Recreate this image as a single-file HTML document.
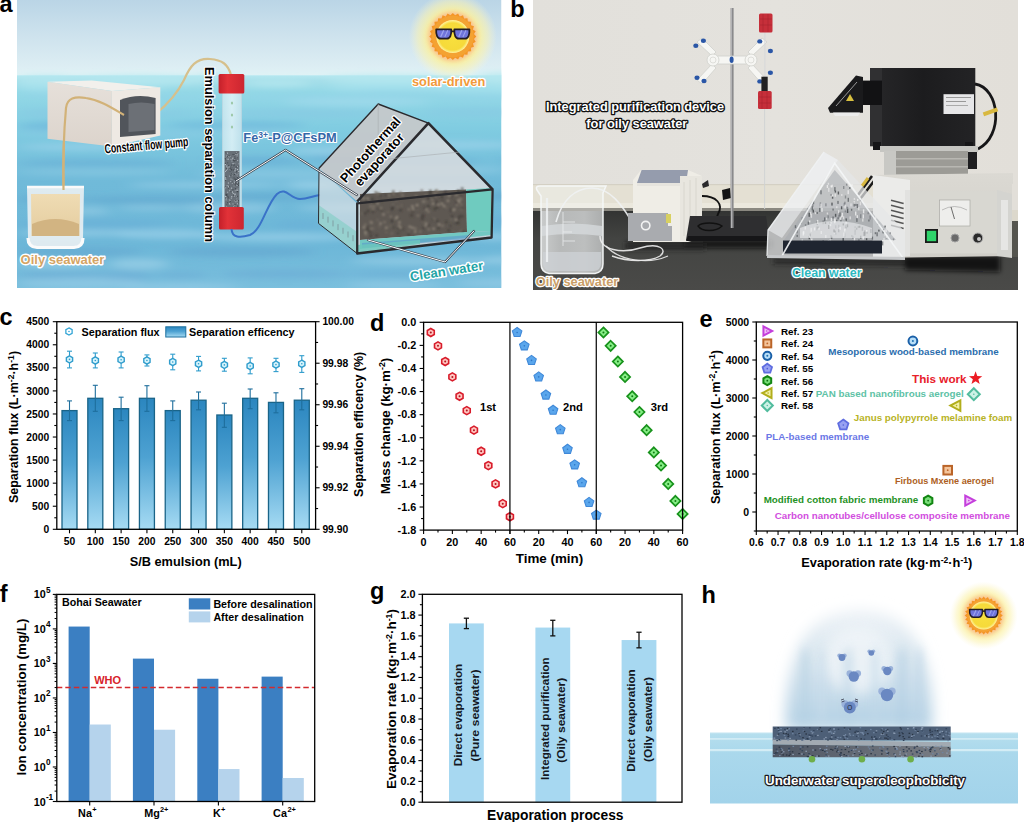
<!DOCTYPE html><html><head><meta charset="utf-8"><title>Figure</title><style>html,body{margin:0;padding:0;background:#fff;}body{width:1024px;height:822px;overflow:hidden;position:relative;}svg{display:block;font-family:'Liberation Sans', Arial, Helvetica, sans-serif;}</style></head><body>
<svg width="1024" height="822" viewBox="0 0 1024 822">
<defs><clipPath id="clipA"><rect x="17" y="0" width="484.5" height="288"/></clipPath><linearGradient id="skyA" x1="0" y1="0" x2="0" y2="1"><stop offset="0" stop-color="#bad5e6"/><stop offset="0.45" stop-color="#cde2ed"/><stop offset="0.85" stop-color="#dcedf3"/><stop offset="1" stop-color="#e0f3f6"/></linearGradient><linearGradient id="seaA" x1="0" y1="0" x2="0" y2="1"><stop offset="0" stop-color="#b6e8f0"/><stop offset="0.025" stop-color="#a4dee9"/><stop offset="0.08" stop-color="#93d8e6"/><stop offset="0.25" stop-color="#80cce1"/><stop offset="0.5" stop-color="#70bad9"/><stop offset="0.8" stop-color="#6db7d8"/><stop offset="1" stop-color="#7abfdd"/></linearGradient><filter id="blurA" x="-20%" y="-100%" width="140%" height="300%"><feGaussianBlur stdDeviation="7 3.2"/></filter><filter id="blurS" x="-20%" y="-50%" width="140%" height="200%"><feGaussianBlur stdDeviation="0.9"/></filter><filter id="blurG" x="-50%" y="-50%" width="200%" height="200%"><feGaussianBlur stdDeviation="1.5"/></filter><linearGradient id="capR" x1="0" y1="0" x2="1" y2="0"><stop offset="0" stop-color="#c4202a"/><stop offset="0.35" stop-color="#e23238"/><stop offset="1" stop-color="#cc2630"/></linearGradient><linearGradient id="boxSide" x1="0" y1="0" x2="0" y2="1"><stop offset="0" stop-color="#e6e0da"/><stop offset="1" stop-color="#dcd4cc"/></linearGradient><linearGradient id="beakerL" x1="0" y1="0" x2="0" y2="1"><stop offset="0" stop-color="#efdcb4"/><stop offset="1" stop-color="#e4cc9e"/></linearGradient><linearGradient id="tubeA" x1="0" y1="0" x2="1" y2="0"><stop offset="0" stop-color="#cfe9f0"/><stop offset="0.5" stop-color="#e8f6f9"/><stop offset="1" stop-color="#cde6ee"/></linearGradient></defs>
<g clip-path="url(#clipA)">
<rect x="17.00" y="0.00" width="484.50" height="76.30" fill="url(#skyA)" stroke="none" stroke-width="1" />
<rect x="17.00" y="75.30" width="484.50" height="212.70" fill="url(#seaA)" stroke="none" stroke-width="1" />
<g filter="url(#blurA)">
<ellipse cx="47" cy="80" rx="30" ry="4.6" fill="#b6e8f0" opacity="0.9"/>
<ellipse cx="139" cy="80" rx="68" ry="4.9" fill="#b6e8f0" opacity="0.9"/>
<ellipse cx="216" cy="77" rx="20" ry="3.6" fill="#b6e8f0" opacity="0.9"/>
<ellipse cx="278" cy="83" rx="34" ry="3.2" fill="#b6e8f0" opacity="0.9"/>
<ellipse cx="396" cy="79" rx="73" ry="4.3" fill="#b6e8f0" opacity="0.9"/>
<ellipse cx="502" cy="78" rx="27" ry="5.4" fill="#b6e8f0" opacity="0.9"/>
<ellipse cx="44" cy="86" rx="27" ry="5.3" fill="#a8e2ee" opacity="0.7"/>
<ellipse cx="119" cy="88" rx="49" ry="3.1" fill="#a8e2ee" opacity="0.7"/>
<ellipse cx="392" cy="87" rx="65" ry="4.8" fill="#a8e2ee" opacity="0.7"/>
<ellipse cx="488" cy="89" rx="49" ry="5.0" fill="#a8e2ee" opacity="0.7"/>
<ellipse cx="62" cy="95" rx="45" ry="3.6" fill="#92d4e8" opacity="0.6"/>
<ellipse cx="176" cy="97" rx="43" ry="2.6" fill="#92d4e8" opacity="0.6"/>
<ellipse cx="294" cy="97" rx="50" ry="4.0" fill="#92d4e8" opacity="0.6"/>
<ellipse cx="392" cy="94" rx="57" ry="4.2" fill="#92d4e8" opacity="0.6"/>
<ellipse cx="476" cy="97" rx="41" ry="5.3" fill="#92d4e8" opacity="0.6"/>
<ellipse cx="122" cy="106" rx="42" ry="4.6" fill="#a6dcee" opacity="0.6"/>
<ellipse cx="358" cy="102" rx="73" ry="4.0" fill="#a6dcee" opacity="0.6"/>
<ellipse cx="66" cy="113" rx="49" ry="5.0" fill="#88c8e4" opacity="0.5"/>
<ellipse cx="155" cy="113" rx="45" ry="3.0" fill="#88c8e4" opacity="0.5"/>
<ellipse cx="301" cy="113" rx="79" ry="4.7" fill="#88c8e4" opacity="0.5"/>
<ellipse cx="476" cy="112" rx="52" ry="4.7" fill="#88c8e4" opacity="0.5"/>
<ellipse cx="85" cy="126" rx="68" ry="5.1" fill="#66aed8" opacity="0.55"/>
<ellipse cx="236" cy="125" rx="71" ry="3.4" fill="#66aed8" opacity="0.55"/>
<ellipse cx="45" cy="133" rx="28" ry="2.8" fill="#8ccae6" opacity="0.5"/>
<ellipse cx="103" cy="134" rx="28" ry="5.1" fill="#8ccae6" opacity="0.5"/>
<ellipse cx="175" cy="134" rx="39" ry="4.0" fill="#8ccae6" opacity="0.5"/>
<ellipse cx="248" cy="133" rx="43" ry="4.6" fill="#8ccae6" opacity="0.5"/>
<ellipse cx="80" cy="147" rx="63" ry="3.3" fill="#a4d6ec" opacity="0.6"/>
<ellipse cx="343" cy="151" rx="56" ry="4.0" fill="#a4d6ec" opacity="0.6"/>
<ellipse cx="456" cy="145" rx="62" ry="4.1" fill="#a4d6ec" opacity="0.6"/>
<ellipse cx="96" cy="163" rx="79" ry="3.6" fill="#62a8d4" opacity="0.5"/>
<ellipse cx="256" cy="161" rx="47" ry="4.4" fill="#62a8d4" opacity="0.5"/>
<ellipse cx="356" cy="158" rx="51" ry="3.7" fill="#62a8d4" opacity="0.5"/>
<ellipse cx="435" cy="162" rx="46" ry="3.2" fill="#62a8d4" opacity="0.5"/>
<ellipse cx="543" cy="160" rx="47" ry="3.2" fill="#62a8d4" opacity="0.5"/>
<ellipse cx="95" cy="172" rx="78" ry="2.8" fill="#94cce6" opacity="0.55"/>
<ellipse cx="271" cy="174" rx="73" ry="4.8" fill="#94cce6" opacity="0.55"/>
<ellipse cx="435" cy="170" rx="72" ry="4.6" fill="#94cce6" opacity="0.55"/>
<ellipse cx="207" cy="185" rx="79" ry="2.5" fill="#a8d8ee" opacity="0.6"/>
<ellipse cx="314" cy="185" rx="29" ry="4.2" fill="#a8d8ee" opacity="0.6"/>
<ellipse cx="423" cy="189" rx="65" ry="3.9" fill="#a8d8ee" opacity="0.6"/>
<ellipse cx="49" cy="199" rx="32" ry="3.5" fill="#5e9fcc" opacity="0.5"/>
<ellipse cx="154" cy="200" rx="77" ry="3.5" fill="#5e9fcc" opacity="0.5"/>
<ellipse cx="273" cy="197" rx="61" ry="3.1" fill="#5e9fcc" opacity="0.5"/>
<ellipse cx="409" cy="199" rx="76" ry="3.9" fill="#5e9fcc" opacity="0.5"/>
<ellipse cx="507" cy="196" rx="30" ry="3.7" fill="#5e9fcc" opacity="0.5"/>
<ellipse cx="89" cy="211" rx="21" ry="4.0" fill="#9ccfe8" opacity="0.55"/>
<ellipse cx="151" cy="208" rx="34" ry="2.5" fill="#9ccfe8" opacity="0.55"/>
<ellipse cx="229" cy="208" rx="47" ry="5.2" fill="#9ccfe8" opacity="0.55"/>
<ellipse cx="365" cy="208" rx="69" ry="4.1" fill="#9ccfe8" opacity="0.55"/>
<ellipse cx="93" cy="224" rx="76" ry="5.2" fill="#6aaed8" opacity="0.5"/>
<ellipse cx="300" cy="225" rx="24" ry="4.9" fill="#6aaed8" opacity="0.5"/>
<ellipse cx="393" cy="223" rx="68" ry="3.5" fill="#6aaed8" opacity="0.5"/>
<ellipse cx="512" cy="221" rx="58" ry="5.2" fill="#6aaed8" opacity="0.5"/>
<ellipse cx="78" cy="233" rx="61" ry="3.1" fill="#a4d6ec" opacity="0.6"/>
<ellipse cx="166" cy="234" rx="50" ry="4.5" fill="#a4d6ec" opacity="0.6"/>
<ellipse cx="277" cy="237" rx="76" ry="4.1" fill="#a4d6ec" opacity="0.6"/>
<ellipse cx="493" cy="237" rx="22" ry="3.6" fill="#a4d6ec" opacity="0.6"/>
<ellipse cx="80" cy="252" rx="63" ry="4.0" fill="#5f9ecc" opacity="0.45"/>
<ellipse cx="242" cy="252" rx="74" ry="4.5" fill="#5f9ecc" opacity="0.45"/>
<ellipse cx="58" cy="264" rx="41" ry="4.3" fill="#a2d4ea" opacity="0.6"/>
<ellipse cx="139" cy="264" rx="30" ry="5.3" fill="#a2d4ea" opacity="0.6"/>
<ellipse cx="423" cy="261" rx="73" ry="3.6" fill="#a2d4ea" opacity="0.6"/>
<ellipse cx="532" cy="260" rx="52" ry="4.9" fill="#a2d4ea" opacity="0.6"/>
<ellipse cx="62" cy="275" rx="45" ry="4.2" fill="#6aa8d4" opacity="0.5"/>
<ellipse cx="126" cy="276" rx="26" ry="5.3" fill="#6aa8d4" opacity="0.5"/>
<ellipse cx="182" cy="275" rx="27" ry="3.2" fill="#6aa8d4" opacity="0.5"/>
<ellipse cx="285" cy="274" rx="65" ry="4.5" fill="#6aa8d4" opacity="0.5"/>
<ellipse cx="398" cy="274" rx="49" ry="3.3" fill="#6aa8d4" opacity="0.5"/>
<ellipse cx="81" cy="283" rx="64" ry="5.5" fill="#9ed0ea" opacity="0.5"/>
<ellipse cx="179" cy="287" rx="60" ry="4.2" fill="#9ed0ea" opacity="0.5"/>
<ellipse cx="394" cy="285" rx="48" ry="3.7" fill="#9ed0ea" opacity="0.5"/>
<ellipse cx="527" cy="283" rx="72" ry="4.8" fill="#9ed0ea" opacity="0.5"/>
</g>
<defs><radialGradient id="sunAg" cx="0.5" cy="0.5" r="0.5"><stop offset="0" stop-color="#fff38a" stop-opacity="1"/><stop offset="0.55" stop-color="#fbf196" stop-opacity="0.95"/><stop offset="0.8" stop-color="#fbf3b4" stop-opacity="0.55"/><stop offset="1" stop-color="#fbf6d0" stop-opacity="0"/></radialGradient><radialGradient id="sunAd" cx="0.5" cy="0.5" r="0.5"><stop offset="0" stop-color="#f8e03e"/><stop offset="0.82" stop-color="#f6da3a"/><stop offset="1" stop-color="#fff4a0"/></radialGradient><filter id="sunAf" x="-50%" y="-50%" width="200%" height="200%"><feGaussianBlur stdDeviation="0.7"/></filter><filter id="sunAp" x="-50%" y="-50%" width="200%" height="200%"><feGaussianBlur stdDeviation="2.2"/></filter></defs>
<circle cx="452.8" cy="36.5" r="44" fill="url(#sunAg)"/>
<circle cx="452.8" cy="36.5" r="24.5" fill="#f7a890" opacity="0.7" filter="url(#sunAp)"/>
<g filter="url(#sunAf)"><polygon points="476.30,36.50 473.97,38.88 475.71,41.73 472.90,43.53 473.97,46.70 470.84,47.83 471.17,51.15 467.86,51.56 467.45,54.87 464.13,54.54 463.00,57.67 459.83,56.60 458.03,59.41 455.18,57.67 452.80,60.00 450.42,57.67 447.57,59.41 445.77,56.60 442.60,57.67 441.47,54.54 438.15,54.87 437.74,51.56 434.43,51.15 434.76,47.83 431.63,46.70 432.70,43.53 429.89,41.73 431.63,38.88 429.30,36.50 431.63,34.12 429.89,31.27 432.70,29.47 431.63,26.30 434.76,25.17 434.43,21.85 437.74,21.44 438.15,18.13 441.47,18.46 442.60,15.33 445.77,16.40 447.57,13.59 450.42,15.33 452.80,13.00 455.18,15.33 458.03,13.59 459.83,16.40 463.00,15.33 464.13,18.46 467.45,18.13 467.86,21.44 471.17,21.85 470.84,25.17 473.97,26.30 472.90,29.47 475.71,31.27 473.97,34.12" fill="#f49628"/><circle cx="452.8" cy="36.5" r="20.90" fill="#f4a232"/></g>
<circle cx="452.8" cy="36.5" r="16.5" fill="url(#sunAd)"/>
<path d="M436.20,29.28 L451.25,29.28 C451.56,34.95 450.12,38.67 446.82,38.67 L440.63,38.67 C437.33,38.67 435.89,34.95 436.20,29.28 Z" fill="#6f74dc" stroke="#231c26" stroke-width="1.75" stroke-linejoin="round"/>
<line x1="440.63" y1="37.02" x2="443.73" y2="30.31" stroke="#9ea4ee" stroke-width="1.34"/>
<line x1="444.76" y1="37.02" x2="447.85" y2="30.31" stroke="#9ea4ee" stroke-width="1.03"/>
<path d="M454.35,29.28 L469.40,29.28 C469.71,34.95 468.27,38.67 464.97,38.67 L458.78,38.67 C455.48,38.67 454.04,34.95 454.35,29.28 Z" fill="#6f74dc" stroke="#231c26" stroke-width="1.75" stroke-linejoin="round"/>
<line x1="458.78" y1="37.02" x2="461.88" y2="30.31" stroke="#9ea4ee" stroke-width="1.34"/>
<line x1="462.91" y1="37.02" x2="466.00" y2="30.31" stroke="#9ea4ee" stroke-width="1.03"/>
<line x1="451.15" y1="31.34" x2="454.45" y2="31.34" stroke="#231c26" stroke-width="1.86"/>
<text x="448.60" y="86.00" font-size="12.8" font-weight="bold" text-anchor="middle" fill="#f29a3a" stroke="#fff" stroke-width="2.4" stroke-linejoin="round" paint-order="stroke" >solar-driven</text>
<path d="M63.5,190 C63,160 64,130 66,108 C67,98 75,96 86,98 C100,100 112,108 124,115" fill="none" stroke="#d2b278" stroke-width="2.2"/>
<path d="M155.6,114 C168,104 178,92 184,80 C190,66 196,58 210,59 C222,60 228,64 231,75" fill="none" stroke="#d6c08c" stroke-width="2.2"/>
<path d="M27,187 L84,187 L83,238 Q83,245 76,246 L35,246 Q28,245 28,238 Z" fill="#f2f3f4" opacity="0.85"/>
<path d="M31,194 L80,194 L79.5,236 L31.5,236 Z" fill="url(#beakerL)"/>
<path d="M32,224 Q55,214 79,224 L79,236 L32,236 Z" fill="#d2b482"/>
<path d="M27,187 L84,187" stroke="#fafafa" stroke-width="2.5"/>
<path d="M28,238 Q28,247 37,247.5 L74,247.5 Q83,247 83,238" fill="none" stroke="#fbfbfb" stroke-width="3.2"/>
<text x="62.50" y="263.80" font-size="13.0" font-weight="bold" text-anchor="middle" fill="#d4a464" stroke="#fff" stroke-width="2.8" stroke-linejoin="round" paint-order="stroke" >Oily seawater</text>
<polygon points="47.50,81.70 91.60,80.60 160.30,87.20 111.90,91.10" fill="#f2f0ec" stroke="none" stroke-width="1" />
<polygon points="47.50,81.70 111.90,91.10 111.90,146.60 47.50,138.80" fill="url(#boxSide)" stroke="none" stroke-width="1" />
<polygon points="111.90,91.10 160.30,87.20 160.30,135.60 111.90,146.60" fill="#eee9e3" stroke="none" stroke-width="1" />
<path d="M120,100 Q137,93 155.6,98 L155.6,134 L120,137 Z" fill="#51555b"/>
<path d="M128.5,104 Q141,101 154.5,104 L154.5,130 L128.5,132 Z" fill="#6c7076"/>
<path d="M63.5,190 C63,160 64,130 66,108 C67,98 75,96 86,98 C100,100 112,108 124,115" fill="none" stroke="#d2b278" stroke-width="2.2"/>
<text x="0.00" y="0.00" font-size="13.4" font-weight="bold" text-anchor="start" fill="#000" stroke="#fff" stroke-width="2.8" stroke-linejoin="round" paint-order="stroke" transform="translate(105,153.4) rotate(-5)" textLength="84" lengthAdjust="spacingAndGlyphs">Constant flow pump</text>
<rect x="222.5" y="90" width="19" height="122" fill="url(#tubeA)" opacity="0.8"/>
<rect x="222.5" y="90" width="19" height="122" fill="none" stroke="#bcd8e2" stroke-width="0.8"/>
<rect x="224.5" y="151" width="15" height="58" fill="#687078"/>
<rect x="227.8" y="182.5" width="1.1" height="1.1" fill="#b8c0c8"/><rect x="237.3" y="178.5" width="1.1" height="1.1" fill="#8a9298"/><rect x="225.4" y="152.3" width="1.1" height="1.1" fill="#4a5056"/><rect x="228.1" y="164.9" width="1.1" height="1.1" fill="#4a5056"/><rect x="232.1" y="182.8" width="1.1" height="1.1" fill="#4a5056"/><rect x="233.4" y="160.1" width="1.1" height="1.1" fill="#3e444a"/><rect x="236.7" y="181.3" width="1.1" height="1.1" fill="#a4acb4"/><rect x="233.9" y="155.1" width="1.1" height="1.1" fill="#8a9298"/><rect x="225.1" y="196.0" width="1.1" height="1.1" fill="#b8c0c8"/><rect x="231.1" y="192.5" width="1.1" height="1.1" fill="#4a5056"/><rect x="234.5" y="204.0" width="1.1" height="1.1" fill="#4a5056"/><rect x="234.7" y="184.4" width="1.1" height="1.1" fill="#3e444a"/><rect x="236.8" y="157.1" width="1.1" height="1.1" fill="#3e444a"/><rect x="231.4" y="166.2" width="1.1" height="1.1" fill="#4a5056"/><rect x="235.4" y="200.2" width="1.1" height="1.1" fill="#4a5056"/><rect x="231.6" y="173.5" width="1.1" height="1.1" fill="#b8c0c8"/><rect x="232.0" y="174.7" width="1.1" height="1.1" fill="#3e444a"/><rect x="237.2" y="190.4" width="1.1" height="1.1" fill="#a4acb4"/><rect x="236.5" y="208.0" width="1.1" height="1.1" fill="#3e444a"/><rect x="234.3" y="170.1" width="1.1" height="1.1" fill="#8a9298"/><rect x="237.2" y="183.9" width="1.1" height="1.1" fill="#3e444a"/><rect x="233.4" y="207.8" width="1.1" height="1.1" fill="#b8c0c8"/><rect x="228.5" y="155.1" width="1.1" height="1.1" fill="#4a5056"/><rect x="225.7" y="197.1" width="1.1" height="1.1" fill="#4a5056"/><rect x="237.1" y="152.6" width="1.1" height="1.1" fill="#4a5056"/><rect x="235.3" y="201.2" width="1.1" height="1.1" fill="#a4acb4"/><rect x="233.0" y="194.9" width="1.1" height="1.1" fill="#4a5056"/><rect x="234.6" y="170.4" width="1.1" height="1.1" fill="#b8c0c8"/><rect x="231.6" y="208.4" width="1.1" height="1.1" fill="#b8c0c8"/><rect x="224.6" y="157.7" width="1.1" height="1.1" fill="#8a9298"/><rect x="224.9" y="162.8" width="1.1" height="1.1" fill="#4a5056"/><rect x="228.6" y="166.5" width="1.1" height="1.1" fill="#a4acb4"/><rect x="238.2" y="170.9" width="1.1" height="1.1" fill="#b8c0c8"/><rect x="237.9" y="202.6" width="1.1" height="1.1" fill="#4a5056"/><rect x="229.8" y="201.1" width="1.1" height="1.1" fill="#4a5056"/><rect x="233.5" y="185.5" width="1.1" height="1.1" fill="#8a9298"/><rect x="225.9" y="207.0" width="1.1" height="1.1" fill="#8a9298"/><rect x="228.3" y="187.7" width="1.1" height="1.1" fill="#3e444a"/><rect x="237.6" y="176.4" width="1.1" height="1.1" fill="#b8c0c8"/><rect x="231.8" y="182.8" width="1.1" height="1.1" fill="#a4acb4"/><rect x="235.5" y="207.8" width="1.1" height="1.1" fill="#b8c0c8"/><rect x="224.8" y="186.6" width="1.1" height="1.1" fill="#3e444a"/><rect x="225.3" y="187.3" width="1.1" height="1.1" fill="#4a5056"/><rect x="229.4" y="203.8" width="1.1" height="1.1" fill="#8a9298"/><rect x="234.4" y="193.6" width="1.1" height="1.1" fill="#a4acb4"/><rect x="232.8" y="205.9" width="1.1" height="1.1" fill="#a4acb4"/><rect x="238.0" y="165.8" width="1.1" height="1.1" fill="#4a5056"/><rect x="228.7" y="185.8" width="1.1" height="1.1" fill="#3e444a"/><rect x="229.6" y="169.3" width="1.1" height="1.1" fill="#b8c0c8"/><rect x="236.3" y="166.6" width="1.1" height="1.1" fill="#4a5056"/><rect x="226.0" y="197.8" width="1.1" height="1.1" fill="#8a9298"/><rect x="234.1" y="159.0" width="1.1" height="1.1" fill="#8a9298"/><rect x="227.6" y="197.3" width="1.1" height="1.1" fill="#3e444a"/><rect x="229.1" y="190.1" width="1.1" height="1.1" fill="#a4acb4"/><rect x="225.9" y="169.9" width="1.1" height="1.1" fill="#b8c0c8"/><rect x="233.9" y="164.3" width="1.1" height="1.1" fill="#3e444a"/><rect x="225.6" y="193.8" width="1.1" height="1.1" fill="#3e444a"/><rect x="236.9" y="177.2" width="1.1" height="1.1" fill="#3e444a"/><rect x="235.5" y="153.4" width="1.1" height="1.1" fill="#3e444a"/><rect x="228.9" y="199.2" width="1.1" height="1.1" fill="#8a9298"/><rect x="227.1" y="167.4" width="1.1" height="1.1" fill="#a4acb4"/><rect x="235.8" y="171.2" width="1.1" height="1.1" fill="#3e444a"/><rect x="230.4" y="181.0" width="1.1" height="1.1" fill="#b8c0c8"/><rect x="231.0" y="187.6" width="1.1" height="1.1" fill="#b8c0c8"/><rect x="230.4" y="174.8" width="1.1" height="1.1" fill="#4a5056"/><rect x="226.7" y="151.8" width="1.1" height="1.1" fill="#8a9298"/><rect x="238.3" y="176.3" width="1.1" height="1.1" fill="#3e444a"/><rect x="225.0" y="177.5" width="1.1" height="1.1" fill="#8a9298"/><rect x="238.0" y="182.5" width="1.1" height="1.1" fill="#3e444a"/><rect x="236.6" y="200.4" width="1.1" height="1.1" fill="#b8c0c8"/><rect x="226.2" y="165.4" width="1.1" height="1.1" fill="#a4acb4"/><rect x="237.2" y="191.0" width="1.1" height="1.1" fill="#3e444a"/><rect x="237.1" y="202.8" width="1.1" height="1.1" fill="#8a9298"/><rect x="225.2" y="178.9" width="1.1" height="1.1" fill="#a4acb4"/><rect x="226.9" y="168.6" width="1.1" height="1.1" fill="#a4acb4"/><rect x="231.8" y="175.1" width="1.1" height="1.1" fill="#8a9298"/><rect x="226.1" y="158.6" width="1.1" height="1.1" fill="#8a9298"/><rect x="231.2" y="196.1" width="1.1" height="1.1" fill="#b8c0c8"/><rect x="227.6" y="158.5" width="1.1" height="1.1" fill="#a4acb4"/><rect x="226.9" y="196.6" width="1.1" height="1.1" fill="#3e444a"/><rect x="236.0" y="151.9" width="1.1" height="1.1" fill="#8a9298"/><rect x="236.6" y="154.3" width="1.1" height="1.1" fill="#b8c0c8"/><rect x="228.0" y="186.7" width="1.1" height="1.1" fill="#8a9298"/><rect x="230.4" y="178.5" width="1.1" height="1.1" fill="#a4acb4"/><rect x="236.5" y="195.7" width="1.1" height="1.1" fill="#a4acb4"/><rect x="226.2" y="155.4" width="1.1" height="1.1" fill="#a4acb4"/><rect x="236.5" y="156.4" width="1.1" height="1.1" fill="#8a9298"/><rect x="231.4" y="160.5" width="1.1" height="1.1" fill="#a4acb4"/><rect x="229.4" y="188.4" width="1.1" height="1.1" fill="#8a9298"/><rect x="228.8" y="166.6" width="1.1" height="1.1" fill="#b8c0c8"/><rect x="230.5" y="158.8" width="1.1" height="1.1" fill="#a4acb4"/><rect x="234.5" y="173.2" width="1.1" height="1.1" fill="#a4acb4"/><rect x="232.4" y="153.9" width="1.1" height="1.1" fill="#4a5056"/><rect x="233.0" y="196.1" width="1.1" height="1.1" fill="#4a5056"/><rect x="233.4" y="154.0" width="1.1" height="1.1" fill="#4a5056"/><rect x="225.2" y="187.3" width="1.1" height="1.1" fill="#b8c0c8"/><rect x="230.4" y="191.1" width="1.1" height="1.1" fill="#4a5056"/><rect x="224.8" y="164.0" width="1.1" height="1.1" fill="#b8c0c8"/><rect x="234.2" y="155.6" width="1.1" height="1.1" fill="#4a5056"/><rect x="227.6" y="158.9" width="1.1" height="1.1" fill="#a4acb4"/><rect x="237.6" y="172.8" width="1.1" height="1.1" fill="#8a9298"/><rect x="235.6" y="166.4" width="1.1" height="1.1" fill="#4a5056"/><rect x="234.2" y="205.0" width="1.1" height="1.1" fill="#8a9298"/><rect x="235.6" y="189.6" width="1.1" height="1.1" fill="#b8c0c8"/><rect x="232.4" y="157.4" width="1.1" height="1.1" fill="#8a9298"/><rect x="234.5" y="178.5" width="1.1" height="1.1" fill="#3e444a"/><rect x="235.3" y="154.0" width="1.1" height="1.1" fill="#a4acb4"/><rect x="232.4" y="189.1" width="1.1" height="1.1" fill="#4a5056"/><rect x="227.0" y="152.8" width="1.1" height="1.1" fill="#a4acb4"/><rect x="224.9" y="158.1" width="1.1" height="1.1" fill="#4a5056"/><rect x="236.2" y="205.8" width="1.1" height="1.1" fill="#8a9298"/><rect x="228.7" y="156.6" width="1.1" height="1.1" fill="#8a9298"/><rect x="231.7" y="192.3" width="1.1" height="1.1" fill="#a4acb4"/><rect x="232.3" y="157.2" width="1.1" height="1.1" fill="#8a9298"/><rect x="225.4" y="170.0" width="1.1" height="1.1" fill="#8a9298"/><rect x="227.0" y="155.9" width="1.1" height="1.1" fill="#3e444a"/><rect x="233.5" y="177.4" width="1.1" height="1.1" fill="#4a5056"/><rect x="228.0" y="185.7" width="1.1" height="1.1" fill="#b8c0c8"/><rect x="232.3" y="206.6" width="1.1" height="1.1" fill="#4a5056"/><rect x="231.5" y="207.0" width="1.1" height="1.1" fill="#4a5056"/><rect x="236.3" y="206.6" width="1.1" height="1.1" fill="#4a5056"/><rect x="234.2" y="194.6" width="1.1" height="1.1" fill="#8a9298"/><rect x="234.1" y="160.4" width="1.1" height="1.1" fill="#4a5056"/><rect x="237.1" y="160.0" width="1.1" height="1.1" fill="#a4acb4"/><rect x="231.5" y="179.1" width="1.1" height="1.1" fill="#8a9298"/><rect x="237.8" y="184.9" width="1.1" height="1.1" fill="#3e444a"/><rect x="226.4" y="194.4" width="1.1" height="1.1" fill="#3e444a"/><rect x="232.7" y="169.4" width="1.1" height="1.1" fill="#3e444a"/><rect x="236.4" y="182.2" width="1.1" height="1.1" fill="#b8c0c8"/><rect x="233.9" y="200.3" width="1.1" height="1.1" fill="#8a9298"/><rect x="236.5" y="184.8" width="1.1" height="1.1" fill="#b8c0c8"/><rect x="237.0" y="169.0" width="1.1" height="1.1" fill="#b8c0c8"/><rect x="231.2" y="173.3" width="1.1" height="1.1" fill="#3e444a"/><rect x="232.5" y="165.1" width="1.1" height="1.1" fill="#4a5056"/><rect x="235.3" y="159.7" width="1.1" height="1.1" fill="#4a5056"/><rect x="234.3" y="163.2" width="1.1" height="1.1" fill="#8a9298"/><rect x="236.2" y="198.3" width="1.1" height="1.1" fill="#8a9298"/><rect x="224.9" y="208.1" width="1.1" height="1.1" fill="#a4acb4"/><rect x="236.5" y="174.3" width="1.1" height="1.1" fill="#a4acb4"/><rect x="231.0" y="164.6" width="1.1" height="1.1" fill="#3e444a"/><rect x="233.6" y="195.8" width="1.1" height="1.1" fill="#a4acb4"/><rect x="237.9" y="200.2" width="1.1" height="1.1" fill="#3e444a"/><rect x="237.0" y="195.7" width="1.1" height="1.1" fill="#3e444a"/><rect x="227.1" y="191.7" width="1.1" height="1.1" fill="#a4acb4"/><rect x="237.1" y="166.0" width="1.1" height="1.1" fill="#a4acb4"/><rect x="228.9" y="175.6" width="1.1" height="1.1" fill="#a4acb4"/><rect x="226.2" y="166.6" width="1.1" height="1.1" fill="#b8c0c8"/><rect x="225.0" y="177.3" width="1.1" height="1.1" fill="#b8c0c8"/><rect x="224.6" y="170.6" width="1.1" height="1.1" fill="#4a5056"/><rect x="229.8" y="155.9" width="1.1" height="1.1" fill="#8a9298"/><rect x="234.9" y="179.4" width="1.1" height="1.1" fill="#3e444a"/><rect x="232.1" y="158.3" width="1.1" height="1.1" fill="#b8c0c8"/><rect x="225.6" y="176.2" width="1.1" height="1.1" fill="#4a5056"/><rect x="236.9" y="203.3" width="1.1" height="1.1" fill="#a4acb4"/><rect x="231.9" y="191.4" width="1.1" height="1.1" fill="#b8c0c8"/><rect x="235.1" y="168.3" width="1.1" height="1.1" fill="#b8c0c8"/><rect x="226.0" y="205.3" width="1.1" height="1.1" fill="#b8c0c8"/><rect x="233.9" y="182.1" width="1.1" height="1.1" fill="#a4acb4"/><rect x="233.8" y="180.5" width="1.1" height="1.1" fill="#a4acb4"/><rect x="234.6" y="190.2" width="1.1" height="1.1" fill="#8a9298"/><rect x="234.9" y="188.3" width="1.1" height="1.1" fill="#3e444a"/><rect x="227.0" y="202.2" width="1.1" height="1.1" fill="#4a5056"/><rect x="226.2" y="204.6" width="1.1" height="1.1" fill="#3e444a"/><rect x="237.4" y="188.3" width="1.1" height="1.1" fill="#8a9298"/><rect x="230.4" y="168.6" width="1.1" height="1.1" fill="#3e444a"/><rect x="230.9" y="169.3" width="1.1" height="1.1" fill="#3e444a"/><rect x="234.4" y="157.6" width="1.1" height="1.1" fill="#3e444a"/><rect x="235.1" y="182.5" width="1.1" height="1.1" fill="#4a5056"/><rect x="229.5" y="166.7" width="1.1" height="1.1" fill="#4a5056"/><rect x="225.2" y="159.3" width="1.1" height="1.1" fill="#4a5056"/><rect x="231.6" y="165.6" width="1.1" height="1.1" fill="#8a9298"/><rect x="229.5" y="170.5" width="1.1" height="1.1" fill="#4a5056"/><rect x="230.8" y="197.6" width="1.1" height="1.1" fill="#a4acb4"/><rect x="229.4" y="199.8" width="1.1" height="1.1" fill="#a4acb4"/><rect x="226.6" y="185.1" width="1.1" height="1.1" fill="#a4acb4"/><rect x="232.4" y="203.4" width="1.1" height="1.1" fill="#a4acb4"/><rect x="227.1" y="162.3" width="1.1" height="1.1" fill="#4a5056"/><rect x="233.9" y="173.8" width="1.1" height="1.1" fill="#3e444a"/><rect x="232.8" y="159.8" width="1.1" height="1.1" fill="#4a5056"/><rect x="235.7" y="182.5" width="1.1" height="1.1" fill="#3e444a"/><rect x="232.5" y="163.0" width="1.1" height="1.1" fill="#b8c0c8"/><rect x="229.7" y="168.2" width="1.1" height="1.1" fill="#4a5056"/><rect x="237.0" y="205.6" width="1.1" height="1.1" fill="#4a5056"/><rect x="228.9" y="203.2" width="1.1" height="1.1" fill="#b8c0c8"/><rect x="233.4" y="207.2" width="1.1" height="1.1" fill="#b8c0c8"/><rect x="237.0" y="189.6" width="1.1" height="1.1" fill="#a4acb4"/><rect x="232.9" y="192.9" width="1.1" height="1.1" fill="#a4acb4"/><rect x="226.0" y="194.6" width="1.1" height="1.1" fill="#3e444a"/><rect x="231.4" y="181.3" width="1.1" height="1.1" fill="#4a5056"/><rect x="227.3" y="196.1" width="1.1" height="1.1" fill="#3e444a"/><rect x="225.0" y="180.0" width="1.1" height="1.1" fill="#4a5056"/><rect x="226.1" y="167.6" width="1.1" height="1.1" fill="#3e444a"/><rect x="226.4" y="196.7" width="1.1" height="1.1" fill="#8a9298"/><rect x="237.4" y="153.0" width="1.1" height="1.1" fill="#8a9298"/><rect x="227.8" y="155.9" width="1.1" height="1.1" fill="#8a9298"/><rect x="224.8" y="170.9" width="1.1" height="1.1" fill="#b8c0c8"/><rect x="236.7" y="191.1" width="1.1" height="1.1" fill="#3e444a"/><rect x="225.6" y="199.3" width="1.1" height="1.1" fill="#a4acb4"/><rect x="234.5" y="193.7" width="1.1" height="1.1" fill="#b8c0c8"/><rect x="238.5" y="163.2" width="1.1" height="1.1" fill="#a4acb4"/>
<ellipse cx="232" cy="103" rx="1.1" ry="1.6" fill="#9cc8a8"/>
<ellipse cx="232" cy="115" rx="1.1" ry="1.6" fill="#9cc8a8"/>
<ellipse cx="232" cy="127" rx="1.1" ry="1.6" fill="#9cc8a8"/>
<rect x="218.6" y="74" width="25.7" height="19.6" rx="1.5" fill="url(#capR)"/>
<rect x="219" y="207" width="24.8" height="22.4" rx="1.5" fill="url(#capR)"/>
<path d="M231.5,229 C232,238 240,238 250,235 C262,230 266,205 277,194 C286,186 290,199 300,199 C308,199 312,196 320,195" fill="none" stroke="#3a72c8" stroke-width="2"/>
<text x="0.00" y="0.00" font-size="12.8" font-weight="bold" text-anchor="middle" fill="#000" stroke="#fff" stroke-width="2.2" stroke-linejoin="round" paint-order="stroke" transform="translate(204.6,154.5) rotate(90)" textLength="175" lengthAdjust="spacingAndGlyphs">Emulsion separation column</text>
<polygon points="319.00,168.20 378.20,104.00 428.40,123.10 357.20,201.50" fill="#c6c8ca" stroke="none" stroke-width="1" opacity="0.93"/>
<polygon points="428.40,123.10 492.60,189.30 357.20,203.40" fill="#dadcde" stroke="none" stroke-width="1" opacity="0.85"/>
<polygon points="319.00,168.20 357.20,203.40 357.20,253.50 318.50,223.40" fill="#d8e0e4" stroke="none" stroke-width="1" opacity="0.7"/>
<polygon points="357.20,203.40 492.60,189.30 491.60,237.50 357.20,253.50" fill="#d4d8da" stroke="none" stroke-width="1" opacity="0.8"/>
<polygon points="318.50,205.00 357.20,232.00 357.20,253.50 318.50,223.40" fill="#88cec8" stroke="none" stroke-width="1" opacity="0.7"/>
<line x1="323" y1="213.0" x2="323" y2="219.0" stroke="#7a8a90" stroke-width="0.7"/>
<line x1="328" y1="216.7" x2="328" y2="222.7" stroke="#7a8a90" stroke-width="0.7"/>
<line x1="333" y1="220.4" x2="333" y2="226.4" stroke="#7a8a90" stroke-width="0.7"/>
<line x1="338" y1="224.1" x2="338" y2="230.1" stroke="#7a8a90" stroke-width="0.7"/>
<line x1="343" y1="227.8" x2="343" y2="233.8" stroke="#7a8a90" stroke-width="0.7"/>
<line x1="348" y1="231.5" x2="348" y2="237.5" stroke="#7a8a90" stroke-width="0.7"/>
<line x1="353" y1="235.2" x2="353" y2="241.2" stroke="#7a8a90" stroke-width="0.7"/>
<polygon points="360.00,194.00 466.00,189.50 467.00,232.00 360.00,240.00" fill="#5e5852" stroke="none" stroke-width="1" />
<g filter="url(#blurS)">
<circle cx="426.2" cy="222.7" r="1.2" fill="#6e675e"/>
<circle cx="365.0" cy="213.3" r="1.2" fill="#3e3a36"/>
<circle cx="428.8" cy="229.5" r="1.2" fill="#82796e"/>
<circle cx="400.3" cy="229.4" r="1.2" fill="#4a4540"/>
<circle cx="418.0" cy="215.6" r="1.2" fill="#82796e"/>
<circle cx="437.3" cy="207.5" r="1.2" fill="#3e3a36"/>
<circle cx="456.4" cy="222.4" r="1.2" fill="#3e3a36"/>
<circle cx="440.5" cy="192.5" r="1.2" fill="#6e675e"/>
<circle cx="425.6" cy="195.6" r="1.2" fill="#82796e"/>
<circle cx="462.2" cy="188.6" r="1.2" fill="#3e3a36"/>
<circle cx="460.9" cy="195.8" r="1.2" fill="#3e3a36"/>
<circle cx="391.8" cy="233.9" r="1.2" fill="#6e675e"/>
<circle cx="452.2" cy="216.4" r="1.2" fill="#3e3a36"/>
<circle cx="458.9" cy="218.9" r="1.2" fill="#4a4540"/>
<circle cx="392.8" cy="207.4" r="1.2" fill="#3e3a36"/>
<circle cx="458.4" cy="200.2" r="1.2" fill="#948b7e"/>
<circle cx="393.0" cy="218.1" r="1.2" fill="#82796e"/>
<circle cx="423.4" cy="221.3" r="1.2" fill="#82796e"/>
<circle cx="393.9" cy="227.5" r="1.2" fill="#4a4540"/>
<circle cx="433.7" cy="197.8" r="1.2" fill="#4a4540"/>
<circle cx="434.6" cy="192.2" r="1.2" fill="#82796e"/>
<circle cx="459.8" cy="204.2" r="1.2" fill="#4a4540"/>
<circle cx="363.9" cy="227.5" r="1.2" fill="#948b7e"/>
<circle cx="400.8" cy="228.2" r="1.2" fill="#4a4540"/>
<circle cx="366.8" cy="200.7" r="1.2" fill="#3e3a36"/>
<circle cx="374.3" cy="203.2" r="1.2" fill="#4a4540"/>
<circle cx="397.5" cy="206.9" r="1.2" fill="#6e675e"/>
<circle cx="387.8" cy="212.1" r="1.2" fill="#6e675e"/>
<circle cx="439.1" cy="224.5" r="1.2" fill="#948b7e"/>
<circle cx="365.8" cy="234.4" r="1.2" fill="#82796e"/>
<circle cx="383.5" cy="214.5" r="1.2" fill="#948b7e"/>
<circle cx="456.6" cy="203.6" r="1.2" fill="#6e675e"/>
<circle cx="371.5" cy="222.7" r="1.2" fill="#948b7e"/>
<circle cx="380.3" cy="195.5" r="1.2" fill="#3e3a36"/>
<circle cx="436.3" cy="203.2" r="1.2" fill="#4a4540"/>
<circle cx="378.6" cy="194.3" r="1.2" fill="#6e675e"/>
<circle cx="417.0" cy="208.3" r="1.2" fill="#3e3a36"/>
<circle cx="438.3" cy="204.6" r="1.2" fill="#948b7e"/>
<circle cx="408.9" cy="209.4" r="1.2" fill="#82796e"/>
<circle cx="462.8" cy="216.5" r="1.2" fill="#4a4540"/>
<circle cx="396.4" cy="200.5" r="1.2" fill="#6e675e"/>
<circle cx="459.8" cy="216.2" r="1.2" fill="#4a4540"/>
<circle cx="373.0" cy="211.5" r="1.2" fill="#3e3a36"/>
<circle cx="368.1" cy="211.1" r="1.2" fill="#3e3a36"/>
<circle cx="408.7" cy="234.8" r="1.2" fill="#3e3a36"/>
<circle cx="462.5" cy="208.3" r="1.2" fill="#4a4540"/>
<circle cx="433.0" cy="203.7" r="1.2" fill="#948b7e"/>
<circle cx="392.0" cy="209.3" r="1.2" fill="#3e3a36"/>
<circle cx="373.6" cy="228.6" r="1.2" fill="#6e675e"/>
<circle cx="460.9" cy="216.0" r="1.2" fill="#4a4540"/>
<circle cx="451.4" cy="196.8" r="1.2" fill="#4a4540"/>
<circle cx="390.0" cy="226.1" r="1.2" fill="#6e675e"/>
<circle cx="399.2" cy="225.8" r="1.2" fill="#948b7e"/>
<circle cx="433.5" cy="218.9" r="1.2" fill="#948b7e"/>
<circle cx="399.4" cy="222.2" r="1.2" fill="#948b7e"/>
<circle cx="448.0" cy="200.7" r="1.2" fill="#948b7e"/>
<circle cx="460.6" cy="203.4" r="1.2" fill="#3e3a36"/>
<circle cx="421.8" cy="190.7" r="1.2" fill="#6e675e"/>
<circle cx="441.7" cy="203.7" r="1.2" fill="#948b7e"/>
<circle cx="409.7" cy="226.7" r="1.2" fill="#948b7e"/>
<circle cx="397.8" cy="219.6" r="1.2" fill="#4a4540"/>
<circle cx="398.1" cy="228.4" r="1.2" fill="#4a4540"/>
<circle cx="462.5" cy="230.5" r="1.2" fill="#6e675e"/>
<circle cx="376.6" cy="235.4" r="1.2" fill="#3e3a36"/>
<circle cx="448.2" cy="230.3" r="1.2" fill="#4a4540"/>
<circle cx="391.1" cy="195.1" r="1.2" fill="#4a4540"/>
<circle cx="379.7" cy="226.4" r="1.2" fill="#6e675e"/>
<circle cx="415.2" cy="231.7" r="1.2" fill="#948b7e"/>
<circle cx="426.2" cy="224.1" r="1.2" fill="#948b7e"/>
<circle cx="436.2" cy="190.8" r="1.2" fill="#3e3a36"/>
<circle cx="422.4" cy="217.7" r="1.2" fill="#3e3a36"/>
<circle cx="384.6" cy="222.1" r="1.2" fill="#82796e"/>
<circle cx="463.6" cy="231.4" r="1.2" fill="#3e3a36"/>
<circle cx="367.6" cy="198.5" r="1.2" fill="#948b7e"/>
<circle cx="461.7" cy="209.7" r="1.2" fill="#6e675e"/>
<circle cx="365.7" cy="213.2" r="1.2" fill="#4a4540"/>
<circle cx="430.2" cy="193.0" r="1.2" fill="#3e3a36"/>
<circle cx="386.5" cy="231.5" r="1.2" fill="#82796e"/>
<circle cx="398.1" cy="233.2" r="1.2" fill="#4a4540"/>
<circle cx="451.2" cy="219.2" r="1.2" fill="#6e675e"/>
<circle cx="400.5" cy="192.8" r="1.2" fill="#6e675e"/>
<circle cx="393.0" cy="204.5" r="1.2" fill="#6e675e"/>
<circle cx="397.0" cy="216.9" r="1.2" fill="#948b7e"/>
<circle cx="446.3" cy="207.6" r="1.2" fill="#6e675e"/>
<circle cx="428.2" cy="206.2" r="1.2" fill="#3e3a36"/>
<circle cx="378.1" cy="209.0" r="1.2" fill="#4a4540"/>
<circle cx="460.6" cy="231.1" r="1.2" fill="#6e675e"/>
<circle cx="371.4" cy="228.6" r="1.2" fill="#82796e"/>
<circle cx="401.3" cy="205.5" r="1.2" fill="#6e675e"/>
<circle cx="417.6" cy="204.7" r="1.2" fill="#6e675e"/>
<circle cx="400.7" cy="210.2" r="1.2" fill="#3e3a36"/>
<circle cx="412.8" cy="211.7" r="1.2" fill="#4a4540"/>
<circle cx="401.5" cy="228.7" r="1.2" fill="#3e3a36"/>
<circle cx="423.4" cy="201.6" r="1.2" fill="#948b7e"/>
<circle cx="413.1" cy="208.9" r="1.2" fill="#948b7e"/>
<circle cx="459.4" cy="202.1" r="1.2" fill="#948b7e"/>
<circle cx="376.8" cy="193.3" r="1.2" fill="#6e675e"/>
<circle cx="461.0" cy="199.3" r="1.2" fill="#82796e"/>
<circle cx="442.5" cy="225.7" r="1.2" fill="#82796e"/>
<circle cx="411.5" cy="215.3" r="1.2" fill="#3e3a36"/>
<circle cx="458.3" cy="223.0" r="1.2" fill="#3e3a36"/>
<circle cx="412.5" cy="227.8" r="1.2" fill="#948b7e"/>
<circle cx="392.2" cy="218.3" r="1.2" fill="#4a4540"/>
<circle cx="415.4" cy="228.5" r="1.2" fill="#82796e"/>
<circle cx="363.7" cy="198.4" r="1.2" fill="#948b7e"/>
<circle cx="417.0" cy="205.2" r="1.2" fill="#948b7e"/>
<circle cx="437.3" cy="190.7" r="1.2" fill="#948b7e"/>
<circle cx="399.2" cy="224.0" r="1.2" fill="#6e675e"/>
<circle cx="375.6" cy="192.4" r="1.2" fill="#6e675e"/>
<circle cx="408.9" cy="231.1" r="1.2" fill="#6e675e"/>
<circle cx="381.7" cy="210.9" r="1.2" fill="#4a4540"/>
<circle cx="423.3" cy="220.5" r="1.2" fill="#4a4540"/>
<circle cx="450.4" cy="225.9" r="1.2" fill="#4a4540"/>
<circle cx="402.4" cy="228.6" r="1.2" fill="#3e3a36"/>
<circle cx="454.6" cy="209.2" r="1.2" fill="#82796e"/>
<circle cx="393.3" cy="191.6" r="1.2" fill="#4a4540"/>
<circle cx="422.0" cy="218.7" r="1.2" fill="#4a4540"/>
<circle cx="455.8" cy="195.0" r="1.2" fill="#4a4540"/>
<circle cx="433.6" cy="228.8" r="1.2" fill="#948b7e"/>
<circle cx="417.4" cy="209.1" r="1.2" fill="#6e675e"/>
<circle cx="445.6" cy="192.2" r="1.2" fill="#3e3a36"/>
<circle cx="389.5" cy="195.4" r="1.2" fill="#82796e"/>
<circle cx="430.4" cy="191.0" r="1.2" fill="#4a4540"/>
<circle cx="462.8" cy="232.3" r="1.2" fill="#4a4540"/>
<circle cx="367.0" cy="229.7" r="1.2" fill="#3e3a36"/>
<circle cx="425.3" cy="226.3" r="1.2" fill="#82796e"/>
<circle cx="435.4" cy="195.5" r="1.2" fill="#948b7e"/>
<circle cx="434.7" cy="208.9" r="1.2" fill="#3e3a36"/>
<circle cx="424.9" cy="208.3" r="1.2" fill="#3e3a36"/>
<circle cx="368.9" cy="202.0" r="1.2" fill="#6e675e"/>
<circle cx="373.1" cy="209.1" r="1.2" fill="#82796e"/>
<circle cx="390.8" cy="216.7" r="1.2" fill="#82796e"/>
<circle cx="438.5" cy="228.1" r="1.2" fill="#3e3a36"/>
<circle cx="363.0" cy="196.9" r="1.2" fill="#6e675e"/>
<circle cx="412.4" cy="206.2" r="1.2" fill="#948b7e"/>
<circle cx="456.2" cy="194.8" r="1.2" fill="#948b7e"/>
<circle cx="377.6" cy="220.0" r="1.2" fill="#6e675e"/>
<circle cx="391.9" cy="233.0" r="1.2" fill="#6e675e"/>
<circle cx="426.0" cy="201.6" r="1.2" fill="#6e675e"/>
<circle cx="386.3" cy="228.5" r="1.2" fill="#948b7e"/>
<circle cx="415.3" cy="196.4" r="1.2" fill="#3e3a36"/>
<circle cx="450.9" cy="208.9" r="1.2" fill="#4a4540"/>
<circle cx="380.5" cy="223.5" r="1.2" fill="#948b7e"/>
<circle cx="370.8" cy="221.9" r="1.2" fill="#82796e"/>
<circle cx="450.9" cy="211.2" r="1.2" fill="#4a4540"/>
<circle cx="386.6" cy="230.4" r="1.2" fill="#4a4540"/>
<circle cx="461.2" cy="193.2" r="1.2" fill="#6e675e"/>
<circle cx="365.0" cy="224.7" r="1.2" fill="#82796e"/>
<circle cx="449.4" cy="230.5" r="1.2" fill="#4a4540"/>
<circle cx="432.2" cy="199.6" r="1.2" fill="#82796e"/>
<circle cx="370.6" cy="232.6" r="1.2" fill="#4a4540"/>
<circle cx="446.5" cy="195.3" r="1.2" fill="#6e675e"/>
<circle cx="400.7" cy="227.9" r="1.2" fill="#948b7e"/>
<circle cx="396.3" cy="218.4" r="1.2" fill="#948b7e"/>
<circle cx="444.0" cy="205.9" r="1.2" fill="#948b7e"/>
<circle cx="428.7" cy="225.3" r="1.2" fill="#4a4540"/>
<circle cx="461.0" cy="204.4" r="1.2" fill="#82796e"/>
<circle cx="423.0" cy="215.4" r="1.2" fill="#3e3a36"/>
<circle cx="402.7" cy="195.3" r="1.2" fill="#82796e"/>
<circle cx="381.2" cy="200.7" r="1.2" fill="#4a4540"/>
<circle cx="453.6" cy="210.0" r="1.2" fill="#948b7e"/>
<circle cx="362.0" cy="213.6" r="1.2" fill="#6e675e"/>
<circle cx="456.9" cy="202.9" r="1.2" fill="#4a4540"/>
<circle cx="372.3" cy="199.3" r="1.2" fill="#3e3a36"/>
<circle cx="369.3" cy="230.8" r="1.2" fill="#4a4540"/>
<circle cx="377.7" cy="203.4" r="1.2" fill="#948b7e"/>
<circle cx="446.3" cy="222.1" r="1.2" fill="#3e3a36"/>
<circle cx="365.4" cy="232.2" r="1.2" fill="#948b7e"/>
<circle cx="457.2" cy="204.9" r="1.2" fill="#82796e"/>
<circle cx="432.8" cy="219.4" r="1.2" fill="#4a4540"/>
<circle cx="449.4" cy="195.8" r="1.2" fill="#948b7e"/>
<circle cx="392.0" cy="221.2" r="1.2" fill="#3e3a36"/>
<circle cx="365.5" cy="224.2" r="1.2" fill="#6e675e"/>
<circle cx="385.7" cy="195.3" r="1.2" fill="#4a4540"/>
<circle cx="455.9" cy="219.8" r="1.2" fill="#948b7e"/>
<circle cx="381.0" cy="208.0" r="1.2" fill="#82796e"/>
<circle cx="437.4" cy="221.1" r="1.2" fill="#3e3a36"/>
<circle cx="441.9" cy="197.0" r="1.2" fill="#3e3a36"/>
<circle cx="458.9" cy="217.0" r="1.2" fill="#4a4540"/>
<circle cx="436.8" cy="201.5" r="1.2" fill="#4a4540"/>
<circle cx="368.3" cy="226.9" r="1.2" fill="#4a4540"/>
<circle cx="379.5" cy="193.6" r="1.2" fill="#6e675e"/>
<circle cx="420.2" cy="231.6" r="1.2" fill="#82796e"/>
<circle cx="386.4" cy="227.2" r="1.2" fill="#82796e"/>
<circle cx="458.4" cy="190.9" r="1.2" fill="#3e3a36"/>
<circle cx="428.4" cy="211.8" r="1.2" fill="#82796e"/>
<circle cx="366.9" cy="229.4" r="1.2" fill="#4a4540"/>
<circle cx="393.5" cy="193.8" r="1.2" fill="#82796e"/>
<circle cx="459.9" cy="197.1" r="1.2" fill="#6e675e"/>
<circle cx="428.0" cy="198.2" r="1.2" fill="#3e3a36"/>
<circle cx="370.7" cy="206.3" r="1.2" fill="#82796e"/>
<circle cx="370.9" cy="235.9" r="1.2" fill="#3e3a36"/>
<circle cx="423.6" cy="227.8" r="1.2" fill="#3e3a36"/>
<circle cx="426.4" cy="209.4" r="1.2" fill="#948b7e"/>
<circle cx="412.1" cy="215.8" r="1.2" fill="#4a4540"/>
<circle cx="415.8" cy="196.3" r="1.2" fill="#82796e"/>
<circle cx="456.0" cy="202.2" r="1.2" fill="#4a4540"/>
<circle cx="453.8" cy="232.8" r="1.2" fill="#6e675e"/>
<circle cx="373.9" cy="206.1" r="1.2" fill="#82796e"/>
<circle cx="442.3" cy="200.9" r="1.2" fill="#4a4540"/>
</g>
<polygon points="466.00,189.50 491.00,188.00 491.00,231.00 467.00,232.00" fill="#66cabb" stroke="none" stroke-width="1" opacity="0.9"/>
<polygon points="360.00,240.00 467.00,232.00 491.00,231.00 491.00,235.00 360.00,249.00" fill="#72c8c2" stroke="none" stroke-width="1" />
<polygon points="362.00,243.00 470.00,235.00 470.00,239.00 362.00,248.00" fill="#5a98cc" stroke="none" stroke-width="1" opacity="0.6"/>
<polygon points="357.20,245.00 420.00,240.00 420.00,244.00 357.20,253.50" fill="#6cc8bc" stroke="none" stroke-width="1" opacity="0.8"/>
<g fill="none" stroke="#2a2a2e" stroke-linejoin="round">
<path d="M357.2,201.5 L428.4,123.1 L492.6,189.3" stroke-width="2.6"/>
<path d="M319,168.2 L378.2,104 L428.4,123.1" stroke-width="1.4"/>
<path d="M357.2,203.4 L492.6,189.3 L491.6,237.5 L357.2,253.5 Z" stroke-width="2.3"/>
<path d="M319,168.2 L318.5,223.4 L357.2,253.5" stroke-width="1.0"/>
</g>
<path d="M378.2,104 L378.2,160 M378.2,160 L460,152" stroke="#a8acb0" stroke-width="0.6" fill="none"/>
<text x="0.00" y="0.00" font-size="12.9" font-weight="bold" text-anchor="middle" fill="#000" stroke="#fff" stroke-width="2.4" stroke-linejoin="round" paint-order="stroke" transform="translate(373.6,152.6) rotate(-48)" >Photothermal</text>
<text x="0.00" y="0.00" font-size="12.9" font-weight="bold" text-anchor="middle" fill="#000" stroke="#fff" stroke-width="2.4" stroke-linejoin="round" paint-order="stroke" transform="translate(382.6,162.6) rotate(-48)" >evaporator</text>
<g fill="none" stroke-linecap="round" stroke-linejoin="round">
<path d="M236,181 L285.5,150 L357,195" stroke="#3a4450" stroke-width="2.3"/>
<path d="M368,240 L445,262 L474,231" stroke="#3a4450" stroke-width="2.3"/>
<path d="M236,181 L285.5,150 L357,195" stroke="#fff" stroke-width="1.0"/>
<path d="M368,240 L445,262 L474,231" stroke="#fff" stroke-width="1.0"/>
</g>
<text x="290.00" y="142.30" font-size="12.8" font-weight="bold" text-anchor="middle" fill="#3567a8" stroke="#fff" stroke-width="2.2" stroke-linejoin="round" paint-order="stroke" >Fe<tspan font-size="8.5" dy="-4.5">3+</tspan><tspan dy="4.5">-P@CFsPM</tspan></text>
<text x="446.50" y="275.50" font-size="13.2" font-weight="bold" text-anchor="middle" fill="#1ea4a6" stroke="#fff" stroke-width="2.9" stroke-linejoin="round" paint-order="stroke" transform="rotate(-9 446.5 271)" >Clean water</text>
</g>
<defs><clipPath id="clipB"><rect x="533" y="0" width="485" height="290"/></clipPath><linearGradient id="wallB" x1="0" y1="0" x2="1" y2="0"><stop offset="0" stop-color="#e2e0db"/><stop offset="0.5" stop-color="#e4e2dd"/><stop offset="1" stop-color="#e2dfd9"/></linearGradient><linearGradient id="benchB" x1="0" y1="0" x2="0" y2="1"><stop offset="0" stop-color="#333433"/><stop offset="0.35" stop-color="#434442"/><stop offset="1" stop-color="#4a4a48"/></linearGradient><linearGradient id="psB" x1="0" y1="0" x2="0" y2="1"><stop offset="0" stop-color="#dbd9d3"/><stop offset="1" stop-color="#d0cec8"/></linearGradient><linearGradient id="beakB" x1="0" y1="0" x2="1" y2="0"><stop offset="0" stop-color="#d0d2d2"/><stop offset="0.3" stop-color="#bcbebe"/><stop offset="0.7" stop-color="#c2c4c4"/><stop offset="1" stop-color="#b0b2b2"/></linearGradient><filter id="blurB" x="-20%" y="-100%" width="140%" height="300%"><feGaussianBlur stdDeviation="2.5"/></filter><linearGradient id="lampB" x1="0" y1="0" x2="1" y2="0"><stop offset="0" stop-color="#28282a"/><stop offset="0.5" stop-color="#1c1c1e"/><stop offset="1" stop-color="#232325"/></linearGradient></defs>
<g clip-path="url(#clipB)">
<rect x="533.00" y="0.00" width="485.00" height="190.00" fill="url(#wallB)" stroke="none" stroke-width="1" />
<rect x="533.00" y="184.00" width="485.00" height="27.00" fill="#e4e0d3" stroke="none" stroke-width="1" />
<rect x="533.00" y="184.00" width="485.00" height="1.20" fill="#d4d0c4" stroke="none" stroke-width="1" />
<rect x="533.00" y="203.00" width="485.00" height="5.00" fill="#ebe8dd" stroke="none" stroke-width="1" />
<rect x="533.00" y="208.00" width="485.00" height="3.00" fill="#8a8880" stroke="none" stroke-width="1" />
<rect x="533.00" y="211.00" width="485.00" height="79.00" fill="url(#benchB)" stroke="none" stroke-width="1" />
<g filter="url(#blurB)">
<path d="M684,240 L772,240 L772,248 L684,248 Z" fill="#0c0c0c" opacity="0.9"/>
<path d="M905,256 L1000,256 L1000,272 L905,270 Z" fill="#0c0c0e" opacity="0.9"/>
<path d="M773,258 L905,258 L905,266 L773,264 Z" fill="#1c1c1e" opacity="0.7"/>
<path d="M625,242 L705,242 L705,250 L625,250 Z" fill="#202020" opacity="0.7"/>
</g>
<path d="M537,190 Q535,186 540,186 L606,186 L603,193 L603,264 Q603,272 595,273.5 L549,273.5 Q541,272 541,264 L541,196 Z" fill="#f4f6f7" opacity="0.35"/>
<path d="M541,211 L603,211 L603,264 Q603,272 595,273.5 L549,273.5 Q541,272 541,264 Z" fill="url(#beakB)" opacity="0.92"/>
<path d="M542,226 Q572,221 602,226 L602,236 Q572,232 542,236 Z" fill="#d6dadc" opacity="0.8"/>
<path d="M543,252 L601,252 L601,263 Q601,270 594,271 L550,271 Q543,270 543,263 Z" fill="#cdd1d4" opacity="0.8"/>
<path d="M537,190 Q535,186 540,186 L606,186 L603,193 L603,264 Q603,272 595,273.5 L549,273.5 Q541,272 541,264 L541,196 Z" fill="none" stroke="#f6f8f9" stroke-width="1.5" opacity="0.95"/>
<path d="M547,198 L547,262" stroke="#f0f3f5" stroke-width="2.2" opacity="0.85"/>
<path d="M563,212 L563,246 M563,222 L575,222 M563,232 L572,232 M563,241 L575,241" stroke="#eef0f2" stroke-width="0.9" opacity="0.8"/>
<path d="M556,222 C562,200 575,188 592,188 C610,188 622,205 632,222" fill="none" stroke="#f0f2f3" stroke-width="1.6" opacity="0.9"/>
<path d="M633,180 L641,170 L688,170 L702,176 L702,238 L688,242 L633,242 Z" fill="#efede6"/>
<path d="M641.6,170 L688,170 L686,183 L637,183 Z" fill="#959cad"/>
<path d="M637,183 L686,183 L686,186 L637,186 Z" fill="#e6e4de"/>
<path d="M680,176 L702,176 L702,238 L680,241 Z" fill="#e8e6df"/>
<path d="M684,182 L684,236 M690,180 L690,236 M696,178 L696,236" stroke="#d8d6ce" stroke-width="1"/>
<path d="M628,213 L668,213 L668,226 L672,226 L672,241 L628,241 Z" fill="#a9abaf"/>
<circle cx="645.7" cy="225.6" r="4.2" fill="none" stroke="#f2f2f2" stroke-width="1.6"/>
<rect x="666" y="214" width="5" height="9" fill="#d8d060"/>
<path d="M600,236 C600,250 622,254 640,248 C660,242 668,250 660,256 C650,262 628,262 612,256" fill="none" stroke="#f0f0f0" stroke-width="1.4" opacity="0.9"/>
<path d="M606,246 C620,262 650,264 668,256" fill="none" stroke="#eaeaea" stroke-width="1.2" opacity="0.9"/>
<path d="M702,196 C716,196 724,204 718,214 C714,222 724,226 730,222" fill="none" stroke="#111" stroke-width="1.8"/>
<path d="M722,190 L730,188 L731,198 L723,200 Z" fill="#141414"/>
<path d="M702,184 L708,180 L709,186 L703,188 Z" fill="#2a2a2c"/>
<path d="M690,216 L766,216 L769,236 L686,240 Z" fill="#2e2e30"/>
<path d="M688,236 L769,236 L769,241 L686,241 Z" fill="#161618"/>
<path d="M698,226 C702,232 716,232 722,226 C716,222 702,222 698,226 Z" fill="none" stroke="#111" stroke-width="1.4"/>
<rect x="730.60" y="8.00" width="3.00" height="220.00" fill="#8a8a8c" stroke="none" stroke-width="1" />
<rect x="731.10" y="8.00" width="0.90" height="220.00" fill="#b8b8ba" stroke="none" stroke-width="1" />
<g stroke="#cfd0cc" stroke-width="0.8" fill="#f6f6f3">
<path d="M697,42 L702,38 L716,52 L712,56 Z"/>
<path d="M697,80 L702,84 L716,68 L712,64 Z"/>
<path d="M767,42 L762,38 L748,52 L752,56 Z"/>
<path d="M767,80 L762,84 L748,68 L752,64 Z"/>
<rect x="716" y="56" width="32" height="8" rx="2"/>
<circle cx="713" cy="60" r="6"/><circle cx="751" cy="60" r="6"/>
</g>
<circle cx="713" cy="60" r="3" fill="none" stroke="#d8d8d4" stroke-width="0.8"/><circle cx="751" cy="60" r="3" fill="none" stroke="#d8d8d4" stroke-width="0.8"/>
<ellipse cx="695.8" cy="45.8" rx="2.6" ry="2.2" fill="#2a56a6"/>
<ellipse cx="703.4" cy="40.8" rx="2.6" ry="2.2" fill="#2a56a6"/>
<ellipse cx="697" cy="77.8" rx="2.6" ry="2.2" fill="#2a56a6"/>
<ellipse cx="704" cy="81" rx="2.6" ry="2.2" fill="#2a56a6"/>
<ellipse cx="759.8" cy="41.4" rx="2.6" ry="2.2" fill="#2a56a6"/>
<ellipse cx="770.4" cy="51" rx="2.6" ry="2.2" fill="#2a56a6"/>
<ellipse cx="770.4" cy="72.7" rx="2.6" ry="2.2" fill="#2a56a6"/>
<ellipse cx="759.8" cy="81.4" rx="2.6" ry="2.2" fill="#2a56a6"/>
<ellipse cx="731.6" cy="59.8" rx="2" ry="3.2" fill="#2a56a6"/>
<rect x="764.40" y="32.00" width="1.00" height="60.00" fill="#d6d8da" stroke="none" stroke-width="1" />
<rect x="759.00" y="13.40" width="13.50" height="19.00" fill="#c62f3a" stroke="none" stroke-width="1" rx="1.5"/>
<path d="M760,19 L772,19 M760,25 L772,25 M763,14 L763,32 M768,14 L768,32" stroke="#a82430" stroke-width="0.6"/>
<rect x="761.40" y="76.70" width="6.30" height="14.50" fill="#202022" stroke="none" stroke-width="1" />
<rect x="758.00" y="91.00" width="13.70" height="18.00" fill="#c62f3a" stroke="none" stroke-width="1" rx="1.5"/>
<path d="M759,97 L771,97 M759,103 L771,103 M762,91 L762,109 M767,91 L767,109" stroke="#a82430" stroke-width="0.6"/>
<rect x="764.20" y="109.00" width="0.90" height="100.00" fill="#cfd1d3" stroke="none" stroke-width="1" />
<rect x="870" y="68" width="105.3" height="78.3" fill="url(#lampB)"/>
<path d="M870,68 L882,68 L882,146 L870,146 Z" fill="#303032"/>
<rect x="862" y="80.6" width="20" height="24.4" fill="#121214"/>
<path d="M828,108 L856,75.4 L863,77 L863,112.8 L830,112.8 Z" fill="#1a1a1c"/>
<path d="M836,106 L857,82" stroke="#d0d0d0" stroke-width="0.7"/>
<path d="M846,101 L850,94 L854,101 Z" fill="#d8c040"/>
<path d="M833,112.5 L860,112.5 L858,116 L835,116 Z" fill="#ececec"/>
<rect x="943.5" y="94.2" width="30.5" height="19.8" fill="#e6e6e8"/>
<rect x="946" y="97" width="25" height="1" fill="#999"/><rect x="946" y="101" width="20" height="1" fill="#999"/><rect x="946" y="105" width="22" height="1" fill="#aaa"/>
<path d="M975,84 C1000,88 1004,136 978,149" fill="none" stroke="#161618" stroke-width="2.8"/>
<rect x="983" y="110" width="15" height="4" fill="#d8b840" transform="rotate(-20 990 112)"/>
<rect x="873" y="142" width="8" height="8" fill="#161618"/><rect x="965" y="142" width="8" height="8" fill="#161618"/>
<rect x="880" y="146" width="98" height="6" fill="#c6c6c2"/>
<rect x="896" y="151" width="72" height="30" fill="#9c9b96"/>
<rect x="896" y="158" width="72" height="1.5" fill="#b8b7b2"/><rect x="896" y="166" width="72" height="1.5" fill="#b8b7b2"/><rect x="896" y="174" width="72" height="1.5" fill="#b8b7b2"/>
<rect x="884" y="151" width="12" height="30" fill="#c8c8c4"/>
<rect x="878" y="180" width="102" height="5" fill="#cacac6"/>
<rect x="968" y="152" width="9" height="17" fill="#1e1e20"/>
<path d="M858,195 L872,176 M861,198 L874,181" stroke="#1a1a1a" stroke-width="2.5"/>
<path d="M862,186 L868,178" stroke="#d8b840" stroke-width="3"/>
<path d="M873,175 L1013,173 L1013,256 L873,258 Z" fill="url(#psB)"/>
<path d="M873,175 L910,180 L910,256 L873,258 Z" fill="#ebebe9"/>
<rect x="891" y="201" width="13" height="1.5" fill="#555" transform="rotate(14 897 201)"/>
<rect x="891" y="206" width="13" height="1.5" fill="#555" transform="rotate(14 897 206)"/>
<rect x="891" y="211" width="13" height="1.5" fill="#555" transform="rotate(14 897 211)"/>
<rect x="891" y="216" width="13" height="1.5" fill="#555" transform="rotate(14 897 216)"/>
<rect x="891" y="221" width="13" height="1.5" fill="#555" transform="rotate(14 897 221)"/>
<rect x="891" y="226" width="13" height="1.5" fill="#555" transform="rotate(14 897 226)"/>
<rect x="909.5" y="191.6" width="87.5" height="61.8" fill="#d8d7d1"/>
<rect x="905" y="190" width="5" height="66" fill="#e2e2e0"/>
<rect x="939.5" y="200" width="30.5" height="26" fill="#eeeeec" stroke="#a8a8a4" stroke-width="0.7"/>
<path d="M942,210 Q954.5,203 967,210" fill="none" stroke="#888" stroke-width="0.5"/>
<path d="M954.5,219 L951,207" stroke="#333" stroke-width="0.7"/>
<rect x="925" y="229" width="13" height="14" fill="#1a1a1a"/>
<rect x="926.8" y="230.8" width="9.4" height="10.4" fill="#2ed46a"/>
<circle cx="955" cy="238" r="4" fill="#6a6a6a" stroke="#a0a0a0" stroke-width="1"/>
<circle cx="977.8" cy="238" r="5" fill="#2a2a2a" stroke="#b0b0b0" stroke-width="1"/>
<circle cx="979" cy="239" r="2" fill="#c8c8c8"/>
<path d="M997,190 L1012,194 L1012,258 L997,256 Z" fill="#d4d4d0"/>
<rect x="1001" y="200" width="7" height="50" fill="#e6e6e4"/>
<rect x="1012" y="184" width="6" height="26" fill="#e2dfd9"/>
<rect x="1012" y="210" width="6" height="11" fill="#dcd8cc"/>
<rect x="1012" y="221" width="6" height="36" fill="#55554f"/>
<path d="M767,256 L768,230 L824,152 L838,160 L905,232 L905,258 Z" fill="#e4e6e8" opacity="0.72"/>
<path d="M784,240 L834.7,170 L896,240 Z" fill="#a8acb0" opacity="0.6"/>
<rect x="834.9" y="213.8" width="1.4" height="3" fill="#3a3d40" opacity="0.75"/><rect x="840.8" y="215.6" width="1.4" height="2" fill="#e8e8e8" opacity="0.75"/><rect x="837.4" y="217.3" width="1.4" height="2" fill="#5a5e62" opacity="0.75"/><rect x="834.2" y="187.1" width="1.4" height="4" fill="#5a5e62" opacity="0.75"/><rect x="850.3" y="203.4" width="1.4" height="3" fill="#e8e8e8" opacity="0.75"/><rect x="856.2" y="217.9" width="1.4" height="4" fill="#5a5e62" opacity="0.75"/><rect x="836.1" y="206.2" width="1.4" height="2" fill="#e8e8e8" opacity="0.75"/><rect x="856.7" y="204.0" width="1.4" height="4" fill="#5a5e62" opacity="0.75"/><rect x="862.4" y="198.2" width="1.4" height="2" fill="#e8e8e8" opacity="0.75"/><rect x="889.5" y="232.2" width="1.4" height="2" fill="#7a7e82" opacity="0.75"/><rect x="808.6" y="236.3" width="1.4" height="3" fill="#3a3d40" opacity="0.75"/><rect x="846.4" y="206.6" width="1.4" height="2" fill="#7a7e82" opacity="0.75"/><rect x="831.3" y="202.6" width="1.4" height="3" fill="#3a3d40" opacity="0.75"/><rect x="879.3" y="240.4" width="1.4" height="4" fill="#f4f4f4" opacity="0.75"/><rect x="806.2" y="241.7" width="1.4" height="4" fill="#e8e8e8" opacity="0.75"/><rect x="796.8" y="241.3" width="1.4" height="2" fill="#3a3d40" opacity="0.75"/><rect x="813.9" y="227.5" width="1.4" height="3" fill="#f4f4f4" opacity="0.75"/><rect x="827.7" y="182.8" width="1.4" height="2" fill="#e8e8e8" opacity="0.75"/><rect x="825.8" y="217.8" width="1.4" height="2" fill="#e8e8e8" opacity="0.75"/><rect x="838.2" y="214.8" width="1.4" height="3" fill="#7a7e82" opacity="0.75"/><rect x="853.7" y="197.9" width="1.4" height="2" fill="#e8e8e8" opacity="0.75"/><rect x="865.9" y="238.2" width="1.4" height="2" fill="#3a3d40" opacity="0.75"/><rect x="831.5" y="184.6" width="1.4" height="2" fill="#e8e8e8" opacity="0.75"/><rect x="875.0" y="216.2" width="1.4" height="3" fill="#e8e8e8" opacity="0.75"/><rect x="804.9" y="224.1" width="1.4" height="2" fill="#7a7e82" opacity="0.75"/><rect x="810.7" y="213.8" width="1.4" height="4" fill="#e8e8e8" opacity="0.75"/><rect x="884.8" y="225.9" width="1.4" height="2" fill="#f4f4f4" opacity="0.75"/><rect x="830.4" y="193.9" width="1.4" height="2" fill="#7a7e82" opacity="0.75"/><rect x="816.5" y="212.0" width="1.4" height="2" fill="#5a5e62" opacity="0.75"/><rect x="825.1" y="235.0" width="1.4" height="3" fill="#e8e8e8" opacity="0.75"/><rect x="849.1" y="187.0" width="1.4" height="2" fill="#5a5e62" opacity="0.75"/><rect x="837.3" y="200.9" width="1.4" height="3" fill="#5a5e62" opacity="0.75"/><rect x="838.1" y="224.8" width="1.4" height="3" fill="#7a7e82" opacity="0.75"/><rect x="845.0" y="225.2" width="1.4" height="4" fill="#7a7e82" opacity="0.75"/><rect x="871.7" y="236.6" width="1.4" height="3" fill="#5a5e62" opacity="0.75"/><rect x="860.0" y="235.7" width="1.4" height="3" fill="#5a5e62" opacity="0.75"/><rect x="853.5" y="202.5" width="1.4" height="4" fill="#5a5e62" opacity="0.75"/><rect x="855.1" y="241.6" width="1.4" height="3" fill="#f4f4f4" opacity="0.75"/><rect x="828.0" y="225.0" width="1.4" height="4" fill="#3a3d40" opacity="0.75"/><rect x="833.6" y="231.7" width="1.4" height="2" fill="#e8e8e8" opacity="0.75"/><rect x="850.9" y="208.8" width="1.4" height="2" fill="#5a5e62" opacity="0.75"/><rect x="839.7" y="217.3" width="1.4" height="3" fill="#f4f4f4" opacity="0.75"/><rect x="801.5" y="217.2" width="1.4" height="4" fill="#7a7e82" opacity="0.75"/><rect x="812.1" y="203.9" width="1.4" height="3" fill="#7a7e82" opacity="0.75"/><rect x="854.5" y="229.4" width="1.4" height="2" fill="#7a7e82" opacity="0.75"/><rect x="827.5" y="215.3" width="1.4" height="3" fill="#7a7e82" opacity="0.75"/><rect x="876.4" y="232.3" width="1.4" height="4" fill="#5a5e62" opacity="0.75"/><rect x="830.7" y="218.0" width="1.4" height="3" fill="#f4f4f4" opacity="0.75"/><rect x="863.4" y="231.9" width="1.4" height="4" fill="#3a3d40" opacity="0.75"/><rect x="820.6" y="231.0" width="1.4" height="3" fill="#e8e8e8" opacity="0.75"/><rect x="847.6" y="197.8" width="1.4" height="4" fill="#5a5e62" opacity="0.75"/><rect x="855.2" y="203.9" width="1.4" height="2" fill="#5a5e62" opacity="0.75"/><rect x="870.2" y="229.0" width="1.4" height="4" fill="#5a5e62" opacity="0.75"/><rect x="834.2" y="218.3" width="1.4" height="4" fill="#f4f4f4" opacity="0.75"/><rect x="807.5" y="208.4" width="1.4" height="2" fill="#5a5e62" opacity="0.75"/><rect x="867.5" y="212.2" width="1.4" height="2" fill="#7a7e82" opacity="0.75"/><rect x="810.5" y="227.8" width="1.4" height="4" fill="#e8e8e8" opacity="0.75"/><rect x="840.0" y="241.8" width="1.4" height="2" fill="#3a3d40" opacity="0.75"/><rect x="877.7" y="222.8" width="1.4" height="2" fill="#5a5e62" opacity="0.75"/><rect x="830.3" y="235.1" width="1.4" height="3" fill="#7a7e82" opacity="0.75"/><rect x="834.7" y="190.6" width="1.4" height="2" fill="#3a3d40" opacity="0.75"/><rect x="845.4" y="219.8" width="1.4" height="4" fill="#f4f4f4" opacity="0.75"/><rect x="836.1" y="219.7" width="1.4" height="2" fill="#5a5e62" opacity="0.75"/><rect x="864.0" y="230.4" width="1.4" height="4" fill="#5a5e62" opacity="0.75"/><rect x="809.0" y="235.6" width="1.4" height="2" fill="#f4f4f4" opacity="0.75"/><rect x="844.0" y="228.6" width="1.4" height="3" fill="#f4f4f4" opacity="0.75"/><rect x="884.3" y="232.8" width="1.4" height="3" fill="#e8e8e8" opacity="0.75"/><rect x="845.4" y="227.2" width="1.4" height="3" fill="#5a5e62" opacity="0.75"/><rect x="809.6" y="233.5" width="1.4" height="3" fill="#5a5e62" opacity="0.75"/><rect x="864.1" y="231.8" width="1.4" height="4" fill="#3a3d40" opacity="0.75"/><rect x="809.9" y="211.7" width="1.4" height="3" fill="#e8e8e8" opacity="0.75"/><rect x="855.0" y="211.5" width="1.4" height="4" fill="#f4f4f4" opacity="0.75"/><rect x="819.7" y="202.4" width="1.4" height="4" fill="#7a7e82" opacity="0.75"/><rect x="844.8" y="195.5" width="1.4" height="3" fill="#7a7e82" opacity="0.75"/><rect x="830.4" y="185.3" width="1.4" height="2" fill="#e8e8e8" opacity="0.75"/><rect x="826.7" y="212.5" width="1.4" height="2" fill="#e8e8e8" opacity="0.75"/><rect x="885.4" y="229.2" width="1.4" height="3" fill="#f4f4f4" opacity="0.75"/><rect x="812.6" y="209.6" width="1.4" height="3" fill="#3a3d40" opacity="0.75"/><rect x="883.3" y="237.9" width="1.4" height="3" fill="#e8e8e8" opacity="0.75"/><rect x="820.3" y="190.3" width="1.4" height="4" fill="#5a5e62" opacity="0.75"/><rect x="860.2" y="198.6" width="1.4" height="3" fill="#7a7e82" opacity="0.75"/><rect x="841.1" y="194.0" width="1.4" height="2" fill="#e8e8e8" opacity="0.75"/><rect x="854.4" y="230.8" width="1.4" height="4" fill="#7a7e82" opacity="0.75"/><rect x="844.1" y="233.3" width="1.4" height="4" fill="#7a7e82" opacity="0.75"/><rect x="843.2" y="232.5" width="1.4" height="4" fill="#e8e8e8" opacity="0.75"/><rect x="866.0" y="229.9" width="1.4" height="2" fill="#f4f4f4" opacity="0.75"/><rect x="851.1" y="235.0" width="1.4" height="2" fill="#7a7e82" opacity="0.75"/><rect x="796.5" y="234.9" width="1.4" height="2" fill="#5a5e62" opacity="0.75"/><rect x="829.5" y="221.9" width="1.4" height="2" fill="#5a5e62" opacity="0.75"/><rect x="807.7" y="221.7" width="1.4" height="3" fill="#5a5e62" opacity="0.75"/><rect x="862.1" y="218.6" width="1.4" height="3" fill="#e8e8e8" opacity="0.75"/><rect x="852.2" y="235.9" width="1.4" height="3" fill="#7a7e82" opacity="0.75"/><rect x="816.6" y="221.1" width="1.4" height="4" fill="#5a5e62" opacity="0.75"/><rect x="800.5" y="221.6" width="1.4" height="2" fill="#5a5e62" opacity="0.75"/><rect x="821.3" y="207.9" width="1.4" height="4" fill="#f4f4f4" opacity="0.75"/><rect x="832.4" y="216.5" width="1.4" height="2" fill="#5a5e62" opacity="0.75"/><rect x="835.0" y="225.3" width="1.4" height="3" fill="#7a7e82" opacity="0.75"/><rect x="851.3" y="184.1" width="1.4" height="2" fill="#f4f4f4" opacity="0.75"/><rect x="882.5" y="229.3" width="1.4" height="4" fill="#3a3d40" opacity="0.75"/><rect x="847.5" y="190.2" width="1.4" height="4" fill="#f4f4f4" opacity="0.75"/><rect x="884.4" y="225.6" width="1.4" height="2" fill="#3a3d40" opacity="0.75"/><rect x="844.2" y="201.7" width="1.4" height="3" fill="#7a7e82" opacity="0.75"/><rect x="829.8" y="224.2" width="1.4" height="2" fill="#f4f4f4" opacity="0.75"/><rect x="881.9" y="241.4" width="1.4" height="4" fill="#5a5e62" opacity="0.75"/><rect x="811.1" y="238.5" width="1.4" height="4" fill="#f4f4f4" opacity="0.75"/><rect x="822.5" y="220.2" width="1.4" height="4" fill="#7a7e82" opacity="0.75"/><rect x="843.6" y="202.9" width="1.4" height="3" fill="#7a7e82" opacity="0.75"/><rect x="861.7" y="226.8" width="1.4" height="4" fill="#5a5e62" opacity="0.75"/><rect x="811.6" y="206.4" width="1.4" height="4" fill="#5a5e62" opacity="0.75"/><rect x="868.2" y="219.5" width="1.4" height="2" fill="#5a5e62" opacity="0.75"/><rect x="813.9" y="195.6" width="1.4" height="3" fill="#e8e8e8" opacity="0.75"/><rect x="844.4" y="204.6" width="1.4" height="4" fill="#e8e8e8" opacity="0.75"/><rect x="834.0" y="219.3" width="1.4" height="4" fill="#e8e8e8" opacity="0.75"/><rect x="858.2" y="239.1" width="1.4" height="3" fill="#7a7e82" opacity="0.75"/><rect x="827.7" y="240.1" width="1.4" height="3" fill="#e8e8e8" opacity="0.75"/><rect x="842.9" y="216.3" width="1.4" height="3" fill="#e8e8e8" opacity="0.75"/><rect x="816.9" y="219.9" width="1.4" height="4" fill="#f4f4f4" opacity="0.75"/><rect x="857.7" y="225.9" width="1.4" height="2" fill="#5a5e62" opacity="0.75"/><rect x="869.4" y="215.5" width="1.4" height="4" fill="#7a7e82" opacity="0.75"/><rect x="830.2" y="221.8" width="1.4" height="2" fill="#f4f4f4" opacity="0.75"/><rect x="892.8" y="238.4" width="1.4" height="2" fill="#7a7e82" opacity="0.75"/><rect x="832.4" y="208.6" width="1.4" height="2" fill="#5a5e62" opacity="0.75"/><rect x="842.5" y="238.0" width="1.4" height="4" fill="#3a3d40" opacity="0.75"/><rect x="801.6" y="239.4" width="1.4" height="2" fill="#e8e8e8" opacity="0.75"/><rect x="831.1" y="185.5" width="1.4" height="2" fill="#f4f4f4" opacity="0.75"/><rect x="843.0" y="186.0" width="1.4" height="3" fill="#7a7e82" opacity="0.75"/><rect x="858.1" y="207.2" width="1.4" height="3" fill="#e8e8e8" opacity="0.75"/><rect x="859.7" y="201.3" width="1.4" height="4" fill="#e8e8e8" opacity="0.75"/><rect x="838.0" y="210.2" width="1.4" height="3" fill="#e8e8e8" opacity="0.75"/><rect x="853.5" y="201.0" width="1.4" height="3" fill="#e8e8e8" opacity="0.75"/><rect x="860.0" y="214.2" width="1.4" height="4" fill="#7a7e82" opacity="0.75"/><rect x="854.4" y="226.2" width="1.4" height="2" fill="#7a7e82" opacity="0.75"/><rect x="840.2" y="219.8" width="1.4" height="2" fill="#5a5e62" opacity="0.75"/><rect x="816.1" y="226.4" width="1.4" height="4" fill="#7a7e82" opacity="0.75"/><rect x="845.5" y="218.4" width="1.4" height="3" fill="#3a3d40" opacity="0.75"/><rect x="837.7" y="191.5" width="1.4" height="3" fill="#3a3d40" opacity="0.75"/><rect x="866.4" y="231.7" width="1.4" height="2" fill="#5a5e62" opacity="0.75"/><rect x="834.3" y="230.6" width="1.4" height="2" fill="#3a3d40" opacity="0.75"/><rect x="831.8" y="194.5" width="1.4" height="2" fill="#f4f4f4" opacity="0.75"/><rect x="802.6" y="231.5" width="1.4" height="4" fill="#f4f4f4" opacity="0.75"/><rect x="817.4" y="226.6" width="1.4" height="2" fill="#3a3d40" opacity="0.75"/><rect x="856.6" y="215.2" width="1.4" height="3" fill="#f4f4f4" opacity="0.75"/><rect x="846.9" y="209.0" width="1.4" height="4" fill="#3a3d40" opacity="0.75"/><rect x="818.3" y="227.6" width="1.4" height="2" fill="#f4f4f4" opacity="0.75"/><rect x="809.0" y="220.4" width="1.4" height="2" fill="#f4f4f4" opacity="0.75"/><rect x="839.4" y="226.9" width="1.4" height="3" fill="#f4f4f4" opacity="0.75"/><rect x="857.0" y="198.9" width="1.4" height="2" fill="#f4f4f4" opacity="0.75"/><rect x="862.6" y="214.4" width="1.4" height="4" fill="#f4f4f4" opacity="0.75"/><rect x="833.3" y="229.4" width="1.4" height="3" fill="#3a3d40" opacity="0.75"/><rect x="820.3" y="203.6" width="1.4" height="4" fill="#e8e8e8" opacity="0.75"/><rect x="812.8" y="201.1" width="1.4" height="3" fill="#5a5e62" opacity="0.75"/><rect x="825.2" y="203.3" width="1.4" height="3" fill="#7a7e82" opacity="0.75"/><rect x="828.1" y="187.9" width="1.4" height="4" fill="#e8e8e8" opacity="0.75"/><rect x="835.1" y="232.7" width="1.4" height="2" fill="#7a7e82" opacity="0.75"/><rect x="841.7" y="212.8" width="1.4" height="4" fill="#f4f4f4" opacity="0.75"/><rect x="845.1" y="228.4" width="1.4" height="2" fill="#f4f4f4" opacity="0.75"/><rect x="794.8" y="225.2" width="1.4" height="3" fill="#5a5e62" opacity="0.75"/><rect x="796.5" y="230.2" width="1.4" height="3" fill="#7a7e82" opacity="0.75"/><rect x="862.9" y="209.3" width="1.4" height="4" fill="#f4f4f4" opacity="0.75"/><rect x="822.5" y="240.0" width="1.4" height="4" fill="#7a7e82" opacity="0.75"/><rect x="839.3" y="212.4" width="1.4" height="4" fill="#5a5e62" opacity="0.75"/><rect x="862.5" y="236.6" width="1.4" height="3" fill="#f4f4f4" opacity="0.75"/><rect x="878.2" y="229.6" width="1.4" height="2" fill="#3a3d40" opacity="0.75"/><rect x="842.6" y="223.4" width="1.4" height="2" fill="#3a3d40" opacity="0.75"/><rect x="885.7" y="236.6" width="1.4" height="2" fill="#7a7e82" opacity="0.75"/><rect x="831.9" y="196.7" width="1.4" height="2" fill="#3a3d40" opacity="0.75"/><rect x="856.0" y="227.7" width="1.4" height="2" fill="#5a5e62" opacity="0.75"/><rect x="838.0" y="229.2" width="1.4" height="3" fill="#5a5e62" opacity="0.75"/><rect x="849.5" y="216.4" width="1.4" height="3" fill="#e8e8e8" opacity="0.75"/><rect x="840.9" y="206.3" width="1.4" height="3" fill="#3a3d40" opacity="0.75"/><rect x="804.6" y="226.5" width="1.4" height="3" fill="#e8e8e8" opacity="0.75"/><rect x="829.5" y="239.2" width="1.4" height="4" fill="#e8e8e8" opacity="0.75"/><rect x="872.2" y="240.5" width="1.4" height="4" fill="#f4f4f4" opacity="0.75"/><rect x="885.8" y="235.1" width="1.4" height="3" fill="#f4f4f4" opacity="0.75"/><rect x="834.6" y="193.8" width="1.4" height="3" fill="#e8e8e8" opacity="0.75"/><rect x="884.1" y="229.8" width="1.4" height="2" fill="#e8e8e8" opacity="0.75"/><rect x="814.8" y="212.2" width="1.4" height="2" fill="#e8e8e8" opacity="0.75"/><rect x="874.7" y="232.2" width="1.4" height="2" fill="#5a5e62" opacity="0.75"/><rect x="824.0" y="217.4" width="1.4" height="4" fill="#5a5e62" opacity="0.75"/><rect x="882.1" y="222.4" width="1.4" height="2" fill="#e8e8e8" opacity="0.75"/><rect x="844.7" y="210.4" width="1.4" height="2" fill="#7a7e82" opacity="0.75"/><rect x="831.0" y="236.7" width="1.4" height="2" fill="#3a3d40" opacity="0.75"/><rect x="808.5" y="212.8" width="1.4" height="4" fill="#3a3d40" opacity="0.75"/><rect x="803.0" y="231.2" width="1.4" height="3" fill="#f4f4f4" opacity="0.75"/><rect x="819.0" y="207.9" width="1.4" height="4" fill="#5a5e62" opacity="0.75"/><rect x="824.8" y="222.0" width="1.4" height="2" fill="#3a3d40" opacity="0.75"/><rect x="859.0" y="225.8" width="1.4" height="2" fill="#3a3d40" opacity="0.75"/><rect x="846.9" y="207.3" width="1.4" height="2" fill="#7a7e82" opacity="0.75"/><rect x="853.8" y="238.0" width="1.4" height="4" fill="#f4f4f4" opacity="0.75"/><rect x="846.0" y="183.6" width="1.4" height="2" fill="#7a7e82" opacity="0.75"/><rect x="826.7" y="185.0" width="1.4" height="3" fill="#f4f4f4" opacity="0.75"/><rect x="846.8" y="224.3" width="1.4" height="3" fill="#3a3d40" opacity="0.75"/>
<path d="M800,228 Q834,214 872,228 L872,238 L800,238 Z" fill="#eef0f2" opacity="0.6"/>
<rect x="783.00" y="240.50" width="99.00" height="13.00" fill="#1f2530" stroke="none" stroke-width="1" />
<path d="M768,230 L824,152 L838,160 L782,238 Z" fill="#f2f4f5" opacity="0.55"/>
<path d="M782,256 L834.7,163.2 L903,258" fill="none" stroke="#f4f6f7" stroke-width="1.6" opacity="0.9"/>
<path d="M767,256 L768,230 L824,152" fill="none" stroke="#f0f2f3" stroke-width="1.3" opacity="0.9"/>
<path d="M767,256.5 L905,258.5" stroke="#c6c8ca" stroke-width="3"/>
<text x="635.00" y="110.50" font-size="12.2" font-weight="bold" text-anchor="middle" fill="#fff" stroke="#111" stroke-width="2.6" stroke-linejoin="round" paint-order="stroke" textLength="178" lengthAdjust="spacingAndGlyphs">Integrated purification device</text>
<text x="636.80" y="127.80" font-size="12.2" font-weight="bold" text-anchor="middle" fill="#fff" stroke="#111" stroke-width="2.6" stroke-linejoin="round" paint-order="stroke" textLength="101" lengthAdjust="spacingAndGlyphs">for oily seawater</text>
<text x="577.00" y="286.30" font-size="12.8" font-weight="bold" text-anchor="middle" fill="#c99d66" stroke="#fff" stroke-width="2.4" stroke-linejoin="round" paint-order="stroke" >Oily seawater</text>
<text x="826.70" y="277.00" font-size="12.4" font-weight="bold" text-anchor="middle" fill="#2cb8bf" stroke="#fff" stroke-width="2.4" stroke-linejoin="round" paint-order="stroke" >Clean water</text>
</g>
<defs><linearGradient id="vapH" x1="0" y1="0" x2="0" y2="1"><stop offset="0" stop-color="#eef3f7"/><stop offset="0.45" stop-color="#d6e4ee"/><stop offset="1" stop-color="#b2d0e4"/></linearGradient><filter id="blurH" x="-30%" y="-30%" width="160%" height="160%"><feGaussianBlur stdDeviation="7"/></filter><filter id="blurH2" x="-30%" y="-30%" width="160%" height="160%"><feGaussianBlur stdDeviation="3 6"/></filter><filter id="blurM" x="-30%" y="-30%" width="160%" height="160%"><feGaussianBlur stdDeviation="0.6"/></filter><linearGradient id="waterH" x1="0" y1="0" x2="0" y2="1"><stop offset="0" stop-color="#b6dfee"/><stop offset="0.3" stop-color="#aad8ec"/><stop offset="1" stop-color="#a2d3ea"/></linearGradient><linearGradient id="memLow" x1="0" y1="0" x2="1" y2="0"><stop offset="0" stop-color="#4e5664"/><stop offset="1" stop-color="#7a7e84"/></linearGradient></defs>
<g filter="url(#blurH)">
<path d="M786,730 C784,700 790,660 802,640 C815,618 840,610 860,610 C885,610 905,620 918,642 C930,662 934,700 932,730 Z" fill="url(#vapH)"/>
</g>
<ellipse cx="858" cy="660" rx="34" ry="34" fill="#f2f6f9" opacity="0.75" filter="url(#blurH)"/>
<g filter="url(#blurH2)" opacity="0.4">
<rect x="800" y="650" width="10" height="75" fill="#b4d0e2"/>
<rect x="818" y="650" width="8" height="75" fill="#c8dcea"/>
<rect x="842" y="650" width="12" height="75" fill="#b8d2e4"/>
<rect x="870" y="650" width="10" height="75" fill="#c0d8e8"/>
<rect x="896" y="650" width="12" height="75" fill="#b0cde2"/>
<rect x="915" y="650" width="9" height="75" fill="#bcd4e6"/>
</g>
<defs><radialGradient id="sunHg" cx="0.5" cy="0.5" r="0.5"><stop offset="0" stop-color="#fff38a" stop-opacity="1"/><stop offset="0.55" stop-color="#fbf196" stop-opacity="0.95"/><stop offset="0.8" stop-color="#fbf3b4" stop-opacity="0.55"/><stop offset="1" stop-color="#fbf6d0" stop-opacity="0"/></radialGradient><radialGradient id="sunHd" cx="0.5" cy="0.5" r="0.5"><stop offset="0" stop-color="#f8e03e"/><stop offset="0.82" stop-color="#f6da3a"/><stop offset="1" stop-color="#fff4a0"/></radialGradient><filter id="sunHf" x="-50%" y="-50%" width="200%" height="200%"><feGaussianBlur stdDeviation="0.7"/></filter><filter id="sunHp" x="-50%" y="-50%" width="200%" height="200%"><feGaussianBlur stdDeviation="2.2"/></filter></defs>
<circle cx="983.7" cy="615.5" r="34" fill="url(#sunHg)"/>
<circle cx="983.7" cy="615.5" r="20" fill="#f7a890" opacity="0.7" filter="url(#sunHp)"/>
<g filter="url(#sunHf)"><polygon points="1002.70,615.50 1000.39,617.38 1002.22,619.73 999.56,621.05 1000.82,623.74 997.92,624.44 998.55,627.35 995.58,627.38 995.55,630.35 992.64,629.72 991.94,632.62 989.25,631.36 987.93,634.02 985.58,632.19 983.70,634.50 981.82,632.19 979.47,634.02 978.15,631.36 975.46,632.62 974.76,629.72 971.85,630.35 971.82,627.38 968.85,627.35 969.48,624.44 966.58,623.74 967.84,621.05 965.18,619.73 967.01,617.38 964.70,615.50 967.01,613.62 965.18,611.27 967.84,609.95 966.58,607.26 969.48,606.56 968.85,603.65 971.82,603.62 971.85,600.65 974.76,601.28 975.46,598.38 978.15,599.64 979.47,596.98 981.82,598.81 983.70,596.50 985.58,598.81 987.93,596.98 989.25,599.64 991.94,598.38 992.64,601.28 995.55,600.65 995.58,603.62 998.55,603.65 997.92,606.56 1000.82,607.26 999.56,609.95 1002.22,611.27 1000.39,613.62" fill="#f49628"/><circle cx="983.7" cy="615.5" r="16.40" fill="#f4a232"/></g>
<circle cx="983.7" cy="615.5" r="14" fill="url(#sunHd)"/>
<path d="M969.61,609.38 L982.39,609.38 C982.65,614.19 981.42,617.34 978.62,617.34 L973.38,617.34 C970.58,617.34 969.35,614.19 969.61,609.38 Z" fill="#6f74dc" stroke="#231c26" stroke-width="1.49" stroke-linejoin="round"/>
<line x1="973.38" y1="615.94" x2="976.00" y2="610.25" stroke="#9ea4ee" stroke-width="1.14"/>
<line x1="976.88" y1="615.94" x2="979.50" y2="610.25" stroke="#9ea4ee" stroke-width="0.88"/>
<path d="M985.01,609.38 L997.79,609.38 C998.05,614.19 996.83,617.34 994.03,617.34 L988.78,617.34 C985.98,617.34 984.75,614.19 985.01,609.38 Z" fill="#6f74dc" stroke="#231c26" stroke-width="1.49" stroke-linejoin="round"/>
<line x1="988.78" y1="615.94" x2="991.40" y2="610.25" stroke="#9ea4ee" stroke-width="1.14"/>
<line x1="992.28" y1="615.94" x2="994.90" y2="610.25" stroke="#9ea4ee" stroke-width="0.88"/>
<line x1="982.30" y1="611.12" x2="985.10" y2="611.12" stroke="#231c26" stroke-width="1.57"/>
<rect x="710.00" y="732.00" width="308.00" height="71.50" fill="url(#waterH)" stroke="none" stroke-width="1" />
<rect x="710.00" y="732.00" width="308.00" height="1.20" fill="#e6f4f8" stroke="none" stroke-width="1" opacity="0.9"/>
<rect x="710.00" y="738.00" width="308.00" height="1.80" fill="#d4ecf5" stroke="none" stroke-width="1" opacity="0.9"/>
<rect x="710.00" y="749.00" width="308.00" height="2.20" fill="#dff1f7" stroke="none" stroke-width="1" opacity="0.8"/>
<rect x="772.7" y="726.5" width="178" height="14" fill="#4d5f77"/>
<path d="M772.7,739.5 L950.7,742 L950.7,746.5 L772.7,744.5 Z" fill="#a2aab2"/>
<path d="M772.7,744.5 L950.7,746.5 L950.7,757.2 L772.7,757.2 Z" fill="url(#memLow)"/>
<rect x="830.3" y="731.5" width="1.6" height="1.2" fill="#6f84a0"/><rect x="837.7" y="728.7" width="1.6" height="1.2" fill="#33435a"/><rect x="779.6" y="739.8" width="1.6" height="1.2" fill="#6f84a0"/><rect x="940.7" y="745.6" width="1.6" height="1.2" fill="#6f84a0"/><rect x="875.1" y="738.7" width="1.6" height="1.2" fill="#33435a"/><rect x="781.2" y="752.3" width="1.6" height="1.2" fill="#8a9ab0"/><rect x="893.7" y="730.0" width="1.6" height="1.2" fill="#33435a"/><rect x="784.1" y="728.8" width="1.6" height="1.2" fill="#33435a"/><rect x="936.4" y="737.7" width="1.6" height="1.2" fill="#33435a"/><rect x="913.6" y="747.6" width="1.6" height="1.2" fill="#33435a"/><rect x="787.5" y="735.9" width="1.6" height="1.2" fill="#2a3442"/><rect x="927.9" y="748.5" width="1.6" height="1.2" fill="#8a9ab0"/><rect x="880.8" y="729.2" width="1.6" height="1.2" fill="#2a3442"/><rect x="802.2" y="737.1" width="1.6" height="1.2" fill="#2a3442"/><rect x="847.6" y="755.4" width="1.6" height="1.2" fill="#6f84a0"/><rect x="928.0" y="736.3" width="1.6" height="1.2" fill="#8a9ab0"/><rect x="853.7" y="751.8" width="1.6" height="1.2" fill="#8a9ab0"/><rect x="856.9" y="746.6" width="1.6" height="1.2" fill="#6f84a0"/><rect x="902.4" y="736.1" width="1.6" height="1.2" fill="#2a3442"/><rect x="823.4" y="738.4" width="1.6" height="1.2" fill="#8a9ab0"/><rect x="802.7" y="730.5" width="1.6" height="1.2" fill="#6f84a0"/><rect x="811.6" y="735.5" width="1.6" height="1.2" fill="#33435a"/><rect x="843.4" y="754.0" width="1.6" height="1.2" fill="#2a3442"/><rect x="870.3" y="753.1" width="1.6" height="1.2" fill="#2a3442"/><rect x="925.9" y="735.2" width="1.6" height="1.2" fill="#2a3442"/><rect x="947.6" y="747.1" width="1.6" height="1.2" fill="#2a3442"/><rect x="942.5" y="731.5" width="1.6" height="1.2" fill="#33435a"/><rect x="799.8" y="746.4" width="1.6" height="1.2" fill="#6f84a0"/><rect x="819.5" y="727.1" width="1.6" height="1.2" fill="#2a3442"/><rect x="829.4" y="730.7" width="1.6" height="1.2" fill="#6f84a0"/><rect x="853.8" y="752.7" width="1.6" height="1.2" fill="#2a3442"/><rect x="843.5" y="738.6" width="1.6" height="1.2" fill="#2a3442"/><rect x="885.3" y="728.8" width="1.6" height="1.2" fill="#6f84a0"/><rect x="947.3" y="740.0" width="1.6" height="1.2" fill="#6f84a0"/><rect x="833.2" y="728.6" width="1.6" height="1.2" fill="#6f84a0"/><rect x="785.4" y="733.1" width="1.6" height="1.2" fill="#2a3442"/><rect x="799.3" y="734.4" width="1.6" height="1.2" fill="#8a9ab0"/><rect x="828.2" y="731.3" width="1.6" height="1.2" fill="#8a9ab0"/><rect x="809.3" y="755.1" width="1.6" height="1.2" fill="#8a9ab0"/><rect x="946.2" y="752.5" width="1.6" height="1.2" fill="#8a9ab0"/><rect x="864.8" y="753.8" width="1.6" height="1.2" fill="#8a9ab0"/><rect x="910.9" y="736.7" width="1.6" height="1.2" fill="#33435a"/><rect x="881.5" y="750.3" width="1.6" height="1.2" fill="#33435a"/><rect x="915.7" y="751.1" width="1.6" height="1.2" fill="#33435a"/><rect x="902.4" y="756.2" width="1.6" height="1.2" fill="#8a9ab0"/><rect x="856.6" y="732.7" width="1.6" height="1.2" fill="#8a9ab0"/><rect x="852.2" y="754.6" width="1.6" height="1.2" fill="#8a9ab0"/><rect x="942.0" y="737.8" width="1.6" height="1.2" fill="#33435a"/><rect x="773.3" y="753.8" width="1.6" height="1.2" fill="#8a9ab0"/><rect x="914.5" y="729.5" width="1.6" height="1.2" fill="#6f84a0"/><rect x="934.0" y="750.1" width="1.6" height="1.2" fill="#33435a"/><rect x="857.6" y="732.3" width="1.6" height="1.2" fill="#8a9ab0"/><rect x="788.4" y="754.9" width="1.6" height="1.2" fill="#2a3442"/><rect x="855.0" y="748.9" width="1.6" height="1.2" fill="#6f84a0"/><rect x="901.3" y="732.0" width="1.6" height="1.2" fill="#33435a"/><rect x="855.4" y="746.3" width="1.6" height="1.2" fill="#2a3442"/><rect x="889.3" y="737.3" width="1.6" height="1.2" fill="#33435a"/><rect x="776.8" y="750.6" width="1.6" height="1.2" fill="#6f84a0"/><rect x="866.2" y="754.5" width="1.6" height="1.2" fill="#2a3442"/><rect x="947.6" y="732.7" width="1.6" height="1.2" fill="#33435a"/><rect x="778.0" y="733.3" width="1.6" height="1.2" fill="#33435a"/><rect x="908.2" y="736.6" width="1.6" height="1.2" fill="#2a3442"/><rect x="920.7" y="728.8" width="1.6" height="1.2" fill="#8a9ab0"/><rect x="931.9" y="746.5" width="1.6" height="1.2" fill="#2a3442"/><rect x="919.4" y="752.9" width="1.6" height="1.2" fill="#33435a"/><rect x="776.3" y="740.0" width="1.6" height="1.2" fill="#33435a"/><rect x="880.7" y="749.9" width="1.6" height="1.2" fill="#33435a"/><rect x="871.3" y="750.1" width="1.6" height="1.2" fill="#6f84a0"/><rect x="929.3" y="728.7" width="1.6" height="1.2" fill="#33435a"/><rect x="822.0" y="749.8" width="1.6" height="1.2" fill="#2a3442"/><rect x="872.4" y="749.4" width="1.6" height="1.2" fill="#6f84a0"/><rect x="939.6" y="747.6" width="1.6" height="1.2" fill="#8a9ab0"/><rect x="936.3" y="753.3" width="1.6" height="1.2" fill="#33435a"/><rect x="921.7" y="731.0" width="1.6" height="1.2" fill="#6f84a0"/><rect x="842.4" y="736.3" width="1.6" height="1.2" fill="#33435a"/><rect x="848.8" y="733.3" width="1.6" height="1.2" fill="#8a9ab0"/><rect x="911.8" y="753.5" width="1.6" height="1.2" fill="#33435a"/><rect x="939.3" y="746.0" width="1.6" height="1.2" fill="#8a9ab0"/><rect x="798.3" y="753.0" width="1.6" height="1.2" fill="#2a3442"/><rect x="811.9" y="755.1" width="1.6" height="1.2" fill="#2a3442"/><rect x="929.6" y="731.8" width="1.6" height="1.2" fill="#33435a"/><rect x="801.6" y="739.7" width="1.6" height="1.2" fill="#2a3442"/><rect x="833.0" y="732.8" width="1.6" height="1.2" fill="#8a9ab0"/><rect x="789.3" y="737.8" width="1.6" height="1.2" fill="#8a9ab0"/><rect x="871.1" y="740.0" width="1.6" height="1.2" fill="#6f84a0"/><rect x="825.3" y="755.3" width="1.6" height="1.2" fill="#6f84a0"/><rect x="947.4" y="750.3" width="1.6" height="1.2" fill="#6f84a0"/><rect x="787.9" y="735.0" width="1.6" height="1.2" fill="#33435a"/><rect x="820.9" y="730.8" width="1.6" height="1.2" fill="#2a3442"/><rect x="923.4" y="746.9" width="1.6" height="1.2" fill="#8a9ab0"/><rect x="830.9" y="735.2" width="1.6" height="1.2" fill="#33435a"/><rect x="848.3" y="729.1" width="1.6" height="1.2" fill="#6f84a0"/><rect x="885.3" y="750.6" width="1.6" height="1.2" fill="#6f84a0"/><rect x="880.6" y="733.6" width="1.6" height="1.2" fill="#8a9ab0"/><rect x="937.0" y="734.9" width="1.6" height="1.2" fill="#33435a"/><rect x="780.6" y="747.9" width="1.6" height="1.2" fill="#6f84a0"/><rect x="944.6" y="734.7" width="1.6" height="1.2" fill="#33435a"/><rect x="808.7" y="736.2" width="1.6" height="1.2" fill="#8a9ab0"/><rect x="867.0" y="733.1" width="1.6" height="1.2" fill="#2a3442"/><rect x="861.5" y="732.2" width="1.6" height="1.2" fill="#8a9ab0"/><rect x="915.3" y="756.3" width="1.6" height="1.2" fill="#6f84a0"/><rect x="775.7" y="748.6" width="1.6" height="1.2" fill="#33435a"/><rect x="864.0" y="734.2" width="1.6" height="1.2" fill="#2a3442"/><rect x="791.8" y="751.2" width="1.6" height="1.2" fill="#2a3442"/><rect x="930.3" y="755.6" width="1.6" height="1.2" fill="#8a9ab0"/><rect x="894.7" y="756.0" width="1.6" height="1.2" fill="#8a9ab0"/><rect x="808.2" y="753.0" width="1.6" height="1.2" fill="#33435a"/><rect x="844.6" y="737.3" width="1.6" height="1.2" fill="#6f84a0"/><rect x="921.1" y="727.4" width="1.6" height="1.2" fill="#8a9ab0"/><rect x="849.2" y="728.6" width="1.6" height="1.2" fill="#2a3442"/><rect x="927.1" y="746.8" width="1.6" height="1.2" fill="#8a9ab0"/><rect x="879.0" y="747.4" width="1.6" height="1.2" fill="#6f84a0"/><rect x="854.3" y="731.6" width="1.6" height="1.2" fill="#2a3442"/><rect x="773.6" y="737.7" width="1.6" height="1.2" fill="#8a9ab0"/><rect x="816.3" y="755.5" width="1.6" height="1.2" fill="#8a9ab0"/><rect x="811.6" y="732.4" width="1.6" height="1.2" fill="#8a9ab0"/><rect x="862.0" y="732.9" width="1.6" height="1.2" fill="#6f84a0"/><rect x="789.1" y="751.1" width="1.6" height="1.2" fill="#33435a"/><rect x="843.7" y="728.2" width="1.6" height="1.2" fill="#6f84a0"/><rect x="826.0" y="745.6" width="1.6" height="1.2" fill="#6f84a0"/><rect x="905.8" y="746.4" width="1.6" height="1.2" fill="#2a3442"/><rect x="908.3" y="748.3" width="1.6" height="1.2" fill="#2a3442"/><rect x="799.5" y="748.4" width="1.6" height="1.2" fill="#33435a"/><rect x="780.8" y="751.6" width="1.6" height="1.2" fill="#2a3442"/><rect x="902.9" y="751.0" width="1.6" height="1.2" fill="#33435a"/><rect x="934.1" y="749.2" width="1.6" height="1.2" fill="#6f84a0"/><rect x="931.0" y="747.1" width="1.6" height="1.2" fill="#33435a"/><rect x="788.1" y="728.2" width="1.6" height="1.2" fill="#8a9ab0"/><rect x="942.8" y="738.1" width="1.6" height="1.2" fill="#2a3442"/><rect x="871.9" y="745.5" width="1.6" height="1.2" fill="#33435a"/><rect x="859.6" y="727.1" width="1.6" height="1.2" fill="#6f84a0"/><rect x="867.7" y="746.4" width="1.6" height="1.2" fill="#6f84a0"/><rect x="916.2" y="752.0" width="1.6" height="1.2" fill="#33435a"/><rect x="902.1" y="733.1" width="1.6" height="1.2" fill="#2a3442"/><rect x="860.4" y="738.3" width="1.6" height="1.2" fill="#2a3442"/><rect x="934.2" y="735.5" width="1.6" height="1.2" fill="#6f84a0"/><rect x="882.2" y="746.0" width="1.6" height="1.2" fill="#6f84a0"/><rect x="879.1" y="736.8" width="1.6" height="1.2" fill="#8a9ab0"/><rect x="882.9" y="730.9" width="1.6" height="1.2" fill="#2a3442"/><rect x="783.7" y="734.9" width="1.6" height="1.2" fill="#6f84a0"/><rect x="895.5" y="746.9" width="1.6" height="1.2" fill="#8a9ab0"/><rect x="898.5" y="735.4" width="1.6" height="1.2" fill="#2a3442"/><rect x="855.5" y="730.5" width="1.6" height="1.2" fill="#33435a"/><rect x="828.2" y="729.5" width="1.6" height="1.2" fill="#2a3442"/><rect x="918.1" y="755.6" width="1.6" height="1.2" fill="#2a3442"/><rect x="948.9" y="738.4" width="1.6" height="1.2" fill="#33435a"/><rect x="786.2" y="729.7" width="1.6" height="1.2" fill="#8a9ab0"/><rect x="941.6" y="730.9" width="1.6" height="1.2" fill="#8a9ab0"/><rect x="930.0" y="747.7" width="1.6" height="1.2" fill="#33435a"/><rect x="861.1" y="752.8" width="1.6" height="1.2" fill="#2a3442"/><rect x="777.4" y="727.1" width="1.6" height="1.2" fill="#2a3442"/><rect x="893.6" y="739.0" width="1.6" height="1.2" fill="#33435a"/><rect x="846.7" y="738.1" width="1.6" height="1.2" fill="#6f84a0"/><rect x="921.7" y="727.1" width="1.6" height="1.2" fill="#8a9ab0"/><rect x="921.5" y="730.5" width="1.6" height="1.2" fill="#33435a"/><rect x="899.2" y="753.6" width="1.6" height="1.2" fill="#8a9ab0"/><rect x="817.8" y="728.9" width="1.6" height="1.2" fill="#2a3442"/><rect x="836.8" y="739.6" width="1.6" height="1.2" fill="#8a9ab0"/><rect x="924.2" y="735.3" width="1.6" height="1.2" fill="#6f84a0"/><rect x="920.7" y="735.4" width="1.6" height="1.2" fill="#33435a"/><rect x="817.1" y="734.8" width="1.6" height="1.2" fill="#8a9ab0"/><rect x="806.6" y="738.0" width="1.6" height="1.2" fill="#2a3442"/><rect x="929.5" y="751.0" width="1.6" height="1.2" fill="#2a3442"/><rect x="934.7" y="754.8" width="1.6" height="1.2" fill="#33435a"/><rect x="900.4" y="728.5" width="1.6" height="1.2" fill="#2a3442"/><rect x="852.8" y="749.2" width="1.6" height="1.2" fill="#8a9ab0"/><rect x="858.9" y="753.9" width="1.6" height="1.2" fill="#33435a"/><rect x="803.2" y="739.2" width="1.6" height="1.2" fill="#8a9ab0"/><rect x="825.7" y="748.8" width="1.6" height="1.2" fill="#8a9ab0"/><rect x="844.9" y="734.0" width="1.6" height="1.2" fill="#2a3442"/><rect x="871.6" y="738.6" width="1.6" height="1.2" fill="#33435a"/><rect x="886.8" y="729.2" width="1.6" height="1.2" fill="#2a3442"/><rect x="831.9" y="749.4" width="1.6" height="1.2" fill="#2a3442"/><rect x="797.7" y="732.7" width="1.6" height="1.2" fill="#6f84a0"/><rect x="829.5" y="737.9" width="1.6" height="1.2" fill="#33435a"/><rect x="930.0" y="749.1" width="1.6" height="1.2" fill="#2a3442"/><rect x="840.8" y="749.0" width="1.6" height="1.2" fill="#33435a"/><rect x="839.7" y="737.0" width="1.6" height="1.2" fill="#6f84a0"/><rect x="836.7" y="747.3" width="1.6" height="1.2" fill="#33435a"/><rect x="789.4" y="753.5" width="1.6" height="1.2" fill="#2a3442"/><rect x="941.8" y="752.0" width="1.6" height="1.2" fill="#6f84a0"/><rect x="795.5" y="739.5" width="1.6" height="1.2" fill="#2a3442"/><rect x="785.9" y="754.4" width="1.6" height="1.2" fill="#2a3442"/><rect x="945.1" y="734.3" width="1.6" height="1.2" fill="#6f84a0"/><rect x="812.6" y="731.5" width="1.6" height="1.2" fill="#6f84a0"/><rect x="939.6" y="748.3" width="1.6" height="1.2" fill="#2a3442"/><rect x="788.0" y="749.9" width="1.6" height="1.2" fill="#6f84a0"/><rect x="911.5" y="733.9" width="1.6" height="1.2" fill="#6f84a0"/><rect x="887.3" y="736.0" width="1.6" height="1.2" fill="#33435a"/><rect x="850.4" y="749.5" width="1.6" height="1.2" fill="#6f84a0"/><rect x="876.2" y="738.4" width="1.6" height="1.2" fill="#33435a"/><rect x="912.9" y="727.0" width="1.6" height="1.2" fill="#8a9ab0"/><rect x="949.4" y="735.2" width="1.6" height="1.2" fill="#8a9ab0"/><rect x="887.1" y="753.1" width="1.6" height="1.2" fill="#2a3442"/><rect x="778.2" y="739.1" width="1.6" height="1.2" fill="#8a9ab0"/><rect x="782.8" y="732.7" width="1.6" height="1.2" fill="#2a3442"/><rect x="787.4" y="733.7" width="1.6" height="1.2" fill="#2a3442"/><rect x="936.8" y="733.7" width="1.6" height="1.2" fill="#6f84a0"/><rect x="896.2" y="748.2" width="1.6" height="1.2" fill="#8a9ab0"/><rect x="893.8" y="732.8" width="1.6" height="1.2" fill="#8a9ab0"/><rect x="809.3" y="755.6" width="1.6" height="1.2" fill="#8a9ab0"/><rect x="908.6" y="732.7" width="1.6" height="1.2" fill="#2a3442"/><rect x="812.2" y="749.4" width="1.6" height="1.2" fill="#8a9ab0"/><rect x="881.0" y="753.4" width="1.6" height="1.2" fill="#2a3442"/><rect x="846.8" y="746.6" width="1.6" height="1.2" fill="#33435a"/><rect x="936.2" y="728.6" width="1.6" height="1.2" fill="#6f84a0"/><rect x="945.4" y="731.2" width="1.6" height="1.2" fill="#6f84a0"/><rect x="898.6" y="732.4" width="1.6" height="1.2" fill="#2a3442"/><rect x="932.0" y="753.1" width="1.6" height="1.2" fill="#6f84a0"/><rect x="949.6" y="754.5" width="1.6" height="1.2" fill="#8a9ab0"/><rect x="806.8" y="746.2" width="1.6" height="1.2" fill="#2a3442"/><rect x="778.6" y="746.6" width="1.6" height="1.2" fill="#2a3442"/><rect x="921.5" y="756.1" width="1.6" height="1.2" fill="#2a3442"/><rect x="803.0" y="727.1" width="1.6" height="1.2" fill="#8a9ab0"/><rect x="787.3" y="739.4" width="1.6" height="1.2" fill="#6f84a0"/><rect x="872.3" y="749.4" width="1.6" height="1.2" fill="#2a3442"/><rect x="836.1" y="751.2" width="1.6" height="1.2" fill="#2a3442"/><rect x="788.5" y="747.8" width="1.6" height="1.2" fill="#33435a"/><rect x="839.0" y="754.1" width="1.6" height="1.2" fill="#33435a"/><rect x="830.2" y="748.8" width="1.6" height="1.2" fill="#2a3442"/><rect x="778.4" y="739.1" width="1.6" height="1.2" fill="#2a3442"/><rect x="780.2" y="728.0" width="1.6" height="1.2" fill="#6f84a0"/><rect x="915.2" y="728.8" width="1.6" height="1.2" fill="#33435a"/><rect x="905.3" y="753.5" width="1.6" height="1.2" fill="#8a9ab0"/><rect x="837.2" y="736.9" width="1.6" height="1.2" fill="#6f84a0"/><rect x="819.4" y="748.1" width="1.6" height="1.2" fill="#8a9ab0"/><rect x="936.6" y="735.8" width="1.6" height="1.2" fill="#6f84a0"/><rect x="777.3" y="733.9" width="1.6" height="1.2" fill="#2a3442"/><rect x="910.4" y="750.3" width="1.6" height="1.2" fill="#2a3442"/><rect x="917.2" y="730.9" width="1.6" height="1.2" fill="#2a3442"/><rect x="805.4" y="750.7" width="1.6" height="1.2" fill="#8a9ab0"/><rect x="918.6" y="749.8" width="1.6" height="1.2" fill="#33435a"/><rect x="831.0" y="736.4" width="1.6" height="1.2" fill="#8a9ab0"/><rect x="863.6" y="738.6" width="1.6" height="1.2" fill="#33435a"/><rect x="816.8" y="728.9" width="1.6" height="1.2" fill="#6f84a0"/><rect x="801.4" y="739.6" width="1.6" height="1.2" fill="#6f84a0"/><rect x="947.8" y="734.8" width="1.6" height="1.2" fill="#6f84a0"/><rect x="809.9" y="739.4" width="1.6" height="1.2" fill="#2a3442"/><rect x="803.7" y="730.9" width="1.6" height="1.2" fill="#2a3442"/><rect x="882.8" y="746.9" width="1.6" height="1.2" fill="#6f84a0"/><rect x="911.0" y="735.7" width="1.6" height="1.2" fill="#8a9ab0"/><rect x="873.3" y="738.0" width="1.6" height="1.2" fill="#8a9ab0"/><rect x="808.3" y="734.3" width="1.6" height="1.2" fill="#33435a"/><rect x="814.7" y="735.3" width="1.6" height="1.2" fill="#33435a"/><rect x="830.8" y="738.7" width="1.6" height="1.2" fill="#33435a"/><rect x="862.8" y="733.8" width="1.6" height="1.2" fill="#6f84a0"/><rect x="888.6" y="756.2" width="1.6" height="1.2" fill="#6f84a0"/><rect x="773.8" y="753.0" width="1.6" height="1.2" fill="#33435a"/><rect x="921.8" y="754.0" width="1.6" height="1.2" fill="#6f84a0"/><rect x="928.2" y="733.9" width="1.6" height="1.2" fill="#6f84a0"/><rect x="806.6" y="755.7" width="1.6" height="1.2" fill="#33435a"/><rect x="937.6" y="738.0" width="1.6" height="1.2" fill="#33435a"/><rect x="852.5" y="734.7" width="1.6" height="1.2" fill="#6f84a0"/><rect x="882.7" y="733.4" width="1.6" height="1.2" fill="#8a9ab0"/><rect x="833.2" y="728.3" width="1.6" height="1.2" fill="#8a9ab0"/><rect x="779.8" y="748.6" width="1.6" height="1.2" fill="#33435a"/><rect x="917.2" y="751.2" width="1.6" height="1.2" fill="#2a3442"/><rect x="893.1" y="732.5" width="1.6" height="1.2" fill="#8a9ab0"/><rect x="786.8" y="727.9" width="1.6" height="1.2" fill="#2a3442"/><rect x="870.0" y="728.9" width="1.6" height="1.2" fill="#6f84a0"/><rect x="913.9" y="746.6" width="1.6" height="1.2" fill="#33435a"/><rect x="886.1" y="729.7" width="1.6" height="1.2" fill="#33435a"/><rect x="843.4" y="735.0" width="1.6" height="1.2" fill="#8a9ab0"/><rect x="891.2" y="739.3" width="1.6" height="1.2" fill="#6f84a0"/><rect x="836.2" y="739.3" width="1.6" height="1.2" fill="#8a9ab0"/><rect x="887.1" y="738.5" width="1.6" height="1.2" fill="#2a3442"/><rect x="809.0" y="727.2" width="1.6" height="1.2" fill="#33435a"/><rect x="848.0" y="751.2" width="1.6" height="1.2" fill="#2a3442"/><rect x="875.3" y="737.8" width="1.6" height="1.2" fill="#33435a"/><rect x="796.0" y="728.5" width="1.6" height="1.2" fill="#33435a"/><rect x="886.4" y="753.8" width="1.6" height="1.2" fill="#6f84a0"/><rect x="874.4" y="754.4" width="1.6" height="1.2" fill="#33435a"/><rect x="798.8" y="735.4" width="1.6" height="1.2" fill="#33435a"/><rect x="936.8" y="730.2" width="1.6" height="1.2" fill="#2a3442"/><rect x="906.4" y="750.4" width="1.6" height="1.2" fill="#33435a"/><rect x="826.4" y="751.7" width="1.6" height="1.2" fill="#6f84a0"/><rect x="782.4" y="754.3" width="1.6" height="1.2" fill="#2a3442"/><rect x="788.3" y="748.0" width="1.6" height="1.2" fill="#33435a"/><rect x="886.3" y="752.3" width="1.6" height="1.2" fill="#2a3442"/><rect x="881.8" y="732.8" width="1.6" height="1.2" fill="#2a3442"/><rect x="805.4" y="733.4" width="1.6" height="1.2" fill="#2a3442"/><rect x="939.1" y="731.6" width="1.6" height="1.2" fill="#8a9ab0"/><rect x="794.8" y="734.3" width="1.6" height="1.2" fill="#33435a"/><rect x="907.1" y="728.1" width="1.6" height="1.2" fill="#8a9ab0"/><rect x="827.2" y="739.4" width="1.6" height="1.2" fill="#33435a"/><rect x="848.4" y="746.4" width="1.6" height="1.2" fill="#2a3442"/><rect x="862.1" y="732.3" width="1.6" height="1.2" fill="#6f84a0"/><rect x="814.6" y="749.5" width="1.6" height="1.2" fill="#2a3442"/><rect x="921.1" y="750.9" width="1.6" height="1.2" fill="#2a3442"/><rect x="792.0" y="730.8" width="1.6" height="1.2" fill="#2a3442"/><rect x="837.7" y="750.7" width="1.6" height="1.2" fill="#6f84a0"/><rect x="780.2" y="730.8" width="1.6" height="1.2" fill="#8a9ab0"/><rect x="839.9" y="755.1" width="1.6" height="1.2" fill="#33435a"/><rect x="777.6" y="729.0" width="1.6" height="1.2" fill="#6f84a0"/><rect x="807.3" y="756.0" width="1.6" height="1.2" fill="#2a3442"/><rect x="824.0" y="750.9" width="1.6" height="1.2" fill="#33435a"/><rect x="894.4" y="748.3" width="1.6" height="1.2" fill="#33435a"/><rect x="784.6" y="737.4" width="1.6" height="1.2" fill="#8a9ab0"/><rect x="801.1" y="753.4" width="1.6" height="1.2" fill="#8a9ab0"/><rect x="818.0" y="755.4" width="1.6" height="1.2" fill="#2a3442"/><rect x="809.9" y="734.8" width="1.6" height="1.2" fill="#33435a"/><rect x="829.5" y="728.1" width="1.6" height="1.2" fill="#33435a"/><rect x="844.4" y="745.8" width="1.6" height="1.2" fill="#8a9ab0"/><rect x="893.3" y="753.4" width="1.6" height="1.2" fill="#33435a"/><rect x="913.2" y="734.8" width="1.6" height="1.2" fill="#6f84a0"/><rect x="885.6" y="737.6" width="1.6" height="1.2" fill="#2a3442"/><rect x="929.2" y="730.1" width="1.6" height="1.2" fill="#2a3442"/><rect x="903.6" y="738.0" width="1.6" height="1.2" fill="#2a3442"/><rect x="836.8" y="749.6" width="1.6" height="1.2" fill="#2a3442"/><rect x="942.6" y="735.7" width="1.6" height="1.2" fill="#8a9ab0"/><rect x="827.9" y="755.5" width="1.6" height="1.2" fill="#8a9ab0"/><rect x="902.7" y="749.0" width="1.6" height="1.2" fill="#33435a"/><rect x="931.5" y="730.9" width="1.6" height="1.2" fill="#33435a"/><rect x="881.4" y="728.3" width="1.6" height="1.2" fill="#6f84a0"/><rect x="773.5" y="737.5" width="1.6" height="1.2" fill="#6f84a0"/><rect x="846.1" y="735.9" width="1.6" height="1.2" fill="#33435a"/><rect x="857.1" y="731.0" width="1.6" height="1.2" fill="#33435a"/><rect x="784.3" y="731.3" width="1.6" height="1.2" fill="#8a9ab0"/><rect x="844.1" y="734.8" width="1.6" height="1.2" fill="#6f84a0"/><rect x="782.9" y="751.2" width="1.6" height="1.2" fill="#8a9ab0"/><rect x="860.2" y="731.9" width="1.6" height="1.2" fill="#6f84a0"/><rect x="844.9" y="734.0" width="1.6" height="1.2" fill="#6f84a0"/><rect x="934.4" y="730.1" width="1.6" height="1.2" fill="#33435a"/><rect x="798.2" y="732.9" width="1.6" height="1.2" fill="#2a3442"/><rect x="917.0" y="732.2" width="1.6" height="1.2" fill="#8a9ab0"/><rect x="948.9" y="748.4" width="1.6" height="1.2" fill="#2a3442"/><rect x="899.6" y="727.2" width="1.6" height="1.2" fill="#2a3442"/><rect x="813.0" y="730.1" width="1.6" height="1.2" fill="#33435a"/><rect x="887.0" y="730.6" width="1.6" height="1.2" fill="#8a9ab0"/><rect x="899.0" y="734.8" width="1.6" height="1.2" fill="#2a3442"/><rect x="894.4" y="754.1" width="1.6" height="1.2" fill="#8a9ab0"/><rect x="825.3" y="754.4" width="1.6" height="1.2" fill="#33435a"/><rect x="803.0" y="753.7" width="1.6" height="1.2" fill="#33435a"/><rect x="940.2" y="749.0" width="1.6" height="1.2" fill="#8a9ab0"/><rect x="807.0" y="738.5" width="1.6" height="1.2" fill="#33435a"/><rect x="840.2" y="752.1" width="1.6" height="1.2" fill="#2a3442"/><rect x="774.1" y="727.8" width="1.6" height="1.2" fill="#33435a"/><rect x="874.0" y="736.1" width="1.6" height="1.2" fill="#33435a"/><rect x="873.0" y="732.1" width="1.6" height="1.2" fill="#6f84a0"/><rect x="777.8" y="730.1" width="1.6" height="1.2" fill="#33435a"/><rect x="834.0" y="731.2" width="1.6" height="1.2" fill="#6f84a0"/><rect x="778.5" y="731.1" width="1.6" height="1.2" fill="#6f84a0"/><rect x="896.4" y="748.7" width="1.6" height="1.2" fill="#6f84a0"/><rect x="924.6" y="749.5" width="1.6" height="1.2" fill="#33435a"/><rect x="917.7" y="751.2" width="1.6" height="1.2" fill="#6f84a0"/><rect x="928.7" y="749.3" width="1.6" height="1.2" fill="#2a3442"/><rect x="792.0" y="733.1" width="1.6" height="1.2" fill="#6f84a0"/><rect x="779.0" y="755.0" width="1.6" height="1.2" fill="#6f84a0"/><rect x="919.0" y="745.6" width="1.6" height="1.2" fill="#8a9ab0"/><rect x="857.4" y="730.9" width="1.6" height="1.2" fill="#33435a"/><rect x="825.1" y="736.9" width="1.6" height="1.2" fill="#8a9ab0"/><rect x="776.7" y="734.6" width="1.6" height="1.2" fill="#8a9ab0"/><rect x="781.6" y="749.4" width="1.6" height="1.2" fill="#8a9ab0"/><rect x="857.3" y="735.5" width="1.6" height="1.2" fill="#6f84a0"/><rect x="912.7" y="727.9" width="1.6" height="1.2" fill="#6f84a0"/><rect x="834.4" y="747.8" width="1.6" height="1.2" fill="#33435a"/><rect x="899.4" y="751.4" width="1.6" height="1.2" fill="#8a9ab0"/><rect x="803.2" y="727.0" width="1.6" height="1.2" fill="#33435a"/><rect x="824.0" y="749.1" width="1.6" height="1.2" fill="#6f84a0"/><rect x="860.0" y="750.5" width="1.6" height="1.2" fill="#33435a"/><rect x="875.3" y="731.7" width="1.6" height="1.2" fill="#33435a"/><rect x="939.1" y="733.8" width="1.6" height="1.2" fill="#33435a"/><rect x="792.5" y="745.8" width="1.6" height="1.2" fill="#6f84a0"/><rect x="859.8" y="756.2" width="1.6" height="1.2" fill="#6f84a0"/><rect x="884.1" y="737.5" width="1.6" height="1.2" fill="#2a3442"/><rect x="937.3" y="753.3" width="1.6" height="1.2" fill="#6f84a0"/><rect x="847.7" y="746.1" width="1.6" height="1.2" fill="#8a9ab0"/><rect x="809.5" y="734.8" width="1.6" height="1.2" fill="#33435a"/><rect x="840.1" y="753.1" width="1.6" height="1.2" fill="#33435a"/><rect x="940.1" y="730.7" width="1.6" height="1.2" fill="#6f84a0"/><rect x="834.7" y="736.6" width="1.6" height="1.2" fill="#33435a"/><rect x="871.0" y="736.5" width="1.6" height="1.2" fill="#2a3442"/><rect x="850.7" y="749.8" width="1.6" height="1.2" fill="#33435a"/><rect x="929.7" y="734.0" width="1.6" height="1.2" fill="#33435a"/><rect x="820.3" y="749.3" width="1.6" height="1.2" fill="#33435a"/><rect x="901.0" y="755.8" width="1.6" height="1.2" fill="#8a9ab0"/><rect x="879.7" y="737.3" width="1.6" height="1.2" fill="#33435a"/><rect x="831.1" y="732.6" width="1.6" height="1.2" fill="#6f84a0"/><rect x="802.1" y="746.4" width="1.6" height="1.2" fill="#33435a"/><rect x="841.0" y="756.0" width="1.6" height="1.2" fill="#8a9ab0"/><rect x="902.8" y="739.8" width="1.6" height="1.2" fill="#33435a"/><rect x="792.3" y="753.9" width="1.6" height="1.2" fill="#8a9ab0"/><rect x="809.5" y="738.5" width="1.6" height="1.2" fill="#6f84a0"/><rect x="775.2" y="752.2" width="1.6" height="1.2" fill="#2a3442"/><rect x="844.6" y="748.9" width="1.6" height="1.2" fill="#2a3442"/><rect x="887.6" y="752.0" width="1.6" height="1.2" fill="#33435a"/><rect x="893.3" y="745.9" width="1.6" height="1.2" fill="#2a3442"/><rect x="849.6" y="734.7" width="1.6" height="1.2" fill="#6f84a0"/><rect x="931.4" y="734.2" width="1.6" height="1.2" fill="#2a3442"/><rect x="899.2" y="745.6" width="1.6" height="1.2" fill="#8a9ab0"/><rect x="776.5" y="752.3" width="1.6" height="1.2" fill="#33435a"/><rect x="931.3" y="736.7" width="1.6" height="1.2" fill="#6f84a0"/><rect x="945.5" y="728.1" width="1.6" height="1.2" fill="#33435a"/><rect x="801.5" y="750.1" width="1.6" height="1.2" fill="#33435a"/><rect x="864.9" y="730.0" width="1.6" height="1.2" fill="#2a3442"/><rect x="868.8" y="748.2" width="1.6" height="1.2" fill="#6f84a0"/><rect x="886.1" y="751.5" width="1.6" height="1.2" fill="#8a9ab0"/><rect x="845.6" y="755.0" width="1.6" height="1.2" fill="#33435a"/><rect x="948.3" y="732.4" width="1.6" height="1.2" fill="#6f84a0"/><rect x="885.8" y="734.4" width="1.6" height="1.2" fill="#2a3442"/><rect x="843.7" y="727.4" width="1.6" height="1.2" fill="#2a3442"/><rect x="935.0" y="745.5" width="1.6" height="1.2" fill="#8a9ab0"/><rect x="875.7" y="730.2" width="1.6" height="1.2" fill="#8a9ab0"/><rect x="904.2" y="754.7" width="1.6" height="1.2" fill="#33435a"/><rect x="949.0" y="755.3" width="1.6" height="1.2" fill="#2a3442"/><rect x="810.5" y="730.8" width="1.6" height="1.2" fill="#6f84a0"/><rect x="916.3" y="745.7" width="1.6" height="1.2" fill="#2a3442"/><rect x="886.7" y="748.3" width="1.6" height="1.2" fill="#33435a"/><rect x="835.5" y="745.8" width="1.6" height="1.2" fill="#2a3442"/><rect x="855.9" y="735.7" width="1.6" height="1.2" fill="#33435a"/><rect x="911.7" y="733.8" width="1.6" height="1.2" fill="#2a3442"/><rect x="894.7" y="756.0" width="1.6" height="1.2" fill="#33435a"/><rect x="858.2" y="750.8" width="1.6" height="1.2" fill="#8a9ab0"/><rect x="836.4" y="746.3" width="1.6" height="1.2" fill="#8a9ab0"/><rect x="857.9" y="739.6" width="1.6" height="1.2" fill="#6f84a0"/>
<circle cx="812" cy="759.3" r="3.3" fill="#6fae4a"/>
<circle cx="861.9" cy="759.3" r="3.3" fill="#6fae4a"/>
<circle cx="910.6" cy="759.3" r="3.3" fill="#6fae4a"/>
<g filter="url(#blurM)">
<circle cx="839.3" cy="655.5" r="2.0" fill="#9ab2da"/>
<circle cx="844.7" cy="655.5" r="2.0" fill="#9ab2da"/>
<circle cx="842" cy="657.5" r="3.4" fill="#6a88c2"/>
<circle cx="869.1" cy="651.3" r="1.7" fill="#9ab2da"/>
<circle cx="873.5" cy="651.3" r="1.7" fill="#9ab2da"/>
<circle cx="871.3" cy="653" r="2.8" fill="#6a88c2"/>
<circle cx="849.6" cy="673.4" r="3.1" fill="#9ab2da"/>
<circle cx="858.0" cy="673.4" r="3.1" fill="#9ab2da"/>
<circle cx="853.8" cy="676.5" r="5.2" fill="#6a88c2"/>
<circle cx="883.9" cy="668.5" r="2.5" fill="#9ab2da"/>
<circle cx="890.7" cy="668.5" r="2.5" fill="#9ab2da"/>
<circle cx="887.3" cy="671" r="4.2" fill="#6a88c2"/>
<circle cx="882.0" cy="691.3" r="3.7" fill="#9ab2da"/>
<circle cx="892.0" cy="691.3" r="3.7" fill="#9ab2da"/>
<circle cx="887" cy="695" r="6.2" fill="#6a88c2"/>
<circle cx="845.0" cy="703.9" r="3.6" fill="#9ab2da"/>
<circle cx="854.6" cy="703.9" r="3.6" fill="#9ab2da"/>
<circle cx="849.8" cy="707.5" r="6.0" fill="#6a88c2"/>
</g>
<text x="849.8" y="709.6" font-size="6.5" font-weight="normal" text-anchor="middle" fill="#1c2430">O</text>
<path d="M841,700 L844,699 M841.5,702 L844.5,701 M855,699 L858,700 M855,701 L858,702" stroke="#223" stroke-width="0.7"/>
<text x="865.00" y="785.00" font-size="13.6" font-weight="bold" text-anchor="middle" fill="#fff" stroke="#1a1a22" stroke-width="2.6" stroke-linejoin="round" paint-order="stroke" textLength="200" lengthAdjust="spacingAndGlyphs">Underwater superoleophobicity</text>
<defs><linearGradient id="cbar" x1="0" y1="0" x2="0" y2="1"><stop offset="0" stop-color="#2b86bf"/><stop offset="0.45" stop-color="#4ea2d2"/><stop offset="1" stop-color="#a6dbf3"/></linearGradient><linearGradient id="cbarh" x1="0" y1="0" x2="1" y2="0"><stop offset="0" stop-color="#000" stop-opacity="0.10"/><stop offset="0.5" stop-color="#fff" stop-opacity="0.05"/><stop offset="1" stop-color="#000" stop-opacity="0.10"/></linearGradient></defs>
<rect x="62.00" y="410.60" width="15.00" height="118.70" fill="url(#cbar)" stroke="#1a6488" stroke-width="1.3" />
<line x1="69.50" y1="400.90" x2="69.50" y2="420.60" stroke="#1e6e9c" stroke-width="1.1" />
<line x1="67.00" y1="400.90" x2="72.00" y2="400.90" stroke="#1e6e9c" stroke-width="1.1" />
<line x1="67.00" y1="420.60" x2="72.00" y2="420.60" stroke="#1e6e9c" stroke-width="1.1" />
<line x1="69.50" y1="351.20" x2="69.50" y2="367.90" stroke="#2f9ccc" stroke-width="1.1" />
<line x1="67.00" y1="351.20" x2="72.00" y2="351.20" stroke="#2f9ccc" stroke-width="1.1" />
<line x1="67.00" y1="367.90" x2="72.00" y2="367.90" stroke="#2f9ccc" stroke-width="1.1" />
<polygon points="69.50,355.80 72.62,357.60 72.62,361.20 69.50,363.00 66.38,361.20 66.38,357.60" fill="#d6f4fc" stroke="#2f9ccc" stroke-width="1.4" />
<circle cx="69.50" cy="359.40" r="0.8" fill="#2f9ccc"/>
<line x1="69.50" y1="529.30" x2="69.50" y2="533.30" stroke="#000" stroke-width="1.1" />
<text x="69.50" y="544.80" font-size="10.3" text-anchor="middle" font-weight="bold" fill="#000" >50</text>
<rect x="87.81" y="398.30" width="15.00" height="131.00" fill="url(#cbar)" stroke="#1a6488" stroke-width="1.3" />
<line x1="95.31" y1="385.30" x2="95.31" y2="411.30" stroke="#1e6e9c" stroke-width="1.1" />
<line x1="92.81" y1="385.30" x2="97.81" y2="385.30" stroke="#1e6e9c" stroke-width="1.1" />
<line x1="92.81" y1="411.30" x2="97.81" y2="411.30" stroke="#1e6e9c" stroke-width="1.1" />
<line x1="95.31" y1="353.00" x2="95.31" y2="367.90" stroke="#2f9ccc" stroke-width="1.1" />
<line x1="92.81" y1="353.00" x2="97.81" y2="353.00" stroke="#2f9ccc" stroke-width="1.1" />
<line x1="92.81" y1="367.90" x2="97.81" y2="367.90" stroke="#2f9ccc" stroke-width="1.1" />
<polygon points="95.31,356.90 98.43,358.70 98.43,362.30 95.31,364.10 92.19,362.30 92.19,358.70" fill="#d6f4fc" stroke="#2f9ccc" stroke-width="1.4" />
<circle cx="95.31" cy="360.50" r="0.8" fill="#2f9ccc"/>
<line x1="95.31" y1="529.30" x2="95.31" y2="533.30" stroke="#000" stroke-width="1.1" />
<text x="95.31" y="544.80" font-size="10.3" text-anchor="middle" font-weight="bold" fill="#000" >100</text>
<rect x="113.62" y="408.70" width="15.00" height="120.60" fill="url(#cbar)" stroke="#1a6488" stroke-width="1.3" />
<line x1="121.12" y1="397.20" x2="121.12" y2="420.60" stroke="#1e6e9c" stroke-width="1.1" />
<line x1="118.62" y1="397.20" x2="123.62" y2="397.20" stroke="#1e6e9c" stroke-width="1.1" />
<line x1="118.62" y1="420.60" x2="123.62" y2="420.60" stroke="#1e6e9c" stroke-width="1.1" />
<line x1="121.12" y1="352.00" x2="121.12" y2="367.90" stroke="#2f9ccc" stroke-width="1.1" />
<line x1="118.62" y1="352.00" x2="123.62" y2="352.00" stroke="#2f9ccc" stroke-width="1.1" />
<line x1="118.62" y1="367.90" x2="123.62" y2="367.90" stroke="#2f9ccc" stroke-width="1.1" />
<polygon points="121.12,356.10 124.24,357.90 124.24,361.50 121.12,363.30 118.00,361.50 118.00,357.90" fill="#d6f4fc" stroke="#2f9ccc" stroke-width="1.4" />
<circle cx="121.12" cy="359.70" r="0.8" fill="#2f9ccc"/>
<line x1="121.12" y1="529.30" x2="121.12" y2="533.30" stroke="#000" stroke-width="1.1" />
<text x="121.12" y="544.80" font-size="10.3" text-anchor="middle" font-weight="bold" fill="#000" >150</text>
<rect x="139.43" y="398.30" width="15.00" height="131.00" fill="url(#cbar)" stroke="#1a6488" stroke-width="1.3" />
<line x1="146.93" y1="385.70" x2="146.93" y2="411.30" stroke="#1e6e9c" stroke-width="1.1" />
<line x1="144.43" y1="385.70" x2="149.43" y2="385.70" stroke="#1e6e9c" stroke-width="1.1" />
<line x1="144.43" y1="411.30" x2="149.43" y2="411.30" stroke="#1e6e9c" stroke-width="1.1" />
<line x1="146.93" y1="354.90" x2="146.93" y2="366.00" stroke="#2f9ccc" stroke-width="1.1" />
<line x1="144.43" y1="354.90" x2="149.43" y2="354.90" stroke="#2f9ccc" stroke-width="1.1" />
<line x1="144.43" y1="366.00" x2="149.43" y2="366.00" stroke="#2f9ccc" stroke-width="1.1" />
<polygon points="146.93,356.90 150.05,358.70 150.05,362.30 146.93,364.10 143.81,362.30 143.81,358.70" fill="#d6f4fc" stroke="#2f9ccc" stroke-width="1.4" />
<circle cx="146.93" cy="360.50" r="0.8" fill="#2f9ccc"/>
<line x1="146.93" y1="529.30" x2="146.93" y2="533.30" stroke="#000" stroke-width="1.1" />
<text x="146.93" y="544.80" font-size="10.3" text-anchor="middle" font-weight="bold" fill="#000" >200</text>
<rect x="165.24" y="410.60" width="15.00" height="118.70" fill="url(#cbar)" stroke="#1a6488" stroke-width="1.3" />
<line x1="172.74" y1="400.90" x2="172.74" y2="420.60" stroke="#1e6e9c" stroke-width="1.1" />
<line x1="170.24" y1="400.90" x2="175.24" y2="400.90" stroke="#1e6e9c" stroke-width="1.1" />
<line x1="170.24" y1="420.60" x2="175.24" y2="420.60" stroke="#1e6e9c" stroke-width="1.1" />
<line x1="172.74" y1="354.20" x2="172.74" y2="369.80" stroke="#2f9ccc" stroke-width="1.1" />
<line x1="170.24" y1="354.20" x2="175.24" y2="354.20" stroke="#2f9ccc" stroke-width="1.1" />
<line x1="170.24" y1="369.80" x2="175.24" y2="369.80" stroke="#2f9ccc" stroke-width="1.1" />
<polygon points="172.74,358.40 175.86,360.20 175.86,363.80 172.74,365.60 169.62,363.80 169.62,360.20" fill="#d6f4fc" stroke="#2f9ccc" stroke-width="1.4" />
<circle cx="172.74" cy="362.00" r="0.8" fill="#2f9ccc"/>
<line x1="172.74" y1="529.30" x2="172.74" y2="533.30" stroke="#000" stroke-width="1.1" />
<text x="172.74" y="544.80" font-size="10.3" text-anchor="middle" font-weight="bold" fill="#000" >250</text>
<rect x="191.05" y="400.20" width="15.00" height="129.10" fill="url(#cbar)" stroke="#1a6488" stroke-width="1.3" />
<line x1="198.55" y1="392.00" x2="198.55" y2="409.80" stroke="#1e6e9c" stroke-width="1.1" />
<line x1="196.05" y1="392.00" x2="201.05" y2="392.00" stroke="#1e6e9c" stroke-width="1.1" />
<line x1="196.05" y1="409.80" x2="201.05" y2="409.80" stroke="#1e6e9c" stroke-width="1.1" />
<line x1="198.55" y1="356.40" x2="198.55" y2="370.90" stroke="#2f9ccc" stroke-width="1.1" />
<line x1="196.05" y1="356.40" x2="201.05" y2="356.40" stroke="#2f9ccc" stroke-width="1.1" />
<line x1="196.05" y1="370.90" x2="201.05" y2="370.90" stroke="#2f9ccc" stroke-width="1.1" />
<polygon points="198.55,360.20 201.67,362.00 201.67,365.60 198.55,367.40 195.43,365.60 195.43,362.00" fill="#d6f4fc" stroke="#2f9ccc" stroke-width="1.4" />
<circle cx="198.55" cy="363.80" r="0.8" fill="#2f9ccc"/>
<line x1="198.55" y1="529.30" x2="198.55" y2="533.30" stroke="#000" stroke-width="1.1" />
<text x="198.55" y="544.80" font-size="10.3" text-anchor="middle" font-weight="bold" fill="#000" >300</text>
<rect x="216.86" y="415.00" width="15.00" height="114.30" fill="url(#cbar)" stroke="#1a6488" stroke-width="1.3" />
<line x1="224.36" y1="403.20" x2="224.36" y2="427.30" stroke="#1e6e9c" stroke-width="1.1" />
<line x1="221.86" y1="403.20" x2="226.86" y2="403.20" stroke="#1e6e9c" stroke-width="1.1" />
<line x1="221.86" y1="427.30" x2="226.86" y2="427.30" stroke="#1e6e9c" stroke-width="1.1" />
<line x1="224.36" y1="358.30" x2="224.36" y2="371.20" stroke="#2f9ccc" stroke-width="1.1" />
<line x1="221.86" y1="358.30" x2="226.86" y2="358.30" stroke="#2f9ccc" stroke-width="1.1" />
<line x1="221.86" y1="371.20" x2="226.86" y2="371.20" stroke="#2f9ccc" stroke-width="1.1" />
<polygon points="224.36,361.30 227.48,363.10 227.48,366.70 224.36,368.50 221.24,366.70 221.24,363.10" fill="#d6f4fc" stroke="#2f9ccc" stroke-width="1.4" />
<circle cx="224.36" cy="364.90" r="0.8" fill="#2f9ccc"/>
<line x1="224.36" y1="529.30" x2="224.36" y2="533.30" stroke="#000" stroke-width="1.1" />
<text x="224.36" y="544.80" font-size="10.3" text-anchor="middle" font-weight="bold" fill="#000" >350</text>
<rect x="242.67" y="398.30" width="15.00" height="131.00" fill="url(#cbar)" stroke="#1a6488" stroke-width="1.3" />
<line x1="250.17" y1="389.00" x2="250.17" y2="408.70" stroke="#1e6e9c" stroke-width="1.1" />
<line x1="247.67" y1="389.00" x2="252.67" y2="389.00" stroke="#1e6e9c" stroke-width="1.1" />
<line x1="247.67" y1="408.70" x2="252.67" y2="408.70" stroke="#1e6e9c" stroke-width="1.1" />
<line x1="250.17" y1="357.90" x2="250.17" y2="373.80" stroke="#2f9ccc" stroke-width="1.1" />
<line x1="247.67" y1="357.90" x2="252.67" y2="357.90" stroke="#2f9ccc" stroke-width="1.1" />
<line x1="247.67" y1="373.80" x2="252.67" y2="373.80" stroke="#2f9ccc" stroke-width="1.1" />
<polygon points="250.17,362.40 253.29,364.20 253.29,367.80 250.17,369.60 247.05,367.80 247.05,364.20" fill="#d6f4fc" stroke="#2f9ccc" stroke-width="1.4" />
<circle cx="250.17" cy="366.00" r="0.8" fill="#2f9ccc"/>
<line x1="250.17" y1="529.30" x2="250.17" y2="533.30" stroke="#000" stroke-width="1.1" />
<text x="250.17" y="544.80" font-size="10.3" text-anchor="middle" font-weight="bold" fill="#000" >400</text>
<rect x="268.48" y="402.40" width="15.00" height="126.90" fill="url(#cbar)" stroke="#1a6488" stroke-width="1.3" />
<line x1="275.98" y1="392.80" x2="275.98" y2="412.80" stroke="#1e6e9c" stroke-width="1.1" />
<line x1="273.48" y1="392.80" x2="278.48" y2="392.80" stroke="#1e6e9c" stroke-width="1.1" />
<line x1="273.48" y1="412.80" x2="278.48" y2="412.80" stroke="#1e6e9c" stroke-width="1.1" />
<line x1="275.98" y1="358.30" x2="275.98" y2="371.60" stroke="#2f9ccc" stroke-width="1.1" />
<line x1="273.48" y1="358.30" x2="278.48" y2="358.30" stroke="#2f9ccc" stroke-width="1.1" />
<line x1="273.48" y1="371.60" x2="278.48" y2="371.60" stroke="#2f9ccc" stroke-width="1.1" />
<polygon points="275.98,361.00 279.10,362.80 279.10,366.40 275.98,368.20 272.86,366.40 272.86,362.80" fill="#d6f4fc" stroke="#2f9ccc" stroke-width="1.4" />
<circle cx="275.98" cy="364.60" r="0.8" fill="#2f9ccc"/>
<line x1="275.98" y1="529.30" x2="275.98" y2="533.30" stroke="#000" stroke-width="1.1" />
<text x="275.98" y="544.80" font-size="10.3" text-anchor="middle" font-weight="bold" fill="#000" >450</text>
<rect x="294.29" y="400.20" width="15.00" height="129.10" fill="url(#cbar)" stroke="#1a6488" stroke-width="1.3" />
<line x1="301.79" y1="388.70" x2="301.79" y2="409.80" stroke="#1e6e9c" stroke-width="1.1" />
<line x1="299.29" y1="388.70" x2="304.29" y2="388.70" stroke="#1e6e9c" stroke-width="1.1" />
<line x1="299.29" y1="409.80" x2="304.29" y2="409.80" stroke="#1e6e9c" stroke-width="1.1" />
<line x1="301.79" y1="355.70" x2="301.79" y2="372.40" stroke="#2f9ccc" stroke-width="1.1" />
<line x1="299.29" y1="355.70" x2="304.29" y2="355.70" stroke="#2f9ccc" stroke-width="1.1" />
<line x1="299.29" y1="372.40" x2="304.29" y2="372.40" stroke="#2f9ccc" stroke-width="1.1" />
<polygon points="301.79,360.20 304.91,362.00 304.91,365.60 301.79,367.40 298.67,365.60 298.67,362.00" fill="#d6f4fc" stroke="#2f9ccc" stroke-width="1.4" />
<circle cx="301.79" cy="363.80" r="0.8" fill="#2f9ccc"/>
<line x1="301.79" y1="529.30" x2="301.79" y2="533.30" stroke="#000" stroke-width="1.1" />
<text x="301.79" y="544.80" font-size="10.3" text-anchor="middle" font-weight="bold" fill="#000" >500</text>
<rect x="56.80" y="321.70" width="258.80" height="207.60" fill="none" stroke="#000" stroke-width="1.3" />
<line x1="52.80" y1="529.30" x2="56.80" y2="529.30" stroke="#000" stroke-width="1.1" />
<text x="49.20" y="532.90" font-size="10.3" text-anchor="end" font-weight="bold" fill="#000" >0</text>
<line x1="54.30" y1="517.77" x2="56.80" y2="517.77" stroke="#000" stroke-width="1.1" />
<line x1="52.80" y1="506.23" x2="56.80" y2="506.23" stroke="#000" stroke-width="1.1" />
<text x="49.20" y="509.83" font-size="10.3" text-anchor="end" font-weight="bold" fill="#000" >500</text>
<line x1="54.30" y1="494.70" x2="56.80" y2="494.70" stroke="#000" stroke-width="1.1" />
<line x1="52.80" y1="483.17" x2="56.80" y2="483.17" stroke="#000" stroke-width="1.1" />
<text x="49.20" y="486.77" font-size="10.3" text-anchor="end" font-weight="bold" fill="#000" >1000</text>
<line x1="54.30" y1="471.63" x2="56.80" y2="471.63" stroke="#000" stroke-width="1.1" />
<line x1="52.80" y1="460.10" x2="56.80" y2="460.10" stroke="#000" stroke-width="1.1" />
<text x="49.20" y="463.70" font-size="10.3" text-anchor="end" font-weight="bold" fill="#000" >1500</text>
<line x1="54.30" y1="448.57" x2="56.80" y2="448.57" stroke="#000" stroke-width="1.1" />
<line x1="52.80" y1="437.03" x2="56.80" y2="437.03" stroke="#000" stroke-width="1.1" />
<text x="49.20" y="440.63" font-size="10.3" text-anchor="end" font-weight="bold" fill="#000" >2000</text>
<line x1="54.30" y1="425.50" x2="56.80" y2="425.50" stroke="#000" stroke-width="1.1" />
<line x1="52.80" y1="413.97" x2="56.80" y2="413.97" stroke="#000" stroke-width="1.1" />
<text x="49.20" y="417.57" font-size="10.3" text-anchor="end" font-weight="bold" fill="#000" >2500</text>
<line x1="54.30" y1="402.43" x2="56.80" y2="402.43" stroke="#000" stroke-width="1.1" />
<line x1="52.80" y1="390.90" x2="56.80" y2="390.90" stroke="#000" stroke-width="1.1" />
<text x="49.20" y="394.50" font-size="10.3" text-anchor="end" font-weight="bold" fill="#000" >3000</text>
<line x1="54.30" y1="379.37" x2="56.80" y2="379.37" stroke="#000" stroke-width="1.1" />
<line x1="52.80" y1="367.83" x2="56.80" y2="367.83" stroke="#000" stroke-width="1.1" />
<text x="49.20" y="371.43" font-size="10.3" text-anchor="end" font-weight="bold" fill="#000" >3500</text>
<line x1="54.30" y1="356.30" x2="56.80" y2="356.30" stroke="#000" stroke-width="1.1" />
<line x1="52.80" y1="344.77" x2="56.80" y2="344.77" stroke="#000" stroke-width="1.1" />
<text x="49.20" y="348.37" font-size="10.3" text-anchor="end" font-weight="bold" fill="#000" >4000</text>
<line x1="54.30" y1="333.23" x2="56.80" y2="333.23" stroke="#000" stroke-width="1.1" />
<line x1="52.80" y1="321.70" x2="56.80" y2="321.70" stroke="#000" stroke-width="1.1" />
<text x="49.20" y="325.30" font-size="10.3" text-anchor="end" font-weight="bold" fill="#000" >4500</text>
<line x1="315.60" y1="529.30" x2="319.60" y2="529.30" stroke="#000" stroke-width="1.1" />
<text x="322.40" y="532.90" font-size="10.3" text-anchor="start" font-weight="bold" fill="#000" >99.90</text>
<line x1="315.60" y1="508.54" x2="318.10" y2="508.54" stroke="#000" stroke-width="1.1" />
<line x1="315.60" y1="487.78" x2="319.60" y2="487.78" stroke="#000" stroke-width="1.1" />
<text x="322.40" y="491.38" font-size="10.3" text-anchor="start" font-weight="bold" fill="#000" >99.92</text>
<line x1="315.60" y1="467.02" x2="318.10" y2="467.02" stroke="#000" stroke-width="1.1" />
<line x1="315.60" y1="446.26" x2="319.60" y2="446.26" stroke="#000" stroke-width="1.1" />
<text x="322.40" y="449.86" font-size="10.3" text-anchor="start" font-weight="bold" fill="#000" >99.94</text>
<line x1="315.60" y1="425.50" x2="318.10" y2="425.50" stroke="#000" stroke-width="1.1" />
<line x1="315.60" y1="404.74" x2="319.60" y2="404.74" stroke="#000" stroke-width="1.1" />
<text x="322.40" y="408.34" font-size="10.3" text-anchor="start" font-weight="bold" fill="#000" >99.96</text>
<line x1="315.60" y1="383.98" x2="318.10" y2="383.98" stroke="#000" stroke-width="1.1" />
<line x1="315.60" y1="363.22" x2="319.60" y2="363.22" stroke="#000" stroke-width="1.1" />
<text x="322.40" y="366.82" font-size="10.3" text-anchor="start" font-weight="bold" fill="#000" >99.98</text>
<line x1="315.60" y1="342.46" x2="318.10" y2="342.46" stroke="#000" stroke-width="1.1" />
<line x1="315.60" y1="321.70" x2="319.60" y2="321.70" stroke="#000" stroke-width="1.1" />
<text x="322.40" y="325.30" font-size="10.3" text-anchor="start" font-weight="bold" fill="#000" >100.00</text>
<polygon points="69.00,327.90 72.12,329.70 72.12,333.30 69.00,335.10 65.88,333.30 65.88,329.70" fill="#fff" stroke="#35a6d6" stroke-width="1.3" />
<circle cx="69" cy="331.5" r="0.8" fill="#35a6d6"/>
<text x="81.60" y="335.50" font-size="10.8" text-anchor="start" font-weight="bold" fill="#000" >Separation flux</text>
<rect x="165.80" y="326.80" width="20.00" height="10.20" fill="url(#cbar)" stroke="#1c6f9e" stroke-width="1" />
<text x="189.00" y="335.50" font-size="10.8" text-anchor="start" font-weight="bold" fill="#000" >Separation efficency</text>
<text x="185.70" y="565.70" font-size="12.75" text-anchor="middle" font-weight="bold" fill="#000" >S/B emulsion (mL)</text>
<text transform="translate(18,427) rotate(-90)" font-size="12.5" font-weight="bold" text-anchor="middle">Separation flux (L·m<tspan dy="-4.3" font-size="8.6">-2</tspan><tspan dy="4.3">·h</tspan><tspan dy="-4.3" font-size="8.6">-1</tspan><tspan dy="4.3">)</tspan></text>
<text transform="translate(363.4,424.3) rotate(-90)" font-size="12.5" font-weight="bold" text-anchor="middle">Separation efficency (%)</text>
<polygon points="430.79,328.46 434.26,330.46 434.26,334.46 430.79,336.46 427.33,334.46 427.33,330.46" fill="#ffc6c0" stroke="#d81b2a" stroke-width="1.6" />
<circle cx="430.79" cy="332.46" r="1.0" fill="#b0151f"/>
<polygon points="437.99,341.85 441.45,343.85 441.45,347.85 437.99,349.85 434.52,347.85 434.52,343.85" fill="#ffc6c0" stroke="#d81b2a" stroke-width="1.6" />
<circle cx="437.99" cy="345.85" r="1.0" fill="#b0151f"/>
<polygon points="445.18,357.55 448.65,359.55 448.65,363.55 445.18,365.55 441.72,363.55 441.72,359.55" fill="#ffc6c0" stroke="#d81b2a" stroke-width="1.6" />
<circle cx="445.18" cy="361.55" r="1.0" fill="#b0151f"/>
<polygon points="452.38,372.91 455.84,374.91 455.84,378.91 452.38,380.91 448.91,378.91 448.91,374.91" fill="#ffc6c0" stroke="#d81b2a" stroke-width="1.6" />
<circle cx="452.38" cy="376.91" r="1.0" fill="#b0151f"/>
<polygon points="459.57,392.30 463.04,394.30 463.04,398.30 459.57,400.30 456.11,398.30 456.11,394.30" fill="#ffc6c0" stroke="#d81b2a" stroke-width="1.6" />
<circle cx="459.57" cy="396.30" r="1.0" fill="#b0151f"/>
<polygon points="466.77,406.62 470.23,408.62 470.23,412.62 466.77,414.62 463.30,412.62 463.30,408.62" fill="#ffc6c0" stroke="#d81b2a" stroke-width="1.6" />
<circle cx="466.77" cy="410.62" r="1.0" fill="#b0151f"/>
<polygon points="473.96,426.13 477.43,428.13 477.43,432.13 473.96,434.13 470.50,432.13 470.50,428.13" fill="#ffc6c0" stroke="#d81b2a" stroke-width="1.6" />
<circle cx="473.96" cy="430.13" r="1.0" fill="#b0151f"/>
<polygon points="481.16,447.25 484.62,449.25 484.62,453.25 481.16,455.25 477.69,453.25 477.69,449.25" fill="#ffc6c0" stroke="#d81b2a" stroke-width="1.6" />
<circle cx="481.16" cy="451.25" r="1.0" fill="#b0151f"/>
<polygon points="488.35,461.57 491.81,463.57 491.81,467.57 488.35,469.57 484.89,467.57 484.89,463.57" fill="#ffc6c0" stroke="#d81b2a" stroke-width="1.6" />
<circle cx="488.35" cy="465.57" r="1.0" fill="#b0151f"/>
<polygon points="495.54,479.92 499.01,481.92 499.01,485.92 495.54,487.92 492.08,485.92 492.08,481.92" fill="#ffc6c0" stroke="#d81b2a" stroke-width="1.6" />
<circle cx="495.54" cy="483.92" r="1.0" fill="#b0151f"/>
<polygon points="502.74,499.66 506.20,501.66 506.20,505.66 502.74,507.66 499.27,505.66 499.27,501.66" fill="#ffc6c0" stroke="#d81b2a" stroke-width="1.6" />
<circle cx="502.74" cy="503.66" r="1.0" fill="#b0151f"/>
<polygon points="509.93,512.71 513.40,514.71 513.40,518.71 509.93,520.71 506.47,518.71 506.47,514.71" fill="#ffc6c0" stroke="#d81b2a" stroke-width="1.6" />
<circle cx="509.93" cy="516.71" r="1.0" fill="#b0151f"/>
<polygon points="517.13,327.46 521.88,330.91 520.07,336.50 514.19,336.50 512.37,330.91" fill="#5aa6ec" stroke="#3f88d8" stroke-width="1.1" />
<circle cx="517.13" cy="332.46" r="0.8" fill="#2f78c8"/>
<polygon points="524.32,340.85 529.08,344.31 527.26,349.90 521.38,349.90 519.57,344.31" fill="#5aa6ec" stroke="#3f88d8" stroke-width="1.1" />
<circle cx="524.32" cy="345.85" r="0.8" fill="#2f78c8"/>
<polygon points="531.52,355.40 536.27,358.85 534.46,364.44 528.58,364.44 526.76,358.85" fill="#5aa6ec" stroke="#3f88d8" stroke-width="1.1" />
<circle cx="531.52" cy="360.40" r="0.8" fill="#2f78c8"/>
<polygon points="538.71,371.91 543.47,375.36 541.65,380.95 535.77,380.95 533.96,375.36" fill="#5aa6ec" stroke="#3f88d8" stroke-width="1.1" />
<circle cx="538.71" cy="376.91" r="0.8" fill="#2f78c8"/>
<polygon points="545.91,390.03 550.66,393.48 548.84,399.08 542.97,399.08 541.15,393.48" fill="#5aa6ec" stroke="#3f88d8" stroke-width="1.1" />
<circle cx="545.91" cy="395.03" r="0.8" fill="#2f78c8"/>
<polygon points="553.10,405.27 557.86,408.72 556.04,414.31 550.16,414.31 548.34,408.72" fill="#5aa6ec" stroke="#3f88d8" stroke-width="1.1" />
<circle cx="553.10" cy="410.27" r="0.8" fill="#2f78c8"/>
<polygon points="560.29,424.66 565.05,428.12 563.23,433.71 557.36,433.71 555.54,428.12" fill="#5aa6ec" stroke="#3f88d8" stroke-width="1.1" />
<circle cx="560.29" cy="429.66" r="0.8" fill="#2f78c8"/>
<polygon points="567.49,444.29 572.24,447.74 570.43,453.33 564.55,453.33 562.73,447.74" fill="#5aa6ec" stroke="#3f88d8" stroke-width="1.1" />
<circle cx="567.49" cy="449.29" r="0.8" fill="#2f78c8"/>
<polygon points="574.68,459.87 579.44,463.33 577.62,468.92 571.74,468.92 569.93,463.33" fill="#5aa6ec" stroke="#3f88d8" stroke-width="1.1" />
<circle cx="574.68" cy="464.87" r="0.8" fill="#2f78c8"/>
<polygon points="581.88,477.77 586.63,481.22 584.82,486.81 578.94,486.81 577.12,481.22" fill="#5aa6ec" stroke="#3f88d8" stroke-width="1.1" />
<circle cx="581.88" cy="482.77" r="0.8" fill="#2f78c8"/>
<polygon points="589.07,497.39 593.83,500.85 592.01,506.44 586.13,506.44 584.32,500.85" fill="#5aa6ec" stroke="#3f88d8" stroke-width="1.1" />
<circle cx="589.07" cy="502.39" r="0.8" fill="#2f78c8"/>
<polygon points="596.27,510.09 601.02,513.55 599.21,519.14 593.33,519.14 591.51,513.55" fill="#5aa6ec" stroke="#3f88d8" stroke-width="1.1" />
<circle cx="596.27" cy="515.09" r="0.8" fill="#2f78c8"/>
<polygon points="603.46,327.36 608.56,332.46 603.46,337.56 598.36,332.46" fill="#86ee86" stroke="#17921b" stroke-width="1.7" />
<circle cx="603.46" cy="332.46" r="1.0" fill="#137a16"/>
<polygon points="610.66,340.75 615.76,345.85 610.66,350.95 605.56,345.85" fill="#86ee86" stroke="#17921b" stroke-width="1.7" />
<circle cx="610.66" cy="345.85" r="1.0" fill="#137a16"/>
<polygon points="617.85,356.45 622.95,361.55 617.85,366.65 612.75,361.55" fill="#86ee86" stroke="#17921b" stroke-width="1.7" />
<circle cx="617.85" cy="361.55" r="1.0" fill="#137a16"/>
<polygon points="625.04,371.81 630.14,376.91 625.04,382.01 619.94,376.91" fill="#86ee86" stroke="#17921b" stroke-width="1.7" />
<circle cx="625.04" cy="376.91" r="1.0" fill="#137a16"/>
<polygon points="632.24,391.20 637.34,396.30 632.24,401.40 627.14,396.30" fill="#86ee86" stroke="#17921b" stroke-width="1.7" />
<circle cx="632.24" cy="396.30" r="1.0" fill="#137a16"/>
<polygon points="639.43,406.90 644.53,412.00 639.43,417.10 634.33,412.00" fill="#86ee86" stroke="#17921b" stroke-width="1.7" />
<circle cx="639.43" cy="412.00" r="1.0" fill="#137a16"/>
<polygon points="646.63,425.03 651.73,430.13 646.63,435.23 641.53,430.13" fill="#86ee86" stroke="#17921b" stroke-width="1.7" />
<circle cx="646.63" cy="430.13" r="1.0" fill="#137a16"/>
<polygon points="653.82,447.31 658.92,452.41 653.82,457.51 648.72,452.41" fill="#86ee86" stroke="#17921b" stroke-width="1.7" />
<circle cx="653.82" cy="452.41" r="1.0" fill="#137a16"/>
<polygon points="661.02,460.47 666.12,465.57 661.02,470.67 655.92,465.57" fill="#86ee86" stroke="#17921b" stroke-width="1.7" />
<circle cx="661.02" cy="465.57" r="1.0" fill="#137a16"/>
<polygon points="668.21,478.82 673.31,483.92 668.21,489.02 663.11,483.92" fill="#86ee86" stroke="#17921b" stroke-width="1.7" />
<circle cx="668.21" cy="483.92" r="1.0" fill="#137a16"/>
<polygon points="675.41,495.79 680.51,500.89 675.41,505.99 670.31,500.89" fill="#86ee86" stroke="#17921b" stroke-width="1.7" />
<circle cx="675.41" cy="500.89" r="1.0" fill="#137a16"/>
<polygon points="682.60,508.84 687.70,513.94 682.60,519.04 677.50,513.94" fill="#86ee86" stroke="#17921b" stroke-width="1.7" />
<circle cx="682.60" cy="513.94" r="1.0" fill="#137a16"/>
<rect x="423.60" y="322.30" width="259.00" height="207.80" fill="none" stroke="#000" stroke-width="1.3" />
<line x1="509.93" y1="322.30" x2="509.93" y2="530.10" stroke="#000" stroke-width="1.2" />
<line x1="596.27" y1="322.30" x2="596.27" y2="530.10" stroke="#000" stroke-width="1.2" />
<line x1="419.60" y1="322.30" x2="423.60" y2="322.30" stroke="#000" stroke-width="1.1" />
<text x="416.20" y="326.10" font-size="10.8" text-anchor="end" font-weight="bold" fill="#000" >0.0</text>
<line x1="421.10" y1="333.84" x2="423.60" y2="333.84" stroke="#000" stroke-width="1.1" />
<line x1="419.60" y1="345.39" x2="423.60" y2="345.39" stroke="#000" stroke-width="1.1" />
<text x="416.20" y="349.19" font-size="10.8" text-anchor="end" font-weight="bold" fill="#000" >-0.2</text>
<line x1="421.10" y1="356.93" x2="423.60" y2="356.93" stroke="#000" stroke-width="1.1" />
<line x1="419.60" y1="368.48" x2="423.60" y2="368.48" stroke="#000" stroke-width="1.1" />
<text x="416.20" y="372.28" font-size="10.8" text-anchor="end" font-weight="bold" fill="#000" >-0.4</text>
<line x1="421.10" y1="380.02" x2="423.60" y2="380.02" stroke="#000" stroke-width="1.1" />
<line x1="419.60" y1="391.57" x2="423.60" y2="391.57" stroke="#000" stroke-width="1.1" />
<text x="416.20" y="395.37" font-size="10.8" text-anchor="end" font-weight="bold" fill="#000" >-0.6</text>
<line x1="421.10" y1="403.11" x2="423.60" y2="403.11" stroke="#000" stroke-width="1.1" />
<line x1="419.60" y1="414.66" x2="423.60" y2="414.66" stroke="#000" stroke-width="1.1" />
<text x="416.20" y="418.46" font-size="10.8" text-anchor="end" font-weight="bold" fill="#000" >-0.8</text>
<line x1="421.10" y1="426.20" x2="423.60" y2="426.20" stroke="#000" stroke-width="1.1" />
<line x1="419.60" y1="437.74" x2="423.60" y2="437.74" stroke="#000" stroke-width="1.1" />
<text x="416.20" y="441.54" font-size="10.8" text-anchor="end" font-weight="bold" fill="#000" >-1.0</text>
<line x1="421.10" y1="449.29" x2="423.60" y2="449.29" stroke="#000" stroke-width="1.1" />
<line x1="419.60" y1="460.83" x2="423.60" y2="460.83" stroke="#000" stroke-width="1.1" />
<text x="416.20" y="464.63" font-size="10.8" text-anchor="end" font-weight="bold" fill="#000" >-1.2</text>
<line x1="421.10" y1="472.38" x2="423.60" y2="472.38" stroke="#000" stroke-width="1.1" />
<line x1="419.60" y1="483.92" x2="423.60" y2="483.92" stroke="#000" stroke-width="1.1" />
<text x="416.20" y="487.72" font-size="10.8" text-anchor="end" font-weight="bold" fill="#000" >-1.4</text>
<line x1="421.10" y1="495.47" x2="423.60" y2="495.47" stroke="#000" stroke-width="1.1" />
<line x1="419.60" y1="507.01" x2="423.60" y2="507.01" stroke="#000" stroke-width="1.1" />
<text x="416.20" y="510.81" font-size="10.8" text-anchor="end" font-weight="bold" fill="#000" >-1.6</text>
<line x1="421.10" y1="518.56" x2="423.60" y2="518.56" stroke="#000" stroke-width="1.1" />
<line x1="419.60" y1="530.10" x2="423.60" y2="530.10" stroke="#000" stroke-width="1.1" />
<text x="416.20" y="533.90" font-size="10.8" text-anchor="end" font-weight="bold" fill="#000" >-1.8</text>
<line x1="423.60" y1="530.10" x2="423.60" y2="534.10" stroke="#000" stroke-width="1.1" />
<line x1="437.99" y1="530.10" x2="437.99" y2="532.60" stroke="#000" stroke-width="1.1" />
<line x1="452.38" y1="530.10" x2="452.38" y2="534.10" stroke="#000" stroke-width="1.1" />
<line x1="466.77" y1="530.10" x2="466.77" y2="532.60" stroke="#000" stroke-width="1.1" />
<line x1="481.16" y1="530.10" x2="481.16" y2="534.10" stroke="#000" stroke-width="1.1" />
<line x1="495.54" y1="530.10" x2="495.54" y2="532.60" stroke="#000" stroke-width="1.1" />
<line x1="509.93" y1="530.10" x2="509.93" y2="534.10" stroke="#000" stroke-width="1.1" />
<line x1="509.93" y1="530.10" x2="509.93" y2="534.10" stroke="#000" stroke-width="1.1" />
<line x1="524.32" y1="530.10" x2="524.32" y2="532.60" stroke="#000" stroke-width="1.1" />
<line x1="538.71" y1="530.10" x2="538.71" y2="534.10" stroke="#000" stroke-width="1.1" />
<line x1="553.10" y1="530.10" x2="553.10" y2="532.60" stroke="#000" stroke-width="1.1" />
<line x1="567.49" y1="530.10" x2="567.49" y2="534.10" stroke="#000" stroke-width="1.1" />
<line x1="581.88" y1="530.10" x2="581.88" y2="532.60" stroke="#000" stroke-width="1.1" />
<line x1="596.27" y1="530.10" x2="596.27" y2="534.10" stroke="#000" stroke-width="1.1" />
<line x1="596.27" y1="530.10" x2="596.27" y2="534.10" stroke="#000" stroke-width="1.1" />
<line x1="610.66" y1="530.10" x2="610.66" y2="532.60" stroke="#000" stroke-width="1.1" />
<line x1="625.04" y1="530.10" x2="625.04" y2="534.10" stroke="#000" stroke-width="1.1" />
<line x1="639.43" y1="530.10" x2="639.43" y2="532.60" stroke="#000" stroke-width="1.1" />
<line x1="653.82" y1="530.10" x2="653.82" y2="534.10" stroke="#000" stroke-width="1.1" />
<line x1="668.21" y1="530.10" x2="668.21" y2="532.60" stroke="#000" stroke-width="1.1" />
<line x1="682.60" y1="530.10" x2="682.60" y2="534.10" stroke="#000" stroke-width="1.1" />
<text x="423.60" y="545.60" font-size="10.8" text-anchor="middle" font-weight="bold" fill="#000" >0</text>
<text x="452.38" y="545.60" font-size="10.8" text-anchor="middle" font-weight="bold" fill="#000" >20</text>
<text x="481.16" y="545.60" font-size="10.8" text-anchor="middle" font-weight="bold" fill="#000" >40</text>
<text x="509.93" y="545.60" font-size="10.8" text-anchor="middle" font-weight="bold" fill="#000" >60</text>
<text x="538.71" y="545.60" font-size="10.8" text-anchor="middle" font-weight="bold" fill="#000" >20</text>
<text x="567.49" y="545.60" font-size="10.8" text-anchor="middle" font-weight="bold" fill="#000" >40</text>
<text x="596.27" y="545.60" font-size="10.8" text-anchor="middle" font-weight="bold" fill="#000" >60</text>
<text x="625.04" y="545.60" font-size="10.8" text-anchor="middle" font-weight="bold" fill="#000" >20</text>
<text x="653.82" y="545.60" font-size="10.8" text-anchor="middle" font-weight="bold" fill="#000" >40</text>
<text x="682.60" y="545.60" font-size="10.8" text-anchor="middle" font-weight="bold" fill="#000" >60</text>
<text x="488.00" y="411.30" font-size="11.2" text-anchor="middle" font-weight="bold" fill="#000" >1st</text>
<text x="573.00" y="411.30" font-size="11.2" text-anchor="middle" font-weight="bold" fill="#000" >2nd</text>
<text x="659.50" y="411.30" font-size="11.2" text-anchor="middle" font-weight="bold" fill="#000" >3rd</text>
<text x="549.50" y="563.30" font-size="13.4" text-anchor="middle" font-weight="bold" fill="#000" >Time (min)</text>
<text transform="translate(389.8,426) rotate(-90)" font-size="13.4" font-weight="bold" text-anchor="middle">Mass change (kg·m<tspan dy="-4.5" font-size="8.8">-2</tspan><tspan dy="4.5">)</tspan></text>
<rect x="756.30" y="322.00" width="261.00" height="209.00" fill="none" stroke="#000" stroke-width="1.3" />
<line x1="756.30" y1="531.00" x2="756.30" y2="535.00" stroke="#000" stroke-width="1.1" />
<text x="756.30" y="546.20" font-size="10.5" text-anchor="middle" font-weight="bold" fill="#000" >0.6</text>
<line x1="767.17" y1="531.00" x2="767.17" y2="533.50" stroke="#000" stroke-width="1.1" />
<line x1="778.05" y1="531.00" x2="778.05" y2="535.00" stroke="#000" stroke-width="1.1" />
<text x="778.05" y="546.20" font-size="10.5" text-anchor="middle" font-weight="bold" fill="#000" >0.7</text>
<line x1="788.92" y1="531.00" x2="788.92" y2="533.50" stroke="#000" stroke-width="1.1" />
<line x1="799.80" y1="531.00" x2="799.80" y2="535.00" stroke="#000" stroke-width="1.1" />
<text x="799.80" y="546.20" font-size="10.5" text-anchor="middle" font-weight="bold" fill="#000" >0.8</text>
<line x1="810.67" y1="531.00" x2="810.67" y2="533.50" stroke="#000" stroke-width="1.1" />
<line x1="821.55" y1="531.00" x2="821.55" y2="535.00" stroke="#000" stroke-width="1.1" />
<text x="821.55" y="546.20" font-size="10.5" text-anchor="middle" font-weight="bold" fill="#000" >0.9</text>
<line x1="832.42" y1="531.00" x2="832.42" y2="533.50" stroke="#000" stroke-width="1.1" />
<line x1="843.30" y1="531.00" x2="843.30" y2="535.00" stroke="#000" stroke-width="1.1" />
<text x="843.30" y="546.20" font-size="10.5" text-anchor="middle" font-weight="bold" fill="#000" >1.0</text>
<line x1="854.17" y1="531.00" x2="854.17" y2="533.50" stroke="#000" stroke-width="1.1" />
<line x1="865.05" y1="531.00" x2="865.05" y2="535.00" stroke="#000" stroke-width="1.1" />
<text x="865.05" y="546.20" font-size="10.5" text-anchor="middle" font-weight="bold" fill="#000" >1.1</text>
<line x1="875.92" y1="531.00" x2="875.92" y2="533.50" stroke="#000" stroke-width="1.1" />
<line x1="886.80" y1="531.00" x2="886.80" y2="535.00" stroke="#000" stroke-width="1.1" />
<text x="886.80" y="546.20" font-size="10.5" text-anchor="middle" font-weight="bold" fill="#000" >1.2</text>
<line x1="897.67" y1="531.00" x2="897.67" y2="533.50" stroke="#000" stroke-width="1.1" />
<line x1="908.55" y1="531.00" x2="908.55" y2="535.00" stroke="#000" stroke-width="1.1" />
<text x="908.55" y="546.20" font-size="10.5" text-anchor="middle" font-weight="bold" fill="#000" >1.3</text>
<line x1="919.42" y1="531.00" x2="919.42" y2="533.50" stroke="#000" stroke-width="1.1" />
<line x1="930.30" y1="531.00" x2="930.30" y2="535.00" stroke="#000" stroke-width="1.1" />
<text x="930.30" y="546.20" font-size="10.5" text-anchor="middle" font-weight="bold" fill="#000" >1.4</text>
<line x1="941.17" y1="531.00" x2="941.17" y2="533.50" stroke="#000" stroke-width="1.1" />
<line x1="952.05" y1="531.00" x2="952.05" y2="535.00" stroke="#000" stroke-width="1.1" />
<text x="952.05" y="546.20" font-size="10.5" text-anchor="middle" font-weight="bold" fill="#000" >1.5</text>
<line x1="962.92" y1="531.00" x2="962.92" y2="533.50" stroke="#000" stroke-width="1.1" />
<line x1="973.80" y1="531.00" x2="973.80" y2="535.00" stroke="#000" stroke-width="1.1" />
<text x="973.80" y="546.20" font-size="10.5" text-anchor="middle" font-weight="bold" fill="#000" >1.6</text>
<line x1="984.67" y1="531.00" x2="984.67" y2="533.50" stroke="#000" stroke-width="1.1" />
<line x1="995.55" y1="531.00" x2="995.55" y2="535.00" stroke="#000" stroke-width="1.1" />
<text x="995.55" y="546.20" font-size="10.5" text-anchor="middle" font-weight="bold" fill="#000" >1.7</text>
<line x1="1006.42" y1="531.00" x2="1006.42" y2="533.50" stroke="#000" stroke-width="1.1" />
<line x1="1017.30" y1="531.00" x2="1017.30" y2="535.00" stroke="#000" stroke-width="1.1" />
<text x="1017.30" y="546.20" font-size="10.5" text-anchor="middle" font-weight="bold" fill="#000" >1.8</text>
<line x1="753.80" y1="531.00" x2="756.30" y2="531.00" stroke="#000" stroke-width="1.1" />
<line x1="752.30" y1="512.00" x2="756.30" y2="512.00" stroke="#000" stroke-width="1.1" />
<text x="749.10" y="515.70" font-size="10.5" text-anchor="end" font-weight="bold" fill="#000" >0</text>
<line x1="753.80" y1="493.00" x2="756.30" y2="493.00" stroke="#000" stroke-width="1.1" />
<line x1="752.30" y1="474.00" x2="756.30" y2="474.00" stroke="#000" stroke-width="1.1" />
<text x="749.10" y="477.70" font-size="10.5" text-anchor="end" font-weight="bold" fill="#000" >1000</text>
<line x1="753.80" y1="455.00" x2="756.30" y2="455.00" stroke="#000" stroke-width="1.1" />
<line x1="752.30" y1="436.00" x2="756.30" y2="436.00" stroke="#000" stroke-width="1.1" />
<text x="749.10" y="439.70" font-size="10.5" text-anchor="end" font-weight="bold" fill="#000" >2000</text>
<line x1="753.80" y1="417.00" x2="756.30" y2="417.00" stroke="#000" stroke-width="1.1" />
<line x1="752.30" y1="398.00" x2="756.30" y2="398.00" stroke="#000" stroke-width="1.1" />
<text x="749.10" y="401.70" font-size="10.5" text-anchor="end" font-weight="bold" fill="#000" >3000</text>
<line x1="753.80" y1="379.00" x2="756.30" y2="379.00" stroke="#000" stroke-width="1.1" />
<line x1="752.30" y1="360.00" x2="756.30" y2="360.00" stroke="#000" stroke-width="1.1" />
<text x="749.10" y="363.70" font-size="10.5" text-anchor="end" font-weight="bold" fill="#000" >4000</text>
<line x1="753.80" y1="341.00" x2="756.30" y2="341.00" stroke="#000" stroke-width="1.1" />
<line x1="752.30" y1="322.00" x2="756.30" y2="322.00" stroke="#000" stroke-width="1.1" />
<text x="749.10" y="325.70" font-size="10.5" text-anchor="end" font-weight="bold" fill="#000" >5000</text>
<polygon points="763.44,326.40 772.18,331.00 763.44,335.60" fill="#f0bff8" stroke="#c43fdc" stroke-width="2.0" />
<circle cx="766.70" cy="331.00" r="0.8" fill="#c43fdc"/>
<text x="781.00" y="334.90" font-size="9.8" text-anchor="start" font-weight="bold" fill="#000" >Ref. 23</text>
<rect x="763.34" y="339.46" width="7.91" height="7.91" fill="#f4c49a" stroke="#ba6428" stroke-width="2.0" />
<circle cx="767.30" cy="343.42" r="0.9" fill="#c2672c"/>
<text x="781.00" y="347.32" font-size="9.8" text-anchor="start" font-weight="bold" fill="#000" >Ref. 24</text>
<circle cx="767.30" cy="355.84" r="4.05" fill="#b8def8" stroke="#1a60a8" stroke-width="2.0"/>
<circle cx="767.30" cy="355.84" r="1.0" fill="#1d6fb1"/>
<text x="781.00" y="359.74" font-size="9.8" text-anchor="start" font-weight="bold" fill="#000" >Ref. 54</text>
<polygon points="767.30,363.69 772.02,367.12 770.22,372.68 764.38,372.68 762.58,367.12" fill="#98a2f2" stroke="#5f6de0" stroke-width="1.8" />
<circle cx="767.30" cy="368.66" r="0.8" fill="#4f5dd6"/>
<text x="781.00" y="372.16" font-size="9.8" text-anchor="start" font-weight="bold" fill="#000" >Ref. 55</text>
<polygon points="767.30,376.17 771.20,378.43 771.20,382.93 767.30,385.19 763.40,382.93 763.40,378.43" fill="#7ade7a" stroke="#128612" stroke-width="2.0" />
<circle cx="767.30" cy="380.68" r="0.9" fill="#0f6e12"/>
<text x="781.00" y="384.58" font-size="9.8" text-anchor="start" font-weight="bold" fill="#000" >Ref. 56</text>
<polygon points="771.53,388.22 762.33,393.10 771.53,397.98" fill="#f2f0a8" stroke="#b2ae1c" stroke-width="2.0" />
<circle cx="768.10" cy="393.10" r="0.8" fill="#b4b11c"/>
<text x="781.00" y="397.00" font-size="9.8" text-anchor="start" font-weight="bold" fill="#000" >Ref. 57</text>
<polygon points="767.30,400.00 772.82,405.52 767.30,411.04 761.78,405.52" fill="#cdf2e6" stroke="#52bc9e" stroke-width="2.0" />
<circle cx="767.30" cy="405.52" r="0.8" fill="#56bea2"/>
<text x="781.00" y="409.42" font-size="9.8" text-anchor="start" font-weight="bold" fill="#000" >Ref. 58</text>
<polygon points="965.25,495.60 974.75,500.60 965.25,505.60" fill="#f0bff8" stroke="#c43fdc" stroke-width="2.0" />
<circle cx="968.85" cy="500.60" r="0.8" fill="#c43fdc"/>
<rect x="943.40" y="465.90" width="8.60" height="8.60" fill="#f4c49a" stroke="#ba6428" stroke-width="2.0" />
<circle cx="947.70" cy="470.20" r="0.9" fill="#c2672c"/>
<circle cx="912.90" cy="341.00" r="4.40" fill="#b8def8" stroke="#1a60a8" stroke-width="2.0"/>
<circle cx="912.90" cy="341.00" r="1.0" fill="#1d6fb1"/>
<polygon points="843.30,419.60 848.44,423.33 846.47,429.37 840.13,429.37 838.16,423.33" fill="#98a2f2" stroke="#5f6de0" stroke-width="1.8" />
<circle cx="843.30" cy="425.00" r="0.8" fill="#4f5dd6"/>
<polygon points="928.12,495.70 932.37,498.15 932.37,503.05 928.12,505.50 923.88,503.05 923.88,498.15" fill="#7ade7a" stroke="#128612" stroke-width="2.0" />
<circle cx="928.12" cy="500.60" r="0.9" fill="#0f6e12"/>
<polygon points="960.35,400.30 950.35,405.60 960.35,410.90" fill="#f2f0a8" stroke="#b2ae1c" stroke-width="2.0" />
<circle cx="956.55" cy="405.60" r="0.8" fill="#b4b11c"/>
<polygon points="973.80,388.20 979.80,394.20 973.80,400.20 967.80,394.20" fill="#cdf2e6" stroke="#52bc9e" stroke-width="2.0" />
<circle cx="973.80" cy="394.20" r="0.8" fill="#56bea2"/>
<polygon points="975.60,371.30 977.30,375.95 982.26,376.14 978.36,379.20 979.71,383.96 975.60,381.20 971.49,383.96 972.84,379.20 968.94,376.14 973.90,375.95" fill="#ec1c24" stroke="none" stroke-width="1" />
<text x="913.50" y="355.30" font-size="9.8" text-anchor="middle" font-weight="bold" fill="#2b6eae" >Mesoporous wood-based membrane</text>
<text x="939.30" y="382.80" font-size="11.7" text-anchor="middle" font-weight="bold" fill="#e8202a" >This work</text>
<text x="889.70" y="396.70" font-size="9.8" text-anchor="middle" font-weight="bold" fill="#5ec2a6" >PAN based nanofibrous aerogel</text>
<text x="933.00" y="421.20" font-size="9.8" text-anchor="middle" font-weight="bold" fill="#b8b326" >Janus polypyrrole melamine foam</text>
<text x="817.50" y="440.00" font-size="9.8" text-anchor="middle" font-weight="bold" fill="#6b78e6" >PLA-based membrane</text>
<text x="944.50" y="483.60" font-size="9.1" text-anchor="middle" font-weight="bold" fill="#ad5f24" >Firbous Mxene aerogel</text>
<text x="841.00" y="503.00" font-size="9.8" text-anchor="middle" font-weight="bold" fill="#1f921f" >Modified cotton fabric membrane</text>
<text x="892.30" y="518.60" font-size="9.8" text-anchor="middle" font-weight="bold" fill="#d24ee0" >Carbon nanotubes/cellulose composite membrane</text>
<text x="886.80" y="567.30" font-size="12.8" text-anchor="middle" font-weight="bold" fill="#000" >Evaporation rate (kg·m<tspan dy="-4.3" font-size="8.6">-2</tspan><tspan dy="4.3">·h</tspan><tspan dy="-4.3" font-size="8.6">-1</tspan><tspan dy="4.3">)</tspan></text>
<text transform="translate(719.5,427) rotate(-90)" font-size="12.7" font-weight="bold" text-anchor="middle">Separation flux (L·m<tspan dy="-4.3" font-size="8.6">-2</tspan><tspan dy="4.3">·h</tspan><tspan dy="-4.3" font-size="8.6">-1</tspan><tspan dy="4.3">)</tspan></text>
<rect x="68.60" y="626.56" width="21.10" height="174.94" fill="#3b7fc2" stroke="none" stroke-width="1" />
<rect x="89.70" y="724.51" width="21.10" height="76.99" fill="#b5d3ec" stroke="none" stroke-width="1" />
<rect x="132.90" y="658.61" width="21.10" height="142.89" fill="#3b7fc2" stroke="none" stroke-width="1" />
<rect x="154.00" y="729.73" width="21.10" height="71.77" fill="#b5d3ec" stroke="none" stroke-width="1" />
<rect x="197.30" y="678.75" width="21.10" height="122.75" fill="#3b7fc2" stroke="none" stroke-width="1" />
<rect x="218.40" y="769.07" width="21.10" height="32.43" fill="#b5d3ec" stroke="none" stroke-width="1" />
<rect x="261.60" y="676.62" width="21.10" height="124.88" fill="#3b7fc2" stroke="none" stroke-width="1" />
<rect x="282.70" y="777.99" width="21.10" height="23.51" fill="#b5d3ec" stroke="none" stroke-width="1" />
<line x1="56.80" y1="687.56" x2="314.70" y2="687.56" stroke="#d42a2e" stroke-width="1.5" stroke-dasharray="5.5,3"/>
<text x="94.20" y="684.40" font-size="11" text-anchor="start" font-weight="bold" fill="#d8232a" >WHO</text>
<rect x="56.80" y="594.40" width="257.90" height="207.10" fill="none" stroke="#000" stroke-width="1.3" />
<line x1="52.80" y1="801.50" x2="56.80" y2="801.50" stroke="#000" stroke-width="1.1" />
<text x="45.80" y="805.50" font-size="10.8" text-anchor="end" font-weight="bold" fill="#000" >10</text>
<text x="45.90" y="799.90" font-size="8.2" text-anchor="start" font-weight="bold" fill="#000" >-1</text>
<line x1="54.60" y1="791.11" x2="56.80" y2="791.11" stroke="#000" stroke-width="1.0" />
<line x1="54.60" y1="785.03" x2="56.80" y2="785.03" stroke="#000" stroke-width="1.0" />
<line x1="54.60" y1="780.72" x2="56.80" y2="780.72" stroke="#000" stroke-width="1.0" />
<line x1="54.60" y1="777.37" x2="56.80" y2="777.37" stroke="#000" stroke-width="1.0" />
<line x1="54.60" y1="774.64" x2="56.80" y2="774.64" stroke="#000" stroke-width="1.0" />
<line x1="54.60" y1="772.33" x2="56.80" y2="772.33" stroke="#000" stroke-width="1.0" />
<line x1="54.60" y1="770.33" x2="56.80" y2="770.33" stroke="#000" stroke-width="1.0" />
<line x1="54.60" y1="768.56" x2="56.80" y2="768.56" stroke="#000" stroke-width="1.0" />
<line x1="52.80" y1="766.98" x2="56.80" y2="766.98" stroke="#000" stroke-width="1.1" />
<text x="45.80" y="770.98" font-size="10.8" text-anchor="end" font-weight="bold" fill="#000" >10</text>
<text x="45.90" y="765.38" font-size="8.2" text-anchor="start" font-weight="bold" fill="#000" >0</text>
<line x1="54.60" y1="756.59" x2="56.80" y2="756.59" stroke="#000" stroke-width="1.0" />
<line x1="54.60" y1="750.51" x2="56.80" y2="750.51" stroke="#000" stroke-width="1.0" />
<line x1="54.60" y1="746.20" x2="56.80" y2="746.20" stroke="#000" stroke-width="1.0" />
<line x1="54.60" y1="742.86" x2="56.80" y2="742.86" stroke="#000" stroke-width="1.0" />
<line x1="54.60" y1="740.12" x2="56.80" y2="740.12" stroke="#000" stroke-width="1.0" />
<line x1="54.60" y1="737.81" x2="56.80" y2="737.81" stroke="#000" stroke-width="1.0" />
<line x1="54.60" y1="735.81" x2="56.80" y2="735.81" stroke="#000" stroke-width="1.0" />
<line x1="54.60" y1="734.05" x2="56.80" y2="734.05" stroke="#000" stroke-width="1.0" />
<line x1="52.80" y1="732.47" x2="56.80" y2="732.47" stroke="#000" stroke-width="1.1" />
<text x="45.80" y="736.47" font-size="10.8" text-anchor="end" font-weight="bold" fill="#000" >10</text>
<text x="45.90" y="730.87" font-size="8.2" text-anchor="start" font-weight="bold" fill="#000" >1</text>
<line x1="54.60" y1="722.08" x2="56.80" y2="722.08" stroke="#000" stroke-width="1.0" />
<line x1="54.60" y1="716.00" x2="56.80" y2="716.00" stroke="#000" stroke-width="1.0" />
<line x1="54.60" y1="711.69" x2="56.80" y2="711.69" stroke="#000" stroke-width="1.0" />
<line x1="54.60" y1="708.34" x2="56.80" y2="708.34" stroke="#000" stroke-width="1.0" />
<line x1="54.60" y1="705.61" x2="56.80" y2="705.61" stroke="#000" stroke-width="1.0" />
<line x1="54.60" y1="703.30" x2="56.80" y2="703.30" stroke="#000" stroke-width="1.0" />
<line x1="54.60" y1="701.30" x2="56.80" y2="701.30" stroke="#000" stroke-width="1.0" />
<line x1="54.60" y1="699.53" x2="56.80" y2="699.53" stroke="#000" stroke-width="1.0" />
<line x1="52.80" y1="697.95" x2="56.80" y2="697.95" stroke="#000" stroke-width="1.1" />
<text x="45.80" y="701.95" font-size="10.8" text-anchor="end" font-weight="bold" fill="#000" >10</text>
<text x="45.90" y="696.35" font-size="8.2" text-anchor="start" font-weight="bold" fill="#000" >2</text>
<line x1="54.60" y1="687.56" x2="56.80" y2="687.56" stroke="#000" stroke-width="1.0" />
<line x1="54.60" y1="681.48" x2="56.80" y2="681.48" stroke="#000" stroke-width="1.0" />
<line x1="54.60" y1="677.17" x2="56.80" y2="677.17" stroke="#000" stroke-width="1.0" />
<line x1="54.60" y1="673.82" x2="56.80" y2="673.82" stroke="#000" stroke-width="1.0" />
<line x1="54.60" y1="671.09" x2="56.80" y2="671.09" stroke="#000" stroke-width="1.0" />
<line x1="54.60" y1="668.78" x2="56.80" y2="668.78" stroke="#000" stroke-width="1.0" />
<line x1="54.60" y1="666.78" x2="56.80" y2="666.78" stroke="#000" stroke-width="1.0" />
<line x1="54.60" y1="665.01" x2="56.80" y2="665.01" stroke="#000" stroke-width="1.0" />
<line x1="52.80" y1="663.43" x2="56.80" y2="663.43" stroke="#000" stroke-width="1.1" />
<text x="45.80" y="667.43" font-size="10.8" text-anchor="end" font-weight="bold" fill="#000" >10</text>
<text x="45.90" y="661.83" font-size="8.2" text-anchor="start" font-weight="bold" fill="#000" >3</text>
<line x1="54.60" y1="653.04" x2="56.80" y2="653.04" stroke="#000" stroke-width="1.0" />
<line x1="54.60" y1="646.96" x2="56.80" y2="646.96" stroke="#000" stroke-width="1.0" />
<line x1="54.60" y1="642.65" x2="56.80" y2="642.65" stroke="#000" stroke-width="1.0" />
<line x1="54.60" y1="639.31" x2="56.80" y2="639.31" stroke="#000" stroke-width="1.0" />
<line x1="54.60" y1="636.57" x2="56.80" y2="636.57" stroke="#000" stroke-width="1.0" />
<line x1="54.60" y1="634.26" x2="56.80" y2="634.26" stroke="#000" stroke-width="1.0" />
<line x1="54.60" y1="632.26" x2="56.80" y2="632.26" stroke="#000" stroke-width="1.0" />
<line x1="54.60" y1="630.50" x2="56.80" y2="630.50" stroke="#000" stroke-width="1.0" />
<line x1="52.80" y1="628.92" x2="56.80" y2="628.92" stroke="#000" stroke-width="1.1" />
<text x="45.80" y="632.92" font-size="10.8" text-anchor="end" font-weight="bold" fill="#000" >10</text>
<text x="45.90" y="627.32" font-size="8.2" text-anchor="start" font-weight="bold" fill="#000" >4</text>
<line x1="54.60" y1="618.53" x2="56.80" y2="618.53" stroke="#000" stroke-width="1.0" />
<line x1="54.60" y1="612.45" x2="56.80" y2="612.45" stroke="#000" stroke-width="1.0" />
<line x1="54.60" y1="608.14" x2="56.80" y2="608.14" stroke="#000" stroke-width="1.0" />
<line x1="54.60" y1="604.79" x2="56.80" y2="604.79" stroke="#000" stroke-width="1.0" />
<line x1="54.60" y1="602.06" x2="56.80" y2="602.06" stroke="#000" stroke-width="1.0" />
<line x1="54.60" y1="599.75" x2="56.80" y2="599.75" stroke="#000" stroke-width="1.0" />
<line x1="54.60" y1="597.75" x2="56.80" y2="597.75" stroke="#000" stroke-width="1.0" />
<line x1="54.60" y1="595.98" x2="56.80" y2="595.98" stroke="#000" stroke-width="1.0" />
<line x1="52.80" y1="594.40" x2="56.80" y2="594.40" stroke="#000" stroke-width="1.1" />
<text x="45.80" y="598.40" font-size="10.8" text-anchor="end" font-weight="bold" fill="#000" >10</text>
<text x="45.90" y="592.80" font-size="8.2" text-anchor="start" font-weight="bold" fill="#000" >5</text>
<line x1="89.70" y1="801.50" x2="89.70" y2="805.50" stroke="#000" stroke-width="1.1" />
<line x1="154.00" y1="801.50" x2="154.00" y2="805.50" stroke="#000" stroke-width="1.1" />
<line x1="218.40" y1="801.50" x2="218.40" y2="805.50" stroke="#000" stroke-width="1.1" />
<line x1="282.70" y1="801.50" x2="282.70" y2="805.50" stroke="#000" stroke-width="1.1" />
<text x="85.00" y="817.00" font-size="10.8" text-anchor="middle" font-weight="bold" fill="#000" >Na</text>
<text x="92.30" y="811.80" font-size="7.4" text-anchor="start" font-weight="bold" fill="#000" >+</text>
<text x="152.00" y="817.00" font-size="10.8" text-anchor="middle" font-weight="bold" fill="#000" >Mg</text>
<text x="160.00" y="811.80" font-size="7.4" text-anchor="start" font-weight="bold" fill="#000" >2+</text>
<text x="217.00" y="817.00" font-size="10.8" text-anchor="middle" font-weight="bold" fill="#000" >K</text>
<text x="221.00" y="811.80" font-size="7.4" text-anchor="start" font-weight="bold" fill="#000" >+</text>
<text x="280.00" y="817.00" font-size="10.8" text-anchor="middle" font-weight="bold" fill="#000" >Ca</text>
<text x="287.50" y="811.80" font-size="7.4" text-anchor="start" font-weight="bold" fill="#000" >2+</text>
<text x="62.00" y="606.40" font-size="10.7" text-anchor="start" font-weight="bold" fill="#000" >Bohai Seawater</text>
<rect x="188.80" y="598.30" width="21.50" height="11.20" fill="#3b7fc2" stroke="none" stroke-width="1" />
<rect x="188.80" y="611.40" width="21.50" height="11.00" fill="#b5d3ec" stroke="none" stroke-width="1" />
<text x="213.40" y="607.80" font-size="10.7" text-anchor="start" font-weight="bold" fill="#000" >Before desalination</text>
<text x="213.40" y="620.80" font-size="10.7" text-anchor="start" font-weight="bold" fill="#000" >After desalination</text>
<text transform="translate(25.6,697) rotate(-90)" font-size="13.4" font-weight="bold" text-anchor="middle">Ion concentration (mg/L)</text>
<rect x="449.00" y="623.41" width="34.80" height="178.79" fill="#a7d8f1" stroke="none" stroke-width="1" />
<line x1="466.40" y1="618.21" x2="466.40" y2="628.60" stroke="#111" stroke-width="1.3" />
<line x1="463.80" y1="618.21" x2="469.00" y2="618.21" stroke="#111" stroke-width="1.3" />
<line x1="463.80" y1="628.60" x2="469.00" y2="628.60" stroke="#111" stroke-width="1.3" />
<text transform="translate(462.20,715) rotate(-90)" font-size="11.2" font-weight="bold" text-anchor="middle" fill="#141824" textLength="102.5" lengthAdjust="spacingAndGlyphs">Direct evaporation</text>
<text transform="translate(479.00,715.5) rotate(-90)" font-size="11.4" font-weight="bold" text-anchor="middle" fill="#141824" textLength="92" lengthAdjust="spacingAndGlyphs">(Pure seawater)</text>
<rect x="535.40" y="627.56" width="34.80" height="174.64" fill="#a7d8f1" stroke="none" stroke-width="1" />
<line x1="552.80" y1="620.29" x2="552.80" y2="635.88" stroke="#111" stroke-width="1.3" />
<line x1="550.20" y1="620.29" x2="555.40" y2="620.29" stroke="#111" stroke-width="1.3" />
<line x1="550.20" y1="635.88" x2="555.40" y2="635.88" stroke="#111" stroke-width="1.3" />
<text transform="translate(548.60,718.7) rotate(-90)" font-size="11.2" font-weight="bold" text-anchor="middle" fill="#141824" textLength="122.5" lengthAdjust="spacingAndGlyphs">Integrated purification</text>
<text transform="translate(565.40,720.3) rotate(-90)" font-size="11.4" font-weight="bold" text-anchor="middle" fill="#141824" textLength="85" lengthAdjust="spacingAndGlyphs">(Oily seawater)</text>
<rect x="621.60" y="640.04" width="34.80" height="162.16" fill="#a7d8f1" stroke="none" stroke-width="1" />
<line x1="639.00" y1="632.24" x2="639.00" y2="647.83" stroke="#111" stroke-width="1.3" />
<line x1="636.40" y1="632.24" x2="641.60" y2="632.24" stroke="#111" stroke-width="1.3" />
<line x1="636.40" y1="647.83" x2="641.60" y2="647.83" stroke="#111" stroke-width="1.3" />
<text transform="translate(634.80,720.5) rotate(-90)" font-size="11.2" font-weight="bold" text-anchor="middle" fill="#141824" textLength="102.5" lengthAdjust="spacingAndGlyphs">Direct evaporation</text>
<text transform="translate(651.60,719.6) rotate(-90)" font-size="11.4" font-weight="bold" text-anchor="middle" fill="#141824" textLength="85" lengthAdjust="spacingAndGlyphs">(Oily seawater)</text>
<rect x="422.40" y="594.30" width="259.60" height="207.90" fill="none" stroke="#000" stroke-width="1.3" />
<line x1="418.40" y1="802.20" x2="422.40" y2="802.20" stroke="#000" stroke-width="1.1" />
<text x="415.40" y="806.00" font-size="10.8" text-anchor="end" font-weight="bold" fill="#000" >0.0</text>
<line x1="419.90" y1="791.81" x2="422.40" y2="791.81" stroke="#000" stroke-width="1.1" />
<line x1="418.40" y1="781.41" x2="422.40" y2="781.41" stroke="#000" stroke-width="1.1" />
<text x="415.40" y="785.21" font-size="10.8" text-anchor="end" font-weight="bold" fill="#000" >0.2</text>
<line x1="419.90" y1="771.01" x2="422.40" y2="771.01" stroke="#000" stroke-width="1.1" />
<line x1="418.40" y1="760.62" x2="422.40" y2="760.62" stroke="#000" stroke-width="1.1" />
<text x="415.40" y="764.42" font-size="10.8" text-anchor="end" font-weight="bold" fill="#000" >0.4</text>
<line x1="419.90" y1="750.23" x2="422.40" y2="750.23" stroke="#000" stroke-width="1.1" />
<line x1="418.40" y1="739.83" x2="422.40" y2="739.83" stroke="#000" stroke-width="1.1" />
<text x="415.40" y="743.63" font-size="10.8" text-anchor="end" font-weight="bold" fill="#000" >0.6</text>
<line x1="419.90" y1="729.44" x2="422.40" y2="729.44" stroke="#000" stroke-width="1.1" />
<line x1="418.40" y1="719.04" x2="422.40" y2="719.04" stroke="#000" stroke-width="1.1" />
<text x="415.40" y="722.84" font-size="10.8" text-anchor="end" font-weight="bold" fill="#000" >0.8</text>
<line x1="419.90" y1="708.64" x2="422.40" y2="708.64" stroke="#000" stroke-width="1.1" />
<line x1="418.40" y1="698.25" x2="422.40" y2="698.25" stroke="#000" stroke-width="1.1" />
<text x="415.40" y="702.05" font-size="10.8" text-anchor="end" font-weight="bold" fill="#000" >1.0</text>
<line x1="419.90" y1="687.86" x2="422.40" y2="687.86" stroke="#000" stroke-width="1.1" />
<line x1="418.40" y1="677.46" x2="422.40" y2="677.46" stroke="#000" stroke-width="1.1" />
<text x="415.40" y="681.26" font-size="10.8" text-anchor="end" font-weight="bold" fill="#000" >1.2</text>
<line x1="419.90" y1="667.06" x2="422.40" y2="667.06" stroke="#000" stroke-width="1.1" />
<line x1="418.40" y1="656.67" x2="422.40" y2="656.67" stroke="#000" stroke-width="1.1" />
<text x="415.40" y="660.47" font-size="10.8" text-anchor="end" font-weight="bold" fill="#000" >1.4</text>
<line x1="419.90" y1="646.27" x2="422.40" y2="646.27" stroke="#000" stroke-width="1.1" />
<line x1="418.40" y1="635.88" x2="422.40" y2="635.88" stroke="#000" stroke-width="1.1" />
<text x="415.40" y="639.68" font-size="10.8" text-anchor="end" font-weight="bold" fill="#000" >1.6</text>
<line x1="419.90" y1="625.49" x2="422.40" y2="625.49" stroke="#000" stroke-width="1.1" />
<line x1="418.40" y1="615.09" x2="422.40" y2="615.09" stroke="#000" stroke-width="1.1" />
<text x="415.40" y="618.89" font-size="10.8" text-anchor="end" font-weight="bold" fill="#000" >1.8</text>
<line x1="419.90" y1="604.69" x2="422.40" y2="604.69" stroke="#000" stroke-width="1.1" />
<line x1="418.40" y1="594.30" x2="422.40" y2="594.30" stroke="#000" stroke-width="1.1" />
<text x="415.40" y="598.10" font-size="10.8" text-anchor="end" font-weight="bold" fill="#000" >2.0</text>
<text x="555.30" y="819.60" font-size="13.8" text-anchor="middle" font-weight="bold" fill="#000" >Evaporation process</text>
<text transform="translate(396,699) rotate(-90)" font-size="13.5" font-weight="bold" text-anchor="middle">Evaporation rate (kg·m<tspan dy="-4.5" font-size="8.8">-2</tspan><tspan dy="4.5">·h</tspan><tspan dy="-4.5" font-size="8.8">-1</tspan><tspan dy="4.5">)</tspan></text>
<text x="-0.50" y="12.20" font-size="23.5" text-anchor="start" font-weight="bold" fill="#000" >a</text>
<text x="510.20" y="17.00" font-size="23.5" text-anchor="start" font-weight="bold" fill="#000" >b</text>
<text x="-0.40" y="325.20" font-size="23.5" text-anchor="start" font-weight="bold" fill="#000" >c</text>
<text x="369.90" y="331.00" font-size="23.5" text-anchor="start" font-weight="bold" fill="#000" >d</text>
<text x="699.60" y="326.60" font-size="23.5" text-anchor="start" font-weight="bold" fill="#000" >e</text>
<text x="-0.30" y="602.20" font-size="23.5" text-anchor="start" font-weight="bold" fill="#000" >f</text>
<text x="370.10" y="599.10" font-size="23.5" text-anchor="start" font-weight="bold" fill="#000" >g</text>
<text x="701.40" y="602.80" font-size="23.5" text-anchor="start" font-weight="bold" fill="#000" >h</text>
</svg></body></html>
